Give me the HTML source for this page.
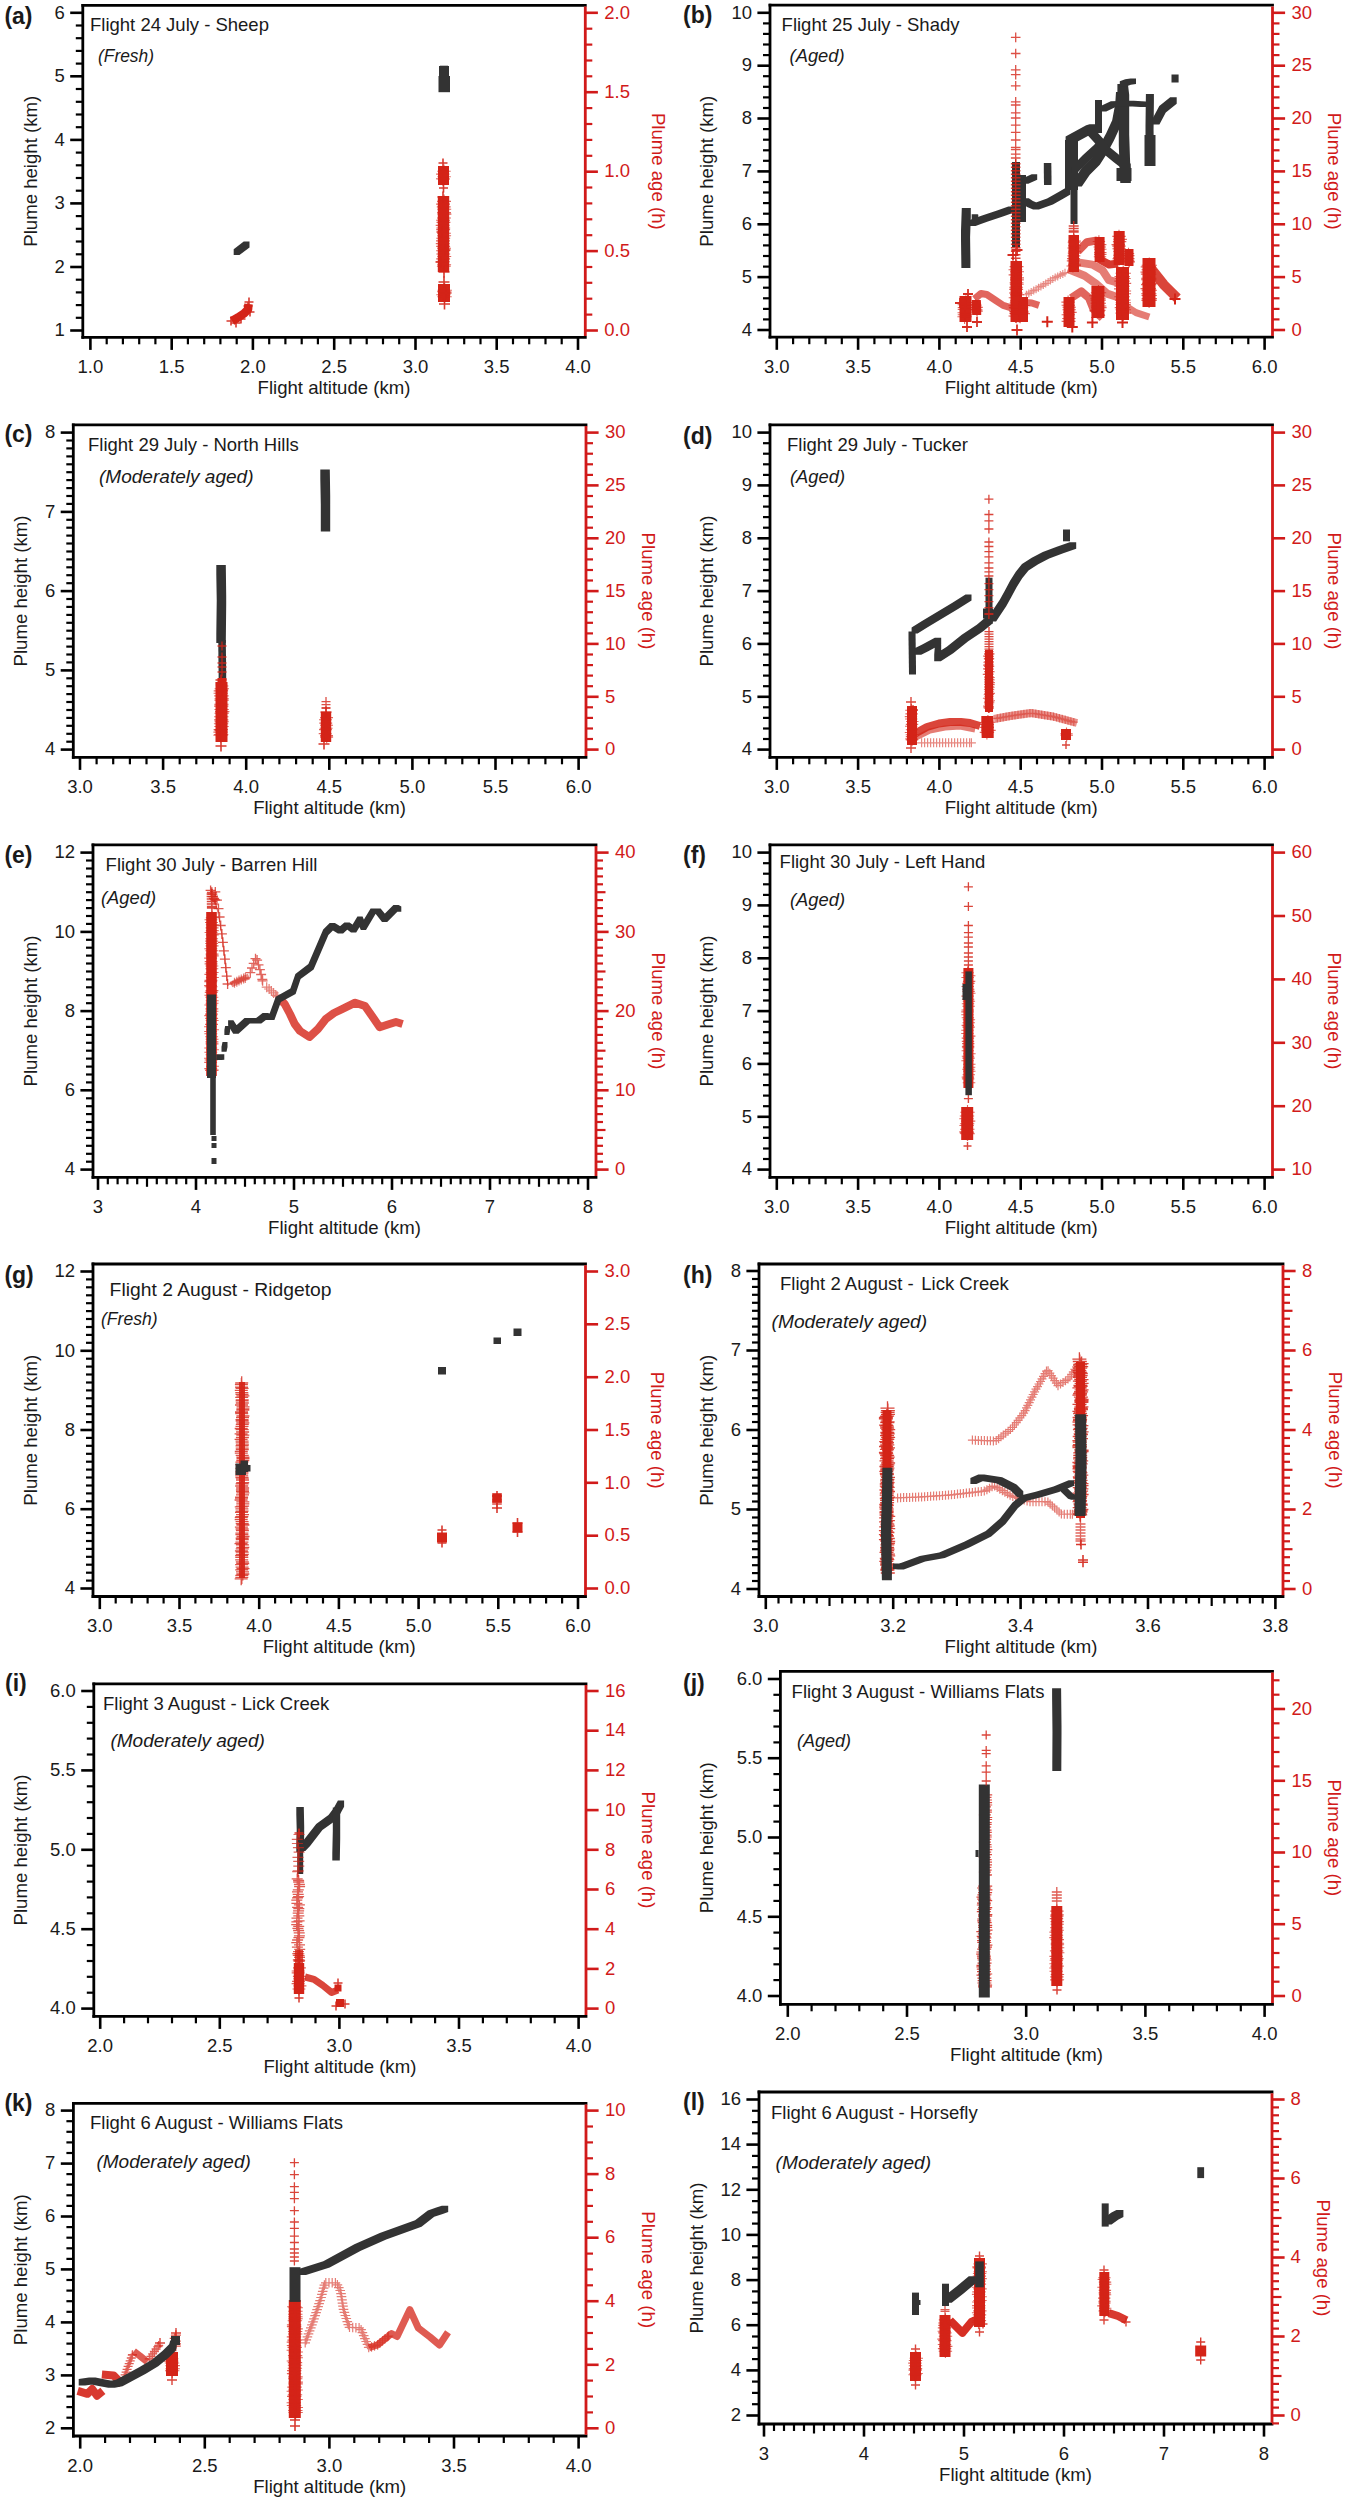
<!DOCTYPE html>
<html><head><meta charset="utf-8"><style>
html,body{margin:0;padding:0;background:#fff;}
svg{display:block;}
text{font-family:"Liberation Sans",sans-serif;fill:#1a1a1a;}
.tk{font-size:18.5px;}
.al{font-size:18.6px;}
.ti{font-size:18.5px;}
.sb{font-size:19px;font-style:italic;}
.rd{fill:#d11a1a;}
.pl{font-size:23px;font-weight:bold;}
</style></head><body>
<svg width="1345" height="2500" viewBox="0 0 1345 2500">
<rect width="1345" height="2500" fill="#fff"/>
<g id="pa"><rect x="439" y="66" width="10" height="11" fill="#333333"/>
<rect x="438.5" y="76" width="11.5" height="16.2" fill="#333333"/>
<rect x="440" y="65.7" width="8" height="1.3" fill="#333333"/>
<path d="M233.7,249.2 243.7,241.6 249.5,241.6 249.5,247.4 239.5,255 233.7,255Z" fill="#333333"/>
<path d="M232,321 238,317.5 244,313.5 248,309.5 248.5,304" fill="none" stroke="#d42418" stroke-width="8.5" stroke-linejoin="round" stroke-linecap="butt" stroke-opacity="1"/>
<path d="M226.5,321h9M231,316.5v9M231.5,323h9M236,318.5v9M244.5,302h9M249,297.5v9M243.5,306h9M248,301.5v9M245.5,312h9M250,307.5v9M236.5,319h9M241,314.5v9" fill="none" stroke="#d42418" stroke-width="1.6" stroke-opacity="0.9"/>
<path d="M438,166 449,166 449,185 438,185Z" fill="#d42418" fill-opacity="1"/>
<path d="M437.3,171.2h13.4M444,164.5v13.4M436.1,174.1h13.4M442.8,167.4v13.4M437.4,176.8h13.4M444.1,170.1v13.4M436.6,179h13.4M443.3,172.3v13.4M436,178.8h13.4M442.7,172.1v13.4" fill="none" stroke="#d42418" stroke-width="1.1" stroke-opacity="0.7"/>
<path d="M438.5,163h9M443,158.5v9M439,188h9M443.5,183.5v9" fill="none" stroke="#d42418" stroke-width="1.6" stroke-opacity="0.9"/>
<path d="M437.8,196 449.2,196 449.2,272 437.8,272Z" fill="#d42418" fill-opacity="1"/>
<path d="M437.1,201.4h13.9M444.1,194.5v13.9M436.1,204.1h13.9M443.1,197.1v13.9M436.8,206.9h13.9M443.8,200v13.9M437.3,209.3h13.9M444.3,202.4v13.9M437.1,212.6h13.9M444.1,205.7v13.9M437.5,214.1h13.9M444.5,207.1v13.9M437,218h13.9M444,211.1v13.9M436.1,220.2h13.9M443.1,213.2v13.9M436.5,222.4h13.9M443.5,215.5v13.9M435.7,225.4h13.9M442.7,218.5v13.9M436.3,228h13.9M443.3,221.1v13.9M436.2,229.6h13.9M443.1,222.7v13.9M437,233.3h13.9M443.9,226.4v13.9M437.2,235.7h13.9M444.2,228.8v13.9M436.3,238.3h13.9M443.3,231.4v13.9M436,240.9h13.9M443,234v13.9M435.8,243.6h13.9M442.7,236.6v13.9M436.2,246.4h13.9M443.2,239.5v13.9M437.1,248.3h13.9M444,241.3v13.9M436.1,250.7h13.9M443,243.7v13.9M436.3,254h13.9M443.2,247v13.9M437.3,256.5h13.9M444.2,249.5v13.9M436.2,258.9h13.9M443.2,251.9v13.9M435.9,261.7h13.9M442.9,254.7v13.9M437.2,264.8h13.9M444.2,257.9v13.9M436.9,266.3h13.9M443.9,259.4v13.9" fill="none" stroke="#d42418" stroke-width="1.1" stroke-opacity="0.7"/>
<path d="M437.5,197h11M443,191.5v11M438.5,272h11M444,266.5v11M436.5,232h11M442,226.5v11M439.5,250h11M445,244.5v11M435.5,262h11M441,256.5v11" fill="none" stroke="#d42418" stroke-width="1.6" stroke-opacity="0.9"/>
<path d="M438,284 450,284 450,302 438,302Z" fill="#d42418" fill-opacity="1"/>
<path d="M437.5,290.2h14.4M444.7,283v14.4M437,291.8h14.4M444.2,284.6v14.4M436.3,294.7h14.4M443.5,287.5v14.4M437.3,296.7h14.4M444.5,289.5v14.4" fill="none" stroke="#d42418" stroke-width="1.1" stroke-opacity="0.7"/>
<path d="M438.5,282h11M444,276.5v11M439,304h11M444.5,298.5v11M440.5,293h11M446,287.5v11" fill="none" stroke="#d42418" stroke-width="1.6" stroke-opacity="0.9"/>
<line x1="81.39999999999999" y1="5.3" x2="586.6999999999999" y2="5.3" stroke="#000" stroke-width="2.8"/>
<line x1="81.39999999999999" y1="337.3" x2="586.6999999999999" y2="337.3" stroke="#000" stroke-width="2.8"/>
<line x1="82.8" y1="3.9" x2="82.8" y2="338.7" stroke="#000" stroke-width="2.8"/>
<line x1="585.3" y1="6.5" x2="585.3" y2="336.1" stroke="#d11a1a" stroke-width="2.8"/>
<line x1="90.4" y1="337.3" x2="90.4" y2="349.9" stroke="#000" stroke-width="2.6"/>
<text x="90.4" y="373.1" text-anchor="middle" class="tk">1.0</text>
<line x1="106.7" y1="337.3" x2="106.7" y2="344.3" stroke="#000" stroke-width="2.2"/>
<line x1="122.9" y1="337.3" x2="122.9" y2="344.3" stroke="#000" stroke-width="2.2"/>
<line x1="139.2" y1="337.3" x2="139.2" y2="344.3" stroke="#000" stroke-width="2.2"/>
<line x1="155.4" y1="337.3" x2="155.4" y2="344.3" stroke="#000" stroke-width="2.2"/>
<line x1="171.7" y1="337.3" x2="171.7" y2="349.9" stroke="#000" stroke-width="2.6"/>
<text x="171.7" y="373.1" text-anchor="middle" class="tk">1.5</text>
<line x1="187.9" y1="337.3" x2="187.9" y2="344.3" stroke="#000" stroke-width="2.2"/>
<line x1="204.2" y1="337.3" x2="204.2" y2="344.3" stroke="#000" stroke-width="2.2"/>
<line x1="220.4" y1="337.3" x2="220.4" y2="344.3" stroke="#000" stroke-width="2.2"/>
<line x1="236.7" y1="337.3" x2="236.7" y2="344.3" stroke="#000" stroke-width="2.2"/>
<line x1="252.9" y1="337.3" x2="252.9" y2="349.9" stroke="#000" stroke-width="2.6"/>
<text x="252.9" y="373.1" text-anchor="middle" class="tk">2.0</text>
<line x1="269.2" y1="337.3" x2="269.2" y2="344.3" stroke="#000" stroke-width="2.2"/>
<line x1="285.4" y1="337.3" x2="285.4" y2="344.3" stroke="#000" stroke-width="2.2"/>
<line x1="301.7" y1="337.3" x2="301.7" y2="344.3" stroke="#000" stroke-width="2.2"/>
<line x1="317.9" y1="337.3" x2="317.9" y2="344.3" stroke="#000" stroke-width="2.2"/>
<line x1="334.2" y1="337.3" x2="334.2" y2="349.9" stroke="#000" stroke-width="2.6"/>
<text x="334.2" y="373.1" text-anchor="middle" class="tk">2.5</text>
<line x1="350.5" y1="337.3" x2="350.5" y2="344.3" stroke="#000" stroke-width="2.2"/>
<line x1="366.7" y1="337.3" x2="366.7" y2="344.3" stroke="#000" stroke-width="2.2"/>
<line x1="383.0" y1="337.3" x2="383.0" y2="344.3" stroke="#000" stroke-width="2.2"/>
<line x1="399.2" y1="337.3" x2="399.2" y2="344.3" stroke="#000" stroke-width="2.2"/>
<line x1="415.5" y1="337.3" x2="415.5" y2="349.9" stroke="#000" stroke-width="2.6"/>
<text x="415.5" y="373.1" text-anchor="middle" class="tk">3.0</text>
<line x1="431.7" y1="337.3" x2="431.7" y2="344.3" stroke="#000" stroke-width="2.2"/>
<line x1="448.0" y1="337.3" x2="448.0" y2="344.3" stroke="#000" stroke-width="2.2"/>
<line x1="464.2" y1="337.3" x2="464.2" y2="344.3" stroke="#000" stroke-width="2.2"/>
<line x1="480.5" y1="337.3" x2="480.5" y2="344.3" stroke="#000" stroke-width="2.2"/>
<line x1="496.7" y1="337.3" x2="496.7" y2="349.9" stroke="#000" stroke-width="2.6"/>
<text x="496.7" y="373.1" text-anchor="middle" class="tk">3.5</text>
<line x1="513.0" y1="337.3" x2="513.0" y2="344.3" stroke="#000" stroke-width="2.2"/>
<line x1="529.2" y1="337.3" x2="529.2" y2="344.3" stroke="#000" stroke-width="2.2"/>
<line x1="545.5" y1="337.3" x2="545.5" y2="344.3" stroke="#000" stroke-width="2.2"/>
<line x1="561.7" y1="337.3" x2="561.7" y2="344.3" stroke="#000" stroke-width="2.2"/>
<line x1="578.0" y1="337.3" x2="578.0" y2="349.9" stroke="#000" stroke-width="2.6"/>
<text x="578.0" y="373.1" text-anchor="middle" class="tk">4.0</text>
<line x1="70.2" y1="330.5" x2="82.8" y2="330.5" stroke="#000" stroke-width="2.6"/>
<text x="64.8" y="336.2" text-anchor="end" class="tk">1</text>
<line x1="75.8" y1="317.8" x2="82.8" y2="317.8" stroke="#000" stroke-width="2.2"/>
<line x1="75.8" y1="305.1" x2="82.8" y2="305.1" stroke="#000" stroke-width="2.2"/>
<line x1="75.8" y1="292.4" x2="82.8" y2="292.4" stroke="#000" stroke-width="2.2"/>
<line x1="75.8" y1="279.7" x2="82.8" y2="279.7" stroke="#000" stroke-width="2.2"/>
<line x1="70.2" y1="267.0" x2="82.8" y2="267.0" stroke="#000" stroke-width="2.6"/>
<text x="64.8" y="272.7" text-anchor="end" class="tk">2</text>
<line x1="75.8" y1="254.3" x2="82.8" y2="254.3" stroke="#000" stroke-width="2.2"/>
<line x1="75.8" y1="241.5" x2="82.8" y2="241.5" stroke="#000" stroke-width="2.2"/>
<line x1="75.8" y1="228.8" x2="82.8" y2="228.8" stroke="#000" stroke-width="2.2"/>
<line x1="75.8" y1="216.1" x2="82.8" y2="216.1" stroke="#000" stroke-width="2.2"/>
<line x1="70.2" y1="203.4" x2="82.8" y2="203.4" stroke="#000" stroke-width="2.6"/>
<text x="64.8" y="209.1" text-anchor="end" class="tk">3</text>
<line x1="75.8" y1="190.7" x2="82.8" y2="190.7" stroke="#000" stroke-width="2.2"/>
<line x1="75.8" y1="178.0" x2="82.8" y2="178.0" stroke="#000" stroke-width="2.2"/>
<line x1="75.8" y1="165.3" x2="82.8" y2="165.3" stroke="#000" stroke-width="2.2"/>
<line x1="75.8" y1="152.6" x2="82.8" y2="152.6" stroke="#000" stroke-width="2.2"/>
<line x1="70.2" y1="139.9" x2="82.8" y2="139.9" stroke="#000" stroke-width="2.6"/>
<text x="64.8" y="145.6" text-anchor="end" class="tk">4</text>
<line x1="75.8" y1="127.2" x2="82.8" y2="127.2" stroke="#000" stroke-width="2.2"/>
<line x1="75.8" y1="114.5" x2="82.8" y2="114.5" stroke="#000" stroke-width="2.2"/>
<line x1="75.8" y1="101.8" x2="82.8" y2="101.8" stroke="#000" stroke-width="2.2"/>
<line x1="75.8" y1="89.0" x2="82.8" y2="89.0" stroke="#000" stroke-width="2.2"/>
<line x1="70.2" y1="76.3" x2="82.8" y2="76.3" stroke="#000" stroke-width="2.6"/>
<text x="64.8" y="82.0" text-anchor="end" class="tk">5</text>
<line x1="75.8" y1="63.6" x2="82.8" y2="63.6" stroke="#000" stroke-width="2.2"/>
<line x1="75.8" y1="50.9" x2="82.8" y2="50.9" stroke="#000" stroke-width="2.2"/>
<line x1="75.8" y1="38.2" x2="82.8" y2="38.2" stroke="#000" stroke-width="2.2"/>
<line x1="75.8" y1="25.5" x2="82.8" y2="25.5" stroke="#000" stroke-width="2.2"/>
<line x1="70.2" y1="12.8" x2="82.8" y2="12.8" stroke="#000" stroke-width="2.6"/>
<text x="64.8" y="18.5" text-anchor="end" class="tk">6</text>
<line x1="585.3" y1="330.5" x2="597.9" y2="330.5" stroke="#d11a1a" stroke-width="2.6"/>
<text x="604.3" y="336.2" class="tk rd">0.0</text>
<line x1="585.3" y1="314.6" x2="592.3" y2="314.6" stroke="#d11a1a" stroke-width="2.2"/>
<line x1="585.3" y1="298.7" x2="592.3" y2="298.7" stroke="#d11a1a" stroke-width="2.2"/>
<line x1="585.3" y1="282.8" x2="592.3" y2="282.8" stroke="#d11a1a" stroke-width="2.2"/>
<line x1="585.3" y1="267.0" x2="592.3" y2="267.0" stroke="#d11a1a" stroke-width="2.2"/>
<line x1="585.3" y1="251.1" x2="597.9" y2="251.1" stroke="#d11a1a" stroke-width="2.6"/>
<text x="604.3" y="256.8" class="tk rd">0.5</text>
<line x1="585.3" y1="235.2" x2="592.3" y2="235.2" stroke="#d11a1a" stroke-width="2.2"/>
<line x1="585.3" y1="219.3" x2="592.3" y2="219.3" stroke="#d11a1a" stroke-width="2.2"/>
<line x1="585.3" y1="203.4" x2="592.3" y2="203.4" stroke="#d11a1a" stroke-width="2.2"/>
<line x1="585.3" y1="187.5" x2="592.3" y2="187.5" stroke="#d11a1a" stroke-width="2.2"/>
<line x1="585.3" y1="171.7" x2="597.9" y2="171.7" stroke="#d11a1a" stroke-width="2.6"/>
<text x="604.3" y="177.3" class="tk rd">1.0</text>
<line x1="585.3" y1="155.8" x2="592.3" y2="155.8" stroke="#d11a1a" stroke-width="2.2"/>
<line x1="585.3" y1="139.9" x2="592.3" y2="139.9" stroke="#d11a1a" stroke-width="2.2"/>
<line x1="585.3" y1="124.0" x2="592.3" y2="124.0" stroke="#d11a1a" stroke-width="2.2"/>
<line x1="585.3" y1="108.1" x2="592.3" y2="108.1" stroke="#d11a1a" stroke-width="2.2"/>
<line x1="585.3" y1="92.2" x2="597.9" y2="92.2" stroke="#d11a1a" stroke-width="2.6"/>
<text x="604.3" y="97.9" class="tk rd">1.5</text>
<line x1="585.3" y1="76.3" x2="592.3" y2="76.3" stroke="#d11a1a" stroke-width="2.2"/>
<line x1="585.3" y1="60.5" x2="592.3" y2="60.5" stroke="#d11a1a" stroke-width="2.2"/>
<line x1="585.3" y1="44.6" x2="592.3" y2="44.6" stroke="#d11a1a" stroke-width="2.2"/>
<line x1="585.3" y1="28.7" x2="592.3" y2="28.7" stroke="#d11a1a" stroke-width="2.2"/>
<line x1="585.3" y1="12.8" x2="597.9" y2="12.8" stroke="#d11a1a" stroke-width="2.6"/>
<text x="604.3" y="18.5" class="tk rd">2.0</text>
<text x="334.0" y="393.8" text-anchor="middle" class="al">Flight altitude (km)</text>
<text transform="translate(37.3,171.3) rotate(-90)" text-anchor="middle" class="al">Plume height (km)</text>
<text transform="translate(651.8,171.3) rotate(90)" text-anchor="middle" class="al rd">Plume age (h)</text>
<text x="4.4" y="23.5" class="pl">(a)</text>
<text x="90" y="30.5" class="ti" xml:space="preserve">Flight 24 July - Sheep</text>
<text x="98" y="62" class="sb" textLength="56" lengthAdjust="spacingAndGlyphs">(Fresh)</text></g>
<g id="pb"><path d="M1010.9,37.4h9.6M1015.7,32.6v9.6M1010.9,53.5h9.6M1015.7,48.7v9.6M1010.9,69.9h9.6M1015.7,65.1v9.6M1010.9,74.6h9.6M1015.7,69.8v9.6M1010.9,85.8h9.6M1015.7,81v9.6M1010.9,101.8h9.6M1015.7,97v9.6M1010.9,105h9.6M1015.7,100.2v9.6M1010.9,112.8h9.6M1015.7,108v9.6M1010.9,118h9.6M1015.7,113.2v9.6M1010.9,125.2h9.6M1015.7,120.4v9.6M1010.9,132.3h9.6M1015.7,127.5v9.6M1010.9,140h9.6M1015.7,135.2v9.6M1010.9,147.5h9.6M1015.7,142.7v9.6M1010.9,149.7h9.6M1015.7,144.9v9.6M1010.9,154.2h9.6M1015.7,149.4v9.6M1010.9,158h9.6M1015.7,153.2v9.6" fill="none" stroke="#d42418" stroke-width="1.3" stroke-opacity="0.8"/>
<path d="M961,230.5 961.8,208 970.8,208 970.8,217 970,239.5 961,239.5ZM961,230.5 970,230.5 970.4,259 970.4,268 961.4,268 961,239.5Z" fill="#333333"/>
<path d="M971.7,214.3 977.7,214.3 978.3,214.7 978.3,220.7 972.3,220.7 971.7,220.3Z" fill="#333333"/>
<path d="M969.8,220.1 975.1,218.1 980.9,218.1 980.9,223.9 975.6,225.9 969.8,225.9ZM975.1,218.1 982.1,215.6 987.9,215.6 987.9,221.4 980.9,223.9 975.1,223.9ZM982.1,215.6 997.1,210.6 1002.9,210.6 1002.9,216.4 987.9,221.4 982.1,221.4ZM997.1,210.6 1008.4,206.6 1014.2,206.6 1014.2,212.4 1002.9,216.4 997.1,216.4Z" fill="#333333"/>
<path d="M1012,162 1020,162 1020,247 1012,247Z" fill="#333333"/>
<path d="M1012,175 1026,175 1026,222 1012,222Z" fill="#333333"/>
<path d="M1022.8,178.2 1031.7,174.3 1037.2,174.3 1037.2,179.8 1028.3,183.7 1022.8,183.7Z" fill="#333333"/>
<path d="M1043.8,163 1051.3,163 1051.5,177.5 1051.5,185 1044,185 1043.8,170.5Z" fill="#333333"/>
<path d="M1023,198.3 1028.8,198.3 1032.9,201.1 1032.9,206.9 1027.1,206.9 1023,204.1ZM1027.1,201.1 1032.9,201.1 1038.9,203.6 1038.9,209.4 1033.1,209.4 1027.1,206.9ZM1033.1,203.6 1047.1,198.6 1052.9,198.6 1052.9,204.4 1038.9,209.4 1033.1,209.4ZM1047.1,198.6 1058.6,192.1 1064.4,192.1 1064.4,197.9 1052.9,204.4 1047.1,204.4ZM1058.6,192.1 1064.6,188.6 1070.4,188.6 1070.4,194.4 1064.4,197.9 1058.6,197.9Z" fill="#333333"/>
<path d="M1065,140 1078,140 1078,190 1065,190Z" fill="#333333"/>
<path d="M1070.5,186 1077.5,186 1077.5,224 1070.5,224Z" fill="#333333"/>
<path d="M1065.6,136.5 1075.2,131.2 1082.8,131.2 1082.8,138.8 1073.1,144 1065.6,144ZM1075.2,131.2 1086.2,125.2 1093.8,125.2 1093.8,132.8 1082.8,138.8 1075.2,138.8ZM1086.2,125.2 1089.6,124.3 1097.1,124.3 1097.1,131.8 1093.8,132.8 1086.2,132.8Z" fill="#333333"/>
<path d="M1074.3,179.1 1082.2,167.2 1089.8,167.2 1089.8,174.8 1081.8,186.6 1074.3,186.6ZM1082.2,167.2 1092.2,157.2 1099.8,157.2 1099.8,164.8 1089.8,174.8 1082.2,174.8ZM1092.2,157.2 1099.2,146.2 1106.8,146.2 1106.8,153.8 1099.8,164.8 1092.2,164.8ZM1099.2,146.2 1106.2,133.2 1113.8,133.2 1113.8,140.8 1106.8,153.8 1099.2,153.8ZM1106.2,133.2 1112.2,120.2 1119.8,120.2 1119.8,127.8 1113.8,140.8 1106.2,140.8ZM1112.2,120.2 1115.2,104.2 1122.8,104.2 1122.8,111.8 1119.8,127.8 1112.2,127.8ZM1115.2,104.2 1116,92 1123.5,92 1123.5,99.5 1122.8,111.8 1115.2,111.8Z" fill="#333333"/>
<path d="M1071.1,166.9 1083,155 1089,155 1089,161 1077.1,172.9 1071.1,172.9ZM1083,155 1094,145 1100,145 1100,151 1089,161 1083,161ZM1094,145 1099,139.3 1105,139.3 1105,145.3 1100,151 1094,151Z" fill="#333333"/>
<path d="M1087.9,129.1 1094.4,129.1 1103.2,138.8 1103.2,145.2 1096.8,145.2 1087.9,135.6ZM1096.8,138.8 1103.2,138.8 1109.2,146.8 1109.2,153.2 1102.8,153.2 1096.8,145.2ZM1102.8,146.8 1109.2,146.8 1120.2,155.8 1120.2,162.2 1113.8,162.2 1102.8,153.2ZM1113.8,155.8 1120.2,155.8 1130.7,163.8 1130.7,170.3 1124.2,170.3 1113.8,162.2Z" fill="#333333"/>
<path d="M1117.4,84 1127.9,84 1129.2,94.8 1129.2,105.2 1118.8,105.2 1117.4,94.5ZM1118.8,94.8 1129.2,94.8 1129.2,145.2 1118.8,145.2ZM1118.8,134.8 1129.2,134.8 1130.2,164.8 1130.2,175.2 1119.8,175.2 1118.8,145.2ZM1119.8,164.8 1130.2,164.8 1130.8,172.5 1130.8,183 1120.3,183 1119.8,175.2Z" fill="#333333"/>
<rect x="1116.5" y="168" width="15" height="13" fill="#333333"/>
<path d="M1119.8,81.3 1125.2,79.2 1130.8,79.2 1130.8,84.8 1125.3,86.8 1119.8,86.8ZM1125.2,79.2 1130.5,78.6 1136,78.6 1136,84.1 1130.8,84.8 1125.2,84.8Z" fill="#333333"/>
<path d="M1095,100 1102,100 1102,133 1095,133Z" fill="#333333"/>
<path d="M1100.7,106.1 1110.8,101.2 1116.2,101.2 1116.2,106.8 1106.2,111.6 1100.7,111.6ZM1110.8,101.2 1128.2,100.8 1133.8,100.8 1133.8,106.2 1116.2,106.8 1110.8,106.8ZM1128.2,100.8 1133.8,100.8 1146,101.6 1146,107.1 1140.5,107.1 1128.2,106.2Z" fill="#333333"/>
<path d="M1145.5,126 1145.9,94 1153.9,94 1153.9,102 1153.5,134 1145.5,134ZM1145.5,126 1153.5,126 1153.9,152 1153.9,160 1145.9,160 1145.5,134Z" fill="#333333"/>
<path d="M1144.5,135 1155.5,135 1155.5,166 1144.5,166Z" fill="#333333"/>
<path d="M1152.9,117.9 1159.3,106 1165.8,106 1165.8,112.5 1159.4,124.4 1152.9,124.4ZM1159.3,106 1170.2,97.3 1176.7,97.3 1176.7,103.8 1165.8,112.5 1159.3,112.5Z" fill="#333333"/>
<rect x="1171.5" y="74.5" width="7.1" height="8" fill="#333333"/>
<path d="M1010.9,163.8h9.6M1015.7,159v9.6M1010.9,167.3h9.6M1015.7,162.5v9.6M1010.9,170.8h9.6M1015.7,166v9.6M1010.9,174.3h9.6M1015.7,169.5v9.6M1010.9,177.8h9.6M1015.7,173v9.6M1010.9,181.3h9.6M1015.7,176.5v9.6M1010.9,184.8h9.6M1015.7,180v9.6M1010.9,188.3h9.6M1015.7,183.5v9.6M1010.9,191.8h9.6M1015.7,187v9.6M1010.9,195.3h9.6M1015.7,190.5v9.6M1010.9,198.8h9.6M1015.7,194v9.6M1010.9,202.3h9.6M1015.7,197.5v9.6M1010.9,205.8h9.6M1015.7,201v9.6M1010.9,209.3h9.6M1015.7,204.5v9.6M1010.9,212.8h9.6M1015.7,208v9.6M1010.9,216.3h9.6M1015.7,211.5v9.6M1010.9,219.8h9.6M1015.7,215v9.6M1010.9,223.3h9.6M1015.7,218.5v9.6M1010.9,226.8h9.6M1015.7,222v9.6M1010.9,230.3h9.6M1015.7,225.5v9.6M1010.9,233.8h9.6M1015.7,229v9.6M1010.9,237.3h9.6M1015.7,232.5v9.6M1010.9,240.8h9.6M1015.7,236v9.6M1010.9,244.3h9.6M1015.7,239.5v9.6M1010.9,247.8h9.6M1015.7,243v9.6M1010.9,251.3h9.6M1015.7,246.5v9.6M1010.9,254.8h9.6M1015.7,250v9.6M1010.9,258.2h9.6M1015.7,253.4v9.6" fill="none" stroke="#d42418" stroke-width="1.4" stroke-opacity="0.85"/>
<path d="M1010.5,261 1022,261 1022,322 1010.5,322Z" fill="#d42418" fill-opacity="1"/>
<path d="M1009.6,266.6h13.9M1016.6,259.6v13.9M1008.5,269.7h13.9M1015.5,262.7v13.9M1010.1,271.7h13.9M1017,264.7v13.9M1008.6,274.9h13.9M1015.5,268v13.9M1010.1,277.9h13.9M1017,270.9v13.9M1010,279.9h13.9M1017,272.9v13.9M1009.6,282.7h13.9M1016.6,275.7v13.9M1009.8,284.2h13.9M1016.7,277.3v13.9M1009.2,287.2h13.9M1016.1,280.3v13.9M1009.2,289.4h13.9M1016.1,282.4v13.9M1009,293h13.9M1016,286.1v13.9M1010,294.8h13.9M1017,287.8v13.9M1008.7,297.7h13.9M1015.6,290.8v13.9M1010.1,300.9h13.9M1017,293.9v13.9M1009.7,302.9h13.9M1016.7,296v13.9M1008.4,305.8h13.9M1015.4,298.9v13.9M1008.9,307.7h13.9M1015.9,300.8v13.9M1009.7,311.5h13.9M1016.6,304.5v13.9M1009.7,313.6h13.9M1016.6,306.6v13.9M1008.5,316h13.9M1015.5,309v13.9M1009.6,316.3h13.9M1016.6,309.4v13.9" fill="none" stroke="#d42418" stroke-width="1.1" stroke-opacity="0.7"/>
<path d="M1011,297 1028,297 1028,322 1011,322Z" fill="#d42418" fill-opacity="1"/>
<path d="M1010.4,305.5h19.4M1020.1,295.8v19.4M1008.9,307.8h19.4M1018.6,298.1v19.4M1009.3,311.2h19.4M1019,301.5v19.4M1009.5,313.1h19.4M1019.2,303.4v19.4M1010.5,313.6h19.4M1020.2,303.9v19.4" fill="none" stroke="#d42418" stroke-width="1.1" stroke-opacity="0.7"/>
<path d="M1011.5,330h11M1017,324.5v11M1007.5,255h11M1013,249.5v11M1011.5,250h11M1017,244.5v11" fill="none" stroke="#d42418" stroke-width="1.8" stroke-opacity="0.95"/>
<path d="M959.5,296 971.5,296 971.5,322 959.5,322Z" fill="#d42418" fill-opacity="1"/>
<path d="M958.7,302.5h14.4M965.9,295.3v14.4M957.6,304.7h14.4M964.8,297.5v14.4M957.7,307.6h14.4M964.9,300.4v14.4M957.7,309.5h14.4M964.9,302.3v14.4M957.5,312.7h14.4M964.7,305.5v14.4M957.7,314.8h14.4M964.9,307.6v14.4M957.4,316.8h14.4M964.6,309.6v14.4" fill="none" stroke="#d42418" stroke-width="1.1" stroke-opacity="0.7"/>
<path d="M971.8,300 980.8,300 981.2,306 981.2,315 972.2,315 971.8,309Z" fill="#d42418" fill-opacity="1"/>
<path d="M970,305.1h11.4M975.7,299.4v11.4M971.4,307.4h11.4M977.1,301.7v11.4M971.1,309.9h11.4M976.8,304.2v11.4M971.4,311.3h11.4M977.1,305.6v11.4" fill="none" stroke="#d42418" stroke-width="1.1" stroke-opacity="0.7"/>
<path d="M962,327h10M967,322v10M972,322h10M977,317v10M955,303h10M960,298v10M963,294h10M968,289v10" fill="none" stroke="#d42418" stroke-width="1.8" stroke-opacity="0.95"/>
<path d="M974.5,299 981,293.5 986.8,294.5 995.8,300.5 1003.2,305.4 1011.3,307.9" fill="none" stroke="#d42418" stroke-width="7" stroke-linejoin="round" stroke-linecap="butt" stroke-opacity="0.7"/>
<path d="M1022,302.2 1031.8,303 1039,305.4" fill="none" stroke="#d42418" stroke-width="7" stroke-linejoin="round" stroke-linecap="butt" stroke-opacity="0.7"/>
<path d="M1022.4,294.8h8M1026.4,290.8v8M1024.8,293.4h8M1028.8,289.4v8M1027.2,292h8M1031.2,288v8M1029.7,290.6h8M1033.7,286.6v8M1032.1,289.2h8M1036.1,285.2v8M1034.5,287.8h8M1038.5,283.8v8M1036.9,286.4h8M1040.9,282.4v8M1039.3,284.9h8M1043.3,280.9v8M1041.7,283.5h8M1045.7,279.5v8M1044.1,282h8M1048.1,278v8M1046.4,280.5h8M1050.4,276.5v8M1048.8,279h8M1052.8,275v8M1051.2,277.6h8M1055.2,273.6v8M1053.7,276.4h8M1057.7,272.4v8M1056.3,275.1h8M1060.3,271.1v8M1058.8,273.9h8M1062.8,269.9v8M1061,272.7h8M1065,268.7v8" fill="none" stroke="#d42418" stroke-width="1.1" stroke-opacity="0.55"/>
<path d="M1041.8,321.8h11M1047.3,316.3v11M1086.9,322.6h11M1092.4,317.1v11M1117,322.6h11M1122.5,317.1v11M1066.8,327h11M1072.3,321.5v11M1169.5,299h11M1175,293.5v11" fill="none" stroke="#d42418" stroke-width="2" stroke-opacity="1"/>
<path d="M1068.5,235 1079,235 1079,272 1068.5,272Z" fill="#d42418" fill-opacity="1"/>
<path d="M1068,241h12.9M1074.5,234.6v12.9M1067.7,242.3h12.9M1074.2,235.9v12.9M1068.1,245.8h12.9M1074.6,239.4v12.9M1067.4,248h12.9M1073.9,241.6v12.9M1068.2,251.3h12.9M1074.6,244.9v12.9M1067.8,253.1h12.9M1074.3,246.6v12.9M1067.4,255.9h12.9M1073.8,249.4v12.9M1067,258.6h12.9M1073.5,252.1v12.9M1066.8,260.9h12.9M1073.3,254.4v12.9M1068,264.3h12.9M1074.5,257.8v12.9M1068,265.6h12.9M1074.4,259.2v12.9M1066.5,266h12.9M1072.9,259.6v12.9" fill="none" stroke="#d42418" stroke-width="1.1" stroke-opacity="0.7"/>
<path d="M1068.7,226h10M1073.7,221v10M1068.7,228.5h10M1073.7,223.5v10M1068.7,231h10M1073.7,226v10M1068.7,232h10M1073.7,227v10" fill="none" stroke="#d42418" stroke-width="1.4" stroke-opacity="0.85"/>
<path d="M1078,251.2 1086.8,242.3 1095.8,240.6 1102.5,242.3" fill="none" stroke="#d42418" stroke-width="8" stroke-linejoin="round" stroke-linecap="butt" stroke-opacity="0.75"/>
<path d="M1094.6,237 1104.6,237 1104.6,262 1094.6,262Z" fill="#d42418" fill-opacity="1"/>
<path d="M1092.7,241.5h12.4M1098.9,235.3v12.4M1094,244.6h12.4M1100.2,238.4v12.4M1093.6,247h12.4M1099.8,240.8v12.4M1094.1,249.3h12.4M1100.3,243.1v12.4M1094.1,252.6h12.4M1100.3,246.4v12.4M1094.1,254.5h12.4M1100.3,248.3v12.4M1093.8,256.7h12.4M1100,250.5v12.4" fill="none" stroke="#d42418" stroke-width="1.1" stroke-opacity="0.7"/>
<path d="M1099,259 1109,264.6 1118,263.5" fill="none" stroke="#d42418" stroke-width="8" stroke-linejoin="round" stroke-linecap="butt" stroke-opacity="0.9"/>
<path d="M1113.7,231 1124.7,231 1124.7,265 1113.7,265Z" fill="#d42418" fill-opacity="1"/>
<path d="M1112.3,236.4h13.4M1119,229.7v13.4M1113.5,239.4h13.4M1120.2,232.7v13.4M1112.9,241.6h13.4M1119.6,234.9v13.4M1111.5,244.6h13.4M1118.2,237.9v13.4M1112.3,246.1h13.4M1119,239.4v13.4M1112.4,248.8h13.4M1119.1,242.1v13.4M1113.3,251.5h13.4M1120,244.8v13.4M1113.2,255.2h13.4M1119.9,248.5v13.4M1113.1,257.8h13.4M1119.8,251.1v13.4M1112.4,258.8h13.4M1119.1,252.1v13.4" fill="none" stroke="#d42418" stroke-width="1.1" stroke-opacity="0.7"/>
<path d="M1124.5,249 1133.5,249 1133.5,266 1124.5,266Z" fill="#d42418" fill-opacity="1"/>
<path d="M1122.8,253.5h11.4M1128.5,247.8v11.4M1123.1,255.6h11.4M1128.8,249.9v11.4M1123.1,258.6h11.4M1128.8,252.9v11.4M1122.9,260.7h11.4M1128.6,255v11.4M1123.6,261.9h11.4M1129.3,256.2v11.4" fill="none" stroke="#d42418" stroke-width="1.1" stroke-opacity="0.7"/>
<path d="M1078,262.4 1092.4,264.6 1102.5,270.2 1109,280.2 1118,282.5 1127,282.5" fill="none" stroke="#d42418" stroke-width="8" stroke-linejoin="round" stroke-linecap="butt" stroke-opacity="0.6"/>
<path d="M1067.9,269 1084.6,275.8 1095.8,283.6 1107,293.6 1120.3,298" fill="none" stroke="#d42418" stroke-width="8" stroke-linejoin="round" stroke-linecap="butt" stroke-opacity="0.6"/>
<path d="M1116,267 1129,267 1129,320 1116,320Z" fill="#d42418" fill-opacity="1"/>
<path d="M1115.5,273.2h15.4M1123.2,265.5v15.4M1114.5,276.6h15.4M1122.2,268.9v15.4M1115.3,278.5h15.4M1123,270.8v15.4M1114.4,281.1h15.4M1122.1,273.4v15.4M1115.8,283.4h15.4M1123.5,275.7v15.4M1114.4,286.3h15.4M1122.1,278.6v15.4M1114,288.9h15.4M1121.7,281.2v15.4M1115.7,291h15.4M1123.4,283.3v15.4M1115.7,293.8h15.4M1123.4,286.1v15.4M1114.4,296.8h15.4M1122.1,289.1v15.4M1115.1,300.1h15.4M1122.8,292.4v15.4M1115.6,302.7h15.4M1123.3,295v15.4M1115.4,304.5h15.4M1123.1,296.8v15.4M1114.7,307.6h15.4M1122.4,299.9v15.4M1115.5,309.7h15.4M1123.2,302v15.4M1115.7,313.1h15.4M1123.4,305.4v15.4M1115.5,313.1h15.4M1123.2,305.4v15.4" fill="none" stroke="#d42418" stroke-width="1.1" stroke-opacity="0.7"/>
<path d="M1063.5,297 1074.5,297 1074.5,327 1063.5,327Z" fill="#d42418" fill-opacity="1"/>
<path d="M1061.4,302.1h13.4M1068.1,295.4v13.4M1061.6,305.2h13.4M1068.3,298.5v13.4M1062.5,307.2h13.4M1069.2,300.5v13.4M1062.5,309.8h13.4M1069.2,303.1v13.4M1063.3,312.4h13.4M1070,305.7v13.4M1061.6,314.8h13.4M1068.3,308.1v13.4M1062.2,318.5h13.4M1068.9,311.8v13.4M1061.5,321.3h13.4M1068.2,314.6v13.4M1062.1,321.4h13.4M1068.8,314.7v13.4" fill="none" stroke="#d42418" stroke-width="1.1" stroke-opacity="0.7"/>
<path d="M1071.2,298 1081.3,291.4 1089,298 1093.5,309.2 1102.5,318.1" fill="none" stroke="#d42418" stroke-width="8" stroke-linejoin="round" stroke-linecap="butt" stroke-opacity="0.7"/>
<path d="M1091.4,286 1104.4,286 1104.4,318 1091.4,318Z" fill="#d42418" fill-opacity="1"/>
<path d="M1090.8,292.8h15.4M1098.5,285.1v15.4M1089.3,295.8h15.4M1097,288.1v15.4M1090.3,298.2h15.4M1098,290.5v15.4M1090.5,300.1h15.4M1098.2,292.4v15.4M1090.6,303.2h15.4M1098.3,295.5v15.4M1090.9,306h15.4M1098.6,298.3v15.4M1091.2,307.6h15.4M1098.9,299.9v15.4M1090.1,310.4h15.4M1097.8,302.7v15.4M1089.5,310.9h15.4M1097.2,303.2v15.4" fill="none" stroke="#d42418" stroke-width="1.1" stroke-opacity="0.7"/>
<path d="M1142.5,258 1155.5,258 1155.5,307 1142.5,307Z" fill="#d42418" fill-opacity="1"/>
<path d="M1141.6,265.3h15.4M1149.3,257.6v15.4M1140.7,266.9h15.4M1148.4,259.2v15.4M1141.5,269.8h15.4M1149.2,262.1v15.4M1140.5,272.1h15.4M1148.2,264.4v15.4M1140.9,274.1h15.4M1148.6,266.4v15.4M1141.1,278.3h15.4M1148.8,270.6v15.4M1141.1,279.7h15.4M1148.8,272v15.4M1141.9,283.4h15.4M1149.6,275.7v15.4M1141,284.6h15.4M1148.7,276.9v15.4M1140.5,288.6h15.4M1148.2,280.9v15.4M1141.6,290.3h15.4M1149.3,282.6v15.4M1141.1,293.7h15.4M1148.8,286v15.4M1141.5,295.5h15.4M1149.2,287.8v15.4M1141.6,298.6h15.4M1149.3,290.9v15.4M1141.4,300.4h15.4M1149.1,292.7v15.4" fill="none" stroke="#d42418" stroke-width="1.1" stroke-opacity="0.7"/>
<path d="M1151.5,269 1163.8,284.7 1177.2,298" fill="none" stroke="#d42418" stroke-width="10" stroke-linejoin="round" stroke-linecap="butt" stroke-opacity="0.85"/>
<path d="M1127,307 1136,312.6 1149.3,317" fill="none" stroke="#d42418" stroke-width="7" stroke-linejoin="round" stroke-linecap="butt" stroke-opacity="0.6"/>
<line x1="768.6" y1="5.2" x2="1273.9" y2="5.2" stroke="#000" stroke-width="2.8"/>
<line x1="768.6" y1="337.2" x2="1273.9" y2="337.2" stroke="#000" stroke-width="2.8"/>
<line x1="770" y1="3.8000000000000003" x2="770" y2="338.59999999999997" stroke="#000" stroke-width="2.8"/>
<line x1="1272.5" y1="6.4" x2="1272.5" y2="336.0" stroke="#d11a1a" stroke-width="2.8"/>
<line x1="776.8" y1="337.2" x2="776.8" y2="349.8" stroke="#000" stroke-width="2.6"/>
<text x="776.8" y="373.0" text-anchor="middle" class="tk">3.0</text>
<line x1="793.1" y1="337.2" x2="793.1" y2="344.2" stroke="#000" stroke-width="2.2"/>
<line x1="809.3" y1="337.2" x2="809.3" y2="344.2" stroke="#000" stroke-width="2.2"/>
<line x1="825.6" y1="337.2" x2="825.6" y2="344.2" stroke="#000" stroke-width="2.2"/>
<line x1="841.8" y1="337.2" x2="841.8" y2="344.2" stroke="#000" stroke-width="2.2"/>
<line x1="858.1" y1="337.2" x2="858.1" y2="349.8" stroke="#000" stroke-width="2.6"/>
<text x="858.1" y="373.0" text-anchor="middle" class="tk">3.5</text>
<line x1="874.4" y1="337.2" x2="874.4" y2="344.2" stroke="#000" stroke-width="2.2"/>
<line x1="890.6" y1="337.2" x2="890.6" y2="344.2" stroke="#000" stroke-width="2.2"/>
<line x1="906.9" y1="337.2" x2="906.9" y2="344.2" stroke="#000" stroke-width="2.2"/>
<line x1="923.1" y1="337.2" x2="923.1" y2="344.2" stroke="#000" stroke-width="2.2"/>
<line x1="939.4" y1="337.2" x2="939.4" y2="349.8" stroke="#000" stroke-width="2.6"/>
<text x="939.4" y="373.0" text-anchor="middle" class="tk">4.0</text>
<line x1="955.7" y1="337.2" x2="955.7" y2="344.2" stroke="#000" stroke-width="2.2"/>
<line x1="971.9" y1="337.2" x2="971.9" y2="344.2" stroke="#000" stroke-width="2.2"/>
<line x1="988.2" y1="337.2" x2="988.2" y2="344.2" stroke="#000" stroke-width="2.2"/>
<line x1="1004.4" y1="337.2" x2="1004.4" y2="344.2" stroke="#000" stroke-width="2.2"/>
<line x1="1020.7" y1="337.2" x2="1020.7" y2="349.8" stroke="#000" stroke-width="2.6"/>
<text x="1020.7" y="373.0" text-anchor="middle" class="tk">4.5</text>
<line x1="1037.0" y1="337.2" x2="1037.0" y2="344.2" stroke="#000" stroke-width="2.2"/>
<line x1="1053.2" y1="337.2" x2="1053.2" y2="344.2" stroke="#000" stroke-width="2.2"/>
<line x1="1069.5" y1="337.2" x2="1069.5" y2="344.2" stroke="#000" stroke-width="2.2"/>
<line x1="1085.7" y1="337.2" x2="1085.7" y2="344.2" stroke="#000" stroke-width="2.2"/>
<line x1="1102.0" y1="337.2" x2="1102.0" y2="349.8" stroke="#000" stroke-width="2.6"/>
<text x="1102.0" y="373.0" text-anchor="middle" class="tk">5.0</text>
<line x1="1118.3" y1="337.2" x2="1118.3" y2="344.2" stroke="#000" stroke-width="2.2"/>
<line x1="1134.5" y1="337.2" x2="1134.5" y2="344.2" stroke="#000" stroke-width="2.2"/>
<line x1="1150.8" y1="337.2" x2="1150.8" y2="344.2" stroke="#000" stroke-width="2.2"/>
<line x1="1167.0" y1="337.2" x2="1167.0" y2="344.2" stroke="#000" stroke-width="2.2"/>
<line x1="1183.3" y1="337.2" x2="1183.3" y2="349.8" stroke="#000" stroke-width="2.6"/>
<text x="1183.3" y="373.0" text-anchor="middle" class="tk">5.5</text>
<line x1="1199.6" y1="337.2" x2="1199.6" y2="344.2" stroke="#000" stroke-width="2.2"/>
<line x1="1215.8" y1="337.2" x2="1215.8" y2="344.2" stroke="#000" stroke-width="2.2"/>
<line x1="1232.1" y1="337.2" x2="1232.1" y2="344.2" stroke="#000" stroke-width="2.2"/>
<line x1="1248.3" y1="337.2" x2="1248.3" y2="344.2" stroke="#000" stroke-width="2.2"/>
<line x1="1264.6" y1="337.2" x2="1264.6" y2="349.8" stroke="#000" stroke-width="2.6"/>
<text x="1264.6" y="373.0" text-anchor="middle" class="tk">6.0</text>
<line x1="757.4" y1="330.0" x2="770" y2="330.0" stroke="#000" stroke-width="2.6"/>
<text x="752.0" y="335.7" text-anchor="end" class="tk">4</text>
<line x1="763.0" y1="319.4" x2="770" y2="319.4" stroke="#000" stroke-width="2.2"/>
<line x1="763.0" y1="308.9" x2="770" y2="308.9" stroke="#000" stroke-width="2.2"/>
<line x1="763.0" y1="298.3" x2="770" y2="298.3" stroke="#000" stroke-width="2.2"/>
<line x1="763.0" y1="287.7" x2="770" y2="287.7" stroke="#000" stroke-width="2.2"/>
<line x1="757.4" y1="277.1" x2="770" y2="277.1" stroke="#000" stroke-width="2.6"/>
<text x="752.0" y="282.8" text-anchor="end" class="tk">5</text>
<line x1="763.0" y1="266.6" x2="770" y2="266.6" stroke="#000" stroke-width="2.2"/>
<line x1="763.0" y1="256.0" x2="770" y2="256.0" stroke="#000" stroke-width="2.2"/>
<line x1="763.0" y1="245.4" x2="770" y2="245.4" stroke="#000" stroke-width="2.2"/>
<line x1="763.0" y1="234.8" x2="770" y2="234.8" stroke="#000" stroke-width="2.2"/>
<line x1="757.4" y1="224.3" x2="770" y2="224.3" stroke="#000" stroke-width="2.6"/>
<text x="752.0" y="230.0" text-anchor="end" class="tk">6</text>
<line x1="763.0" y1="213.7" x2="770" y2="213.7" stroke="#000" stroke-width="2.2"/>
<line x1="763.0" y1="203.1" x2="770" y2="203.1" stroke="#000" stroke-width="2.2"/>
<line x1="763.0" y1="192.5" x2="770" y2="192.5" stroke="#000" stroke-width="2.2"/>
<line x1="763.0" y1="182.0" x2="770" y2="182.0" stroke="#000" stroke-width="2.2"/>
<line x1="757.4" y1="171.4" x2="770" y2="171.4" stroke="#000" stroke-width="2.6"/>
<text x="752.0" y="177.1" text-anchor="end" class="tk">7</text>
<line x1="763.0" y1="160.8" x2="770" y2="160.8" stroke="#000" stroke-width="2.2"/>
<line x1="763.0" y1="150.3" x2="770" y2="150.3" stroke="#000" stroke-width="2.2"/>
<line x1="763.0" y1="139.7" x2="770" y2="139.7" stroke="#000" stroke-width="2.2"/>
<line x1="763.0" y1="129.1" x2="770" y2="129.1" stroke="#000" stroke-width="2.2"/>
<line x1="757.4" y1="118.5" x2="770" y2="118.5" stroke="#000" stroke-width="2.6"/>
<text x="752.0" y="124.2" text-anchor="end" class="tk">8</text>
<line x1="763.0" y1="108.0" x2="770" y2="108.0" stroke="#000" stroke-width="2.2"/>
<line x1="763.0" y1="97.4" x2="770" y2="97.4" stroke="#000" stroke-width="2.2"/>
<line x1="763.0" y1="86.8" x2="770" y2="86.8" stroke="#000" stroke-width="2.2"/>
<line x1="763.0" y1="76.2" x2="770" y2="76.2" stroke="#000" stroke-width="2.2"/>
<line x1="757.4" y1="65.7" x2="770" y2="65.7" stroke="#000" stroke-width="2.6"/>
<text x="752.0" y="71.4" text-anchor="end" class="tk">9</text>
<line x1="763.0" y1="55.1" x2="770" y2="55.1" stroke="#000" stroke-width="2.2"/>
<line x1="763.0" y1="44.5" x2="770" y2="44.5" stroke="#000" stroke-width="2.2"/>
<line x1="763.0" y1="33.9" x2="770" y2="33.9" stroke="#000" stroke-width="2.2"/>
<line x1="763.0" y1="23.4" x2="770" y2="23.4" stroke="#000" stroke-width="2.2"/>
<line x1="757.4" y1="12.8" x2="770" y2="12.8" stroke="#000" stroke-width="2.6"/>
<text x="752.0" y="18.5" text-anchor="end" class="tk">10</text>
<line x1="1272.5" y1="330.0" x2="1285.1" y2="330.0" stroke="#d11a1a" stroke-width="2.6"/>
<text x="1291.5" y="335.7" class="tk rd">0</text>
<line x1="1272.5" y1="319.4" x2="1279.5" y2="319.4" stroke="#d11a1a" stroke-width="2.2"/>
<line x1="1272.5" y1="308.9" x2="1279.5" y2="308.9" stroke="#d11a1a" stroke-width="2.2"/>
<line x1="1272.5" y1="298.3" x2="1279.5" y2="298.3" stroke="#d11a1a" stroke-width="2.2"/>
<line x1="1272.5" y1="287.7" x2="1279.5" y2="287.7" stroke="#d11a1a" stroke-width="2.2"/>
<line x1="1272.5" y1="277.1" x2="1285.1" y2="277.1" stroke="#d11a1a" stroke-width="2.6"/>
<text x="1291.5" y="282.8" class="tk rd">5</text>
<line x1="1272.5" y1="266.6" x2="1279.5" y2="266.6" stroke="#d11a1a" stroke-width="2.2"/>
<line x1="1272.5" y1="256.0" x2="1279.5" y2="256.0" stroke="#d11a1a" stroke-width="2.2"/>
<line x1="1272.5" y1="245.4" x2="1279.5" y2="245.4" stroke="#d11a1a" stroke-width="2.2"/>
<line x1="1272.5" y1="234.8" x2="1279.5" y2="234.8" stroke="#d11a1a" stroke-width="2.2"/>
<line x1="1272.5" y1="224.3" x2="1285.1" y2="224.3" stroke="#d11a1a" stroke-width="2.6"/>
<text x="1291.5" y="230.0" class="tk rd">10</text>
<line x1="1272.5" y1="213.7" x2="1279.5" y2="213.7" stroke="#d11a1a" stroke-width="2.2"/>
<line x1="1272.5" y1="203.1" x2="1279.5" y2="203.1" stroke="#d11a1a" stroke-width="2.2"/>
<line x1="1272.5" y1="192.5" x2="1279.5" y2="192.5" stroke="#d11a1a" stroke-width="2.2"/>
<line x1="1272.5" y1="182.0" x2="1279.5" y2="182.0" stroke="#d11a1a" stroke-width="2.2"/>
<line x1="1272.5" y1="171.4" x2="1285.1" y2="171.4" stroke="#d11a1a" stroke-width="2.6"/>
<text x="1291.5" y="177.1" class="tk rd">15</text>
<line x1="1272.5" y1="160.8" x2="1279.5" y2="160.8" stroke="#d11a1a" stroke-width="2.2"/>
<line x1="1272.5" y1="150.3" x2="1279.5" y2="150.3" stroke="#d11a1a" stroke-width="2.2"/>
<line x1="1272.5" y1="139.7" x2="1279.5" y2="139.7" stroke="#d11a1a" stroke-width="2.2"/>
<line x1="1272.5" y1="129.1" x2="1279.5" y2="129.1" stroke="#d11a1a" stroke-width="2.2"/>
<line x1="1272.5" y1="118.5" x2="1285.1" y2="118.5" stroke="#d11a1a" stroke-width="2.6"/>
<text x="1291.5" y="124.2" class="tk rd">20</text>
<line x1="1272.5" y1="108.0" x2="1279.5" y2="108.0" stroke="#d11a1a" stroke-width="2.2"/>
<line x1="1272.5" y1="97.4" x2="1279.5" y2="97.4" stroke="#d11a1a" stroke-width="2.2"/>
<line x1="1272.5" y1="86.8" x2="1279.5" y2="86.8" stroke="#d11a1a" stroke-width="2.2"/>
<line x1="1272.5" y1="76.2" x2="1279.5" y2="76.2" stroke="#d11a1a" stroke-width="2.2"/>
<line x1="1272.5" y1="65.7" x2="1285.1" y2="65.7" stroke="#d11a1a" stroke-width="2.6"/>
<text x="1291.5" y="71.4" class="tk rd">25</text>
<line x1="1272.5" y1="55.1" x2="1279.5" y2="55.1" stroke="#d11a1a" stroke-width="2.2"/>
<line x1="1272.5" y1="44.5" x2="1279.5" y2="44.5" stroke="#d11a1a" stroke-width="2.2"/>
<line x1="1272.5" y1="33.9" x2="1279.5" y2="33.9" stroke="#d11a1a" stroke-width="2.2"/>
<line x1="1272.5" y1="23.4" x2="1279.5" y2="23.4" stroke="#d11a1a" stroke-width="2.2"/>
<line x1="1272.5" y1="12.8" x2="1285.1" y2="12.8" stroke="#d11a1a" stroke-width="2.6"/>
<text x="1291.5" y="18.5" class="tk rd">30</text>
<text x="1021.2" y="393.7" text-anchor="middle" class="al">Flight altitude (km)</text>
<text transform="translate(713.1,171.2) rotate(-90)" text-anchor="middle" class="al">Plume height (km)</text>
<text transform="translate(1328.2,171.2) rotate(90)" text-anchor="middle" class="al rd">Plume age (h)</text>
<text x="683" y="23.3" class="pl">(b)</text>
<text x="781.6" y="31" class="ti" xml:space="preserve">Flight 25 July - Shady</text>
<text x="789.6" y="62" class="sb" textLength="55" lengthAdjust="spacingAndGlyphs">(Aged)</text></g>
<g id="pc"><path d="M216.3,565 225.8,565 226.2,595.2 226.2,604.8 216.8,604.8 216.3,574.5ZM216.3,633.5 216.8,595.2 226.2,595.2 226.2,604.8 225.8,643 216.3,643Z" fill="#333333"/>
<path d="M218.3,640 225.8,640 226.2,672.5 226.2,680 218.7,680 218.3,647.5Z" fill="#333333"/>
<path d="M320.3,469.5 329.8,469.5 330.2,495.2 330.2,504.8 320.8,504.8 320.3,479ZM320.8,495.2 330.2,495.2 330.2,531.5 320.8,531.5Z" fill="#333333"/>
<path d="M217.5,646h9M222,641.5v9M217.5,657h9M222,652.5v9M217.5,667h9M222,662.5v9M217.5,672h9M222,667.5v9M217.5,663h9M222,658.5v9" fill="none" stroke="#d42418" stroke-width="1.3" stroke-opacity="0.85"/>
<path d="M215.5,682 227.5,682 227.5,742 215.5,742Z" fill="#d42418" fill-opacity="1"/>
<path d="M214.6,688.7h14.4M221.8,681.5v14.4M213.7,690.9h14.4M220.9,683.7v14.4M213.6,693.2h14.4M220.8,686v14.4M214.2,695.9h14.4M221.4,688.7v14.4M214.5,698.8h14.4M221.7,691.6v14.4M214.4,700.3h14.4M221.6,693.1v14.4M214.2,704.2h14.4M221.4,697v14.4M214,706.1h14.4M221.2,698.9v14.4M214.4,709.5h14.4M221.6,702.3v14.4M215,711.6h14.4M222.2,704.4v14.4M214.5,713.3h14.4M221.7,706.1v14.4M214.1,716.8h14.4M221.3,709.6v14.4M214,719.9h14.4M221.2,712.7v14.4M214.5,721.7h14.4M221.7,714.5v14.4M213.9,723.7h14.4M221.1,716.5v14.4M214.3,726.5h14.4M221.5,719.3v14.4M213.6,729.6h14.4M220.8,722.4v14.4M213.4,732.1h14.4M220.6,724.9v14.4M213.9,734.6h14.4M221.1,727.4v14.4M213.4,735.2h14.4M220.6,728v14.4" fill="none" stroke="#d42418" stroke-width="1.1" stroke-opacity="0.7"/>
<path d="M217.5,678 226.5,678 226.5,690 217.5,690Z" fill="#d42418" fill-opacity="1"/>
<path d="M215.5,683h11.4M221.2,677.3v11.4M215.7,685h11.4M221.4,679.3v11.4M217,686h11.4M222.7,680.3v11.4" fill="none" stroke="#d42418" stroke-width="1.1" stroke-opacity="0.7"/>
<path d="M215.5,680h11M221,674.5v11M215.5,746h11M221,740.5v11M216.5,690h11M222,684.5v11M214.5,730h11M220,724.5v11" fill="none" stroke="#d42418" stroke-width="1.6" stroke-opacity="0.9"/>
<path d="M321.5,701.6h9M326,697.1v9M321.5,704.6h9M326,700.1v9M321.5,707.6h9M326,703.1v9M321.5,708.4h9M326,703.9v9" fill="none" stroke="#d42418" stroke-width="1.3" stroke-opacity="0.8"/>
<path d="M320.8,712 331.2,712 331.2,742 320.8,742Z" fill="#d42418" fill-opacity="1"/>
<path d="M320.1,717.6h12.9M326.5,711.2v12.9M319,719.7h12.9M325.5,713.3v12.9M319.3,723.1h12.9M325.8,716.7v12.9M320.1,725.3h12.9M326.6,718.9v12.9M319.7,728.2h12.9M326.1,721.7v12.9M319,729.6h12.9M325.5,723.2v12.9M318.7,733.6h12.9M325.2,727.1v12.9M320.1,735.6h12.9M326.5,729.2v12.9M320.2,737.1h12.9M326.7,730.6v12.9" fill="none" stroke="#d42418" stroke-width="1.1" stroke-opacity="0.7"/>
<path d="M318.5,744h11M324,738.5v11M320.5,712h11M326,706.5v11" fill="none" stroke="#d42418" stroke-width="1.6" stroke-opacity="0.9"/>
<line x1="71.89999999999999" y1="424.8" x2="587.4" y2="424.8" stroke="#000" stroke-width="2.8"/>
<line x1="71.89999999999999" y1="757.3" x2="587.4" y2="757.3" stroke="#000" stroke-width="2.8"/>
<line x1="73.3" y1="423.40000000000003" x2="73.3" y2="758.6999999999999" stroke="#000" stroke-width="2.8"/>
<line x1="586" y1="426.0" x2="586" y2="756.0999999999999" stroke="#d11a1a" stroke-width="2.8"/>
<line x1="80.0" y1="757.3" x2="80.0" y2="769.9" stroke="#000" stroke-width="2.6"/>
<text x="80.0" y="793.1" text-anchor="middle" class="tk">3.0</text>
<line x1="96.6" y1="757.3" x2="96.6" y2="764.3" stroke="#000" stroke-width="2.2"/>
<line x1="113.2" y1="757.3" x2="113.2" y2="764.3" stroke="#000" stroke-width="2.2"/>
<line x1="129.9" y1="757.3" x2="129.9" y2="764.3" stroke="#000" stroke-width="2.2"/>
<line x1="146.5" y1="757.3" x2="146.5" y2="764.3" stroke="#000" stroke-width="2.2"/>
<line x1="163.1" y1="757.3" x2="163.1" y2="769.9" stroke="#000" stroke-width="2.6"/>
<text x="163.1" y="793.1" text-anchor="middle" class="tk">3.5</text>
<line x1="179.7" y1="757.3" x2="179.7" y2="764.3" stroke="#000" stroke-width="2.2"/>
<line x1="196.3" y1="757.3" x2="196.3" y2="764.3" stroke="#000" stroke-width="2.2"/>
<line x1="213.0" y1="757.3" x2="213.0" y2="764.3" stroke="#000" stroke-width="2.2"/>
<line x1="229.6" y1="757.3" x2="229.6" y2="764.3" stroke="#000" stroke-width="2.2"/>
<line x1="246.2" y1="757.3" x2="246.2" y2="769.9" stroke="#000" stroke-width="2.6"/>
<text x="246.2" y="793.1" text-anchor="middle" class="tk">4.0</text>
<line x1="262.8" y1="757.3" x2="262.8" y2="764.3" stroke="#000" stroke-width="2.2"/>
<line x1="279.4" y1="757.3" x2="279.4" y2="764.3" stroke="#000" stroke-width="2.2"/>
<line x1="296.1" y1="757.3" x2="296.1" y2="764.3" stroke="#000" stroke-width="2.2"/>
<line x1="312.7" y1="757.3" x2="312.7" y2="764.3" stroke="#000" stroke-width="2.2"/>
<line x1="329.3" y1="757.3" x2="329.3" y2="769.9" stroke="#000" stroke-width="2.6"/>
<text x="329.3" y="793.1" text-anchor="middle" class="tk">4.5</text>
<line x1="345.9" y1="757.3" x2="345.9" y2="764.3" stroke="#000" stroke-width="2.2"/>
<line x1="362.5" y1="757.3" x2="362.5" y2="764.3" stroke="#000" stroke-width="2.2"/>
<line x1="379.2" y1="757.3" x2="379.2" y2="764.3" stroke="#000" stroke-width="2.2"/>
<line x1="395.8" y1="757.3" x2="395.8" y2="764.3" stroke="#000" stroke-width="2.2"/>
<line x1="412.4" y1="757.3" x2="412.4" y2="769.9" stroke="#000" stroke-width="2.6"/>
<text x="412.4" y="793.1" text-anchor="middle" class="tk">5.0</text>
<line x1="429.0" y1="757.3" x2="429.0" y2="764.3" stroke="#000" stroke-width="2.2"/>
<line x1="445.6" y1="757.3" x2="445.6" y2="764.3" stroke="#000" stroke-width="2.2"/>
<line x1="462.3" y1="757.3" x2="462.3" y2="764.3" stroke="#000" stroke-width="2.2"/>
<line x1="478.9" y1="757.3" x2="478.9" y2="764.3" stroke="#000" stroke-width="2.2"/>
<line x1="495.5" y1="757.3" x2="495.5" y2="769.9" stroke="#000" stroke-width="2.6"/>
<text x="495.5" y="793.1" text-anchor="middle" class="tk">5.5</text>
<line x1="512.1" y1="757.3" x2="512.1" y2="764.3" stroke="#000" stroke-width="2.2"/>
<line x1="528.7" y1="757.3" x2="528.7" y2="764.3" stroke="#000" stroke-width="2.2"/>
<line x1="545.4" y1="757.3" x2="545.4" y2="764.3" stroke="#000" stroke-width="2.2"/>
<line x1="562.0" y1="757.3" x2="562.0" y2="764.3" stroke="#000" stroke-width="2.2"/>
<line x1="578.6" y1="757.3" x2="578.6" y2="769.9" stroke="#000" stroke-width="2.6"/>
<text x="578.6" y="793.1" text-anchor="middle" class="tk">6.0</text>
<line x1="60.7" y1="749.6" x2="73.3" y2="749.6" stroke="#000" stroke-width="2.6"/>
<text x="55.3" y="755.3" text-anchor="end" class="tk">4</text>
<line x1="66.3" y1="741.7" x2="73.3" y2="741.7" stroke="#000" stroke-width="2.2"/>
<line x1="66.3" y1="733.8" x2="73.3" y2="733.8" stroke="#000" stroke-width="2.2"/>
<line x1="66.3" y1="725.8" x2="73.3" y2="725.8" stroke="#000" stroke-width="2.2"/>
<line x1="66.3" y1="717.9" x2="73.3" y2="717.9" stroke="#000" stroke-width="2.2"/>
<line x1="66.3" y1="710.0" x2="73.3" y2="710.0" stroke="#000" stroke-width="2.2"/>
<line x1="66.3" y1="702.0" x2="73.3" y2="702.0" stroke="#000" stroke-width="2.2"/>
<line x1="66.3" y1="694.1" x2="73.3" y2="694.1" stroke="#000" stroke-width="2.2"/>
<line x1="66.3" y1="686.2" x2="73.3" y2="686.2" stroke="#000" stroke-width="2.2"/>
<line x1="66.3" y1="678.3" x2="73.3" y2="678.3" stroke="#000" stroke-width="2.2"/>
<line x1="60.7" y1="670.4" x2="73.3" y2="670.4" stroke="#000" stroke-width="2.6"/>
<text x="55.3" y="676.1" text-anchor="end" class="tk">5</text>
<line x1="66.3" y1="662.4" x2="73.3" y2="662.4" stroke="#000" stroke-width="2.2"/>
<line x1="66.3" y1="654.5" x2="73.3" y2="654.5" stroke="#000" stroke-width="2.2"/>
<line x1="66.3" y1="646.6" x2="73.3" y2="646.6" stroke="#000" stroke-width="2.2"/>
<line x1="66.3" y1="638.6" x2="73.3" y2="638.6" stroke="#000" stroke-width="2.2"/>
<line x1="66.3" y1="630.7" x2="73.3" y2="630.7" stroke="#000" stroke-width="2.2"/>
<line x1="66.3" y1="622.8" x2="73.3" y2="622.8" stroke="#000" stroke-width="2.2"/>
<line x1="66.3" y1="614.9" x2="73.3" y2="614.9" stroke="#000" stroke-width="2.2"/>
<line x1="66.3" y1="606.9" x2="73.3" y2="606.9" stroke="#000" stroke-width="2.2"/>
<line x1="66.3" y1="599.0" x2="73.3" y2="599.0" stroke="#000" stroke-width="2.2"/>
<line x1="60.7" y1="591.1" x2="73.3" y2="591.1" stroke="#000" stroke-width="2.6"/>
<text x="55.3" y="596.8" text-anchor="end" class="tk">6</text>
<line x1="66.3" y1="583.2" x2="73.3" y2="583.2" stroke="#000" stroke-width="2.2"/>
<line x1="66.3" y1="575.2" x2="73.3" y2="575.2" stroke="#000" stroke-width="2.2"/>
<line x1="66.3" y1="567.3" x2="73.3" y2="567.3" stroke="#000" stroke-width="2.2"/>
<line x1="66.3" y1="559.4" x2="73.3" y2="559.4" stroke="#000" stroke-width="2.2"/>
<line x1="66.3" y1="551.5" x2="73.3" y2="551.5" stroke="#000" stroke-width="2.2"/>
<line x1="66.3" y1="543.5" x2="73.3" y2="543.5" stroke="#000" stroke-width="2.2"/>
<line x1="66.3" y1="535.6" x2="73.3" y2="535.6" stroke="#000" stroke-width="2.2"/>
<line x1="66.3" y1="527.7" x2="73.3" y2="527.7" stroke="#000" stroke-width="2.2"/>
<line x1="66.3" y1="519.8" x2="73.3" y2="519.8" stroke="#000" stroke-width="2.2"/>
<line x1="60.7" y1="511.9" x2="73.3" y2="511.9" stroke="#000" stroke-width="2.6"/>
<text x="55.3" y="517.6" text-anchor="end" class="tk">7</text>
<line x1="66.3" y1="503.9" x2="73.3" y2="503.9" stroke="#000" stroke-width="2.2"/>
<line x1="66.3" y1="496.0" x2="73.3" y2="496.0" stroke="#000" stroke-width="2.2"/>
<line x1="66.3" y1="488.1" x2="73.3" y2="488.1" stroke="#000" stroke-width="2.2"/>
<line x1="66.3" y1="480.1" x2="73.3" y2="480.1" stroke="#000" stroke-width="2.2"/>
<line x1="66.3" y1="472.2" x2="73.3" y2="472.2" stroke="#000" stroke-width="2.2"/>
<line x1="66.3" y1="464.3" x2="73.3" y2="464.3" stroke="#000" stroke-width="2.2"/>
<line x1="66.3" y1="456.4" x2="73.3" y2="456.4" stroke="#000" stroke-width="2.2"/>
<line x1="66.3" y1="448.4" x2="73.3" y2="448.4" stroke="#000" stroke-width="2.2"/>
<line x1="66.3" y1="440.5" x2="73.3" y2="440.5" stroke="#000" stroke-width="2.2"/>
<line x1="60.7" y1="432.6" x2="73.3" y2="432.6" stroke="#000" stroke-width="2.6"/>
<text x="55.3" y="438.3" text-anchor="end" class="tk">8</text>
<line x1="586" y1="749.6" x2="598.6" y2="749.6" stroke="#d11a1a" stroke-width="2.6"/>
<text x="605.0" y="755.3" class="tk rd">0</text>
<line x1="586" y1="739.0" x2="593.0" y2="739.0" stroke="#d11a1a" stroke-width="2.2"/>
<line x1="586" y1="728.5" x2="593.0" y2="728.5" stroke="#d11a1a" stroke-width="2.2"/>
<line x1="586" y1="717.9" x2="593.0" y2="717.9" stroke="#d11a1a" stroke-width="2.2"/>
<line x1="586" y1="707.3" x2="593.0" y2="707.3" stroke="#d11a1a" stroke-width="2.2"/>
<line x1="586" y1="696.8" x2="598.6" y2="696.8" stroke="#d11a1a" stroke-width="2.6"/>
<text x="605.0" y="702.5" class="tk rd">5</text>
<line x1="586" y1="686.2" x2="593.0" y2="686.2" stroke="#d11a1a" stroke-width="2.2"/>
<line x1="586" y1="675.6" x2="593.0" y2="675.6" stroke="#d11a1a" stroke-width="2.2"/>
<line x1="586" y1="665.1" x2="593.0" y2="665.1" stroke="#d11a1a" stroke-width="2.2"/>
<line x1="586" y1="654.5" x2="593.0" y2="654.5" stroke="#d11a1a" stroke-width="2.2"/>
<line x1="586" y1="643.9" x2="598.6" y2="643.9" stroke="#d11a1a" stroke-width="2.6"/>
<text x="605.0" y="649.6" class="tk rd">10</text>
<line x1="586" y1="633.4" x2="593.0" y2="633.4" stroke="#d11a1a" stroke-width="2.2"/>
<line x1="586" y1="622.8" x2="593.0" y2="622.8" stroke="#d11a1a" stroke-width="2.2"/>
<line x1="586" y1="612.2" x2="593.0" y2="612.2" stroke="#d11a1a" stroke-width="2.2"/>
<line x1="586" y1="601.7" x2="593.0" y2="601.7" stroke="#d11a1a" stroke-width="2.2"/>
<line x1="586" y1="591.1" x2="598.6" y2="591.1" stroke="#d11a1a" stroke-width="2.6"/>
<text x="605.0" y="596.8" class="tk rd">15</text>
<line x1="586" y1="580.5" x2="593.0" y2="580.5" stroke="#d11a1a" stroke-width="2.2"/>
<line x1="586" y1="570.0" x2="593.0" y2="570.0" stroke="#d11a1a" stroke-width="2.2"/>
<line x1="586" y1="559.4" x2="593.0" y2="559.4" stroke="#d11a1a" stroke-width="2.2"/>
<line x1="586" y1="548.8" x2="593.0" y2="548.8" stroke="#d11a1a" stroke-width="2.2"/>
<line x1="586" y1="538.3" x2="598.6" y2="538.3" stroke="#d11a1a" stroke-width="2.6"/>
<text x="605.0" y="544.0" class="tk rd">20</text>
<line x1="586" y1="527.7" x2="593.0" y2="527.7" stroke="#d11a1a" stroke-width="2.2"/>
<line x1="586" y1="517.1" x2="593.0" y2="517.1" stroke="#d11a1a" stroke-width="2.2"/>
<line x1="586" y1="506.6" x2="593.0" y2="506.6" stroke="#d11a1a" stroke-width="2.2"/>
<line x1="586" y1="496.0" x2="593.0" y2="496.0" stroke="#d11a1a" stroke-width="2.2"/>
<line x1="586" y1="485.4" x2="598.6" y2="485.4" stroke="#d11a1a" stroke-width="2.6"/>
<text x="605.0" y="491.1" class="tk rd">25</text>
<line x1="586" y1="474.9" x2="593.0" y2="474.9" stroke="#d11a1a" stroke-width="2.2"/>
<line x1="586" y1="464.3" x2="593.0" y2="464.3" stroke="#d11a1a" stroke-width="2.2"/>
<line x1="586" y1="453.7" x2="593.0" y2="453.7" stroke="#d11a1a" stroke-width="2.2"/>
<line x1="586" y1="443.2" x2="593.0" y2="443.2" stroke="#d11a1a" stroke-width="2.2"/>
<line x1="586" y1="432.6" x2="598.6" y2="432.6" stroke="#d11a1a" stroke-width="2.6"/>
<text x="605.0" y="438.3" class="tk rd">30</text>
<text x="329.6" y="813.8" text-anchor="middle" class="al">Flight altitude (km)</text>
<text transform="translate(27,591.0) rotate(-90)" text-anchor="middle" class="al">Plume height (km)</text>
<text transform="translate(641.8,591.0) rotate(90)" text-anchor="middle" class="al rd">Plume age (h)</text>
<text x="4.4" y="442" class="pl">(c)</text>
<text x="88" y="451" class="ti" xml:space="preserve">Flight 29 July - North Hills</text>
<text x="99" y="483" class="sb" textLength="154.5" lengthAdjust="spacingAndGlyphs">(Moderately aged)</text></g>
<g id="pd"><path d="M908.5,631.5 915.5,631.5 916,667.5 916,674.5 909,674.5 908.5,638.5Z" fill="#333333"/>
<path d="M911.6,627.4 922,621 928,621 928,627 917.6,633.4 911.6,633.4ZM922,621 937,612 943,612 943,618 928,627 922,627ZM937,612 952,603 958,603 958,609 943,618 937,618ZM952,603 965.5,594.6 971.5,594.6 971.5,600.6 958,609 952,609Z" fill="#333333"/>
<path d="M914.7,648.3 921.8,644.8 928.2,644.8 928.2,651.2 921.2,654.8 914.7,654.8ZM921.8,644.8 934.8,637.8 941.2,637.8 941.2,644.2 928.2,651.2 921.8,651.2ZM934.8,637.8 941.2,637.8 941.2,653.2 934.8,653.2ZM934.2,654.8 934.8,646.8 941.2,646.8 941.2,653.2 940.8,661.2 934.2,661.2ZM934.2,654.8 946.8,646.8 953.2,646.8 953.2,653.2 940.8,661.2 934.2,661.2ZM946.8,646.8 961.8,634.8 968.2,634.8 968.2,641.2 953.2,653.2 946.8,653.2ZM961.8,634.8 976.8,624.8 983.2,624.8 983.2,631.2 968.2,641.2 961.8,641.2ZM976.8,624.8 986.3,616.8 992.8,616.8 992.8,623.3 983.2,631.2 976.8,631.2Z" fill="#333333"/>
<path d="M983,608.5 993,608.5 993,618.5 983,618.5Z" fill="#333333"/>
<path d="M989.6,615 993.8,608.8 1000.2,608.8 1000.2,615.2 996.1,621.5 989.6,621.5ZM993.8,608.8 999.8,599.8 1006.2,599.8 1006.2,606.2 1000.2,615.2 993.8,615.2ZM999.8,599.8 1004.8,590.8 1011.2,590.8 1011.2,597.2 1006.2,606.2 999.8,606.2ZM1004.8,590.8 1010.1,580.8 1016.6,580.8 1016.6,587.2 1011.2,597.2 1004.8,597.2ZM1010.1,580.8 1015.8,571.8 1022.2,571.8 1022.2,578.2 1016.6,587.2 1010.1,587.2ZM1015.8,571.8 1022,564 1028.5,564 1028.5,570.5 1022.2,578.2 1015.8,578.2ZM1022,564 1031.8,557.8 1038.2,557.8 1038.2,564.2 1028.5,570.5 1022,570.5ZM1031.8,557.8 1042.8,552.1 1049.2,552.1 1049.2,558.6 1038.2,564.2 1031.8,564.2ZM1042.8,552.1 1056.8,546.8 1063.2,546.8 1063.2,553.2 1049.2,558.6 1042.8,558.6ZM1056.8,546.8 1069.7,542.3 1076.2,542.3 1076.2,548.8 1063.2,553.2 1056.8,553.2Z" fill="#333333"/>
<path d="M985.5,577.7 992.5,577.7 992.5,623.8 985.5,623.8Z" fill="#333333"/>
<rect x="1063" y="529.5" width="7" height="11.8" fill="#333333"/>
<path d="M984.4,499.2h9M988.9,494.7v9M984.4,514.5h9M988.9,510v9M984.4,520.9h9M988.9,516.4v9M984.4,529h9M988.9,524.5v9M984.4,542h9M988.9,537.5v9M984.4,546.5h9M988.9,542v9M984.4,551.7h9M988.9,547.2v9M984.4,556.9h9M988.9,552.4v9M984.4,562.9h9M988.9,558.4v9M984.4,568h9M988.9,563.5v9M984.4,571.8h9M988.9,567.3v9M984.4,576h9M988.9,571.5v9" fill="none" stroke="#d42418" stroke-width="1.3" stroke-opacity="0.85"/>
<path d="M984.4,583.6h9M988.9,579.1v9M984.4,589.6h9M988.9,585.1v9M984.4,595.6h9M988.9,591.1v9M984.4,601.6h9M988.9,597.1v9M984.4,607.6h9M988.9,603.1v9M984.4,613.6h9M988.9,609.1v9M984.4,614.4h9M988.9,609.9v9" fill="none" stroke="#d42418" stroke-width="1.4" stroke-opacity="0.8"/>
<path d="M984.5,631.6h9M989,627.1v9M984.5,634.1h9M989,629.6v9M984.5,636.6h9M989,632.1v9M984.5,639.1h9M989,634.6v9M984.5,641.6h9M989,637.1v9M984.5,644.1h9M989,639.6v9M984.5,646.6h9M989,642.1v9M984.5,649.1h9M989,644.6v9M984.5,651.6h9M989,647.1v9M984.5,654.1h9M989,649.6v9M984.5,656.6h9M989,652.1v9M984.5,659.1h9M989,654.6v9M984.5,661.6h9M989,657.1v9M984.5,664.1h9M989,659.6v9M984.5,666.6h9M989,662.1v9M984.5,669.1h9M989,664.6v9M984.5,671.6h9M989,667.1v9M984.5,674.1h9M989,669.6v9M984.5,676.6h9M989,672.1v9M984.5,679.1h9M989,674.6v9M984.5,681.6h9M989,677.1v9M984.5,684.1h9M989,679.6v9M984.5,686.6h9M989,682.1v9M984.5,689.1h9M989,684.6v9M984.5,691.6h9M989,687.1v9M984.5,694.1h9M989,689.6v9M984.5,696.6h9M989,692.1v9M984.5,699.1h9M989,694.6v9M984.5,701.6h9M989,697.1v9M984.5,704.1h9M989,699.6v9M984.5,706.6h9M989,702.1v9M984.5,708.4h9M989,703.9v9" fill="none" stroke="#d42418" stroke-width="1.4" stroke-opacity="0.85"/>
<path d="M985,650 993,650 993,712 985,712Z" fill="#d42418" fill-opacity="1"/>
<path d="M984.1,653.9h10.4M989.3,648.7v10.4M983.1,656.1h10.4M988.3,650.9v10.4M983.8,658.6h10.4M989,653.4v10.4M983.4,662.2h10.4M988.6,657v10.4M983.1,665.1h10.4M988.3,659.9v10.4M983.9,666.3h10.4M989.1,661.1v10.4M983,668.9h10.4M988.2,663.7v10.4M984.3,671.8h10.4M989.5,666.6v10.4M982.8,674.4h10.4M988,669.2v10.4M984.3,677.5h10.4M989.5,672.3v10.4M984.2,679.9h10.4M989.4,674.7v10.4M984.5,682.6h10.4M989.7,677.4v10.4M984.3,684.6h10.4M989.5,679.4v10.4M984.2,687.2h10.4M989.4,682v10.4M983.9,689.7h10.4M989.1,684.5v10.4M984.5,693.4h10.4M989.7,688.2v10.4M983.7,694.8h10.4M988.9,689.6v10.4M982.9,698.3h10.4M988.1,693.1v10.4M984.6,700.7h10.4M989.8,695.5v10.4M983.9,702.7h10.4M989.1,697.5v10.4M983.1,706.1h10.4M988.3,700.9v10.4M983.3,707.7h10.4M988.5,702.5v10.4" fill="none" stroke="#d42418" stroke-width="1.1" stroke-opacity="0.7"/>
<path d="M981.3,716 993.3,716 993.7,726 993.7,738 981.7,738 981.3,728Z" fill="#d42418" fill-opacity="1"/>
<path d="M980.7,722.2h14.4M987.9,715v14.4M979.6,724.5h14.4M986.8,717.3v14.4M979.6,727.4h14.4M986.8,720.2v14.4M981.3,730.4h14.4M988.5,723.2v14.4M979.7,732.4h14.4M986.9,725.2v14.4" fill="none" stroke="#d42418" stroke-width="1.1" stroke-opacity="0.7"/>
<path d="M907,706 917,706 917,745 907,745Z" fill="#d42418" fill-opacity="1"/>
<path d="M905.2,710.3h12.4M911.4,704.1v12.4M905.4,713.9h12.4M911.6,707.7v12.4M904.8,716.6h12.4M911,710.4v12.4M905.1,719h12.4M911.3,712.8v12.4M906.1,721.5h12.4M912.3,715.3v12.4M905.8,724.4h12.4M912,718.2v12.4M905,726.2h12.4M911.2,720v12.4M905.8,729.8h12.4M912,723.6v12.4M904.8,732.5h12.4M911,726.3v12.4M905.7,734.7h12.4M911.9,728.5v12.4M905.8,736.6h12.4M912,730.4v12.4M905.3,738.9h12.4M911.5,732.7v12.4M905.8,740h12.4M912,733.8v12.4" fill="none" stroke="#d42418" stroke-width="1.1" stroke-opacity="0.7"/>
<path d="M906,702h10M911,697v10M906,748h10M911,743v10M908,710h10M913,705v10" fill="none" stroke="#d42418" stroke-width="1.4" stroke-opacity="0.85"/>
<path d="M916,733 927,727 939,723.5 950,722 961,722 970,723 980,726" fill="none" stroke="#d42418" stroke-width="8" stroke-linejoin="round" stroke-linecap="butt" stroke-opacity="0.85"/>
<path d="M916,738 930,731 945,728 960,727 975,730" fill="none" stroke="#d42418" stroke-width="5" stroke-linejoin="round" stroke-linecap="butt" stroke-opacity="0.6"/>
<path d="M917.1,742.8h9M921.6,738.3v9M920.1,742.8h9M924.6,738.3v9M923.1,742.8h9M927.6,738.3v9M926.1,742.8h9M930.6,738.3v9M929.1,742.8h9M933.6,738.3v9M932.1,742.8h9M936.6,738.3v9M935.1,742.8h9M939.6,738.3v9M938.1,742.8h9M942.6,738.3v9M941.1,742.8h9M945.6,738.3v9M944.1,742.8h9M948.6,738.3v9M947.1,742.8h9M951.6,738.3v9M950.1,742.8h9M954.6,738.3v9M953.1,742.8h9M957.6,738.3v9M956.1,742.8h9M960.6,738.3v9M959.1,742.8h9M963.6,738.3v9M962.1,742.8h9M966.6,738.3v9M965.1,742.8h9M969.6,738.3v9M966.9,742.8h9M971.4,738.3v9" fill="none" stroke="#d42418" stroke-width="1.2" stroke-opacity="0.55"/>
<path d="M994,719 1010,716 1031,713 1053,716.5 1077,723" fill="none" stroke="#d42418" stroke-width="8" stroke-linejoin="round" stroke-linecap="butt" stroke-opacity="0.5"/>
<path d="M993.1,718.4h8.4M997.3,714.2v8.4M996.1,717.8h8.4M1000.3,713.6v8.4M999,717.3h8.4M1003.2,713.1v8.4M1001.9,716.7h8.4M1006.1,712.5v8.4M1004.9,716.2h8.4M1009.1,712v8.4M1007.9,715.7h8.4M1012.1,711.5v8.4M1010.8,715.3h8.4M1015,711.1v8.4M1013.8,714.9h8.4M1018,710.7v8.4M1016.8,714.4h8.4M1021,710.2v8.4M1019.7,714h8.4M1023.9,709.8v8.4M1022.7,713.6h8.4M1026.9,709.4v8.4M1025.7,713.2h8.4M1029.9,709v8.4M1028.6,713.3h8.4M1032.8,709.1v8.4M1031.6,713.8h8.4M1035.8,709.6v8.4M1034.6,714.2h8.4M1038.8,710v8.4M1037.5,714.7h8.4M1041.7,710.5v8.4M1040.5,715.2h8.4M1044.7,711v8.4M1043.5,715.7h8.4M1047.7,711.5v8.4M1046.4,716.1h8.4M1050.6,711.9v8.4M1049.4,716.7h8.4M1053.6,712.5v8.4M1052.3,717.4h8.4M1056.5,713.2v8.4M1055.2,718.2h8.4M1059.4,714v8.4M1058.1,719h8.4M1062.3,714.8v8.4M1061,719.8h8.4M1065.2,715.6v8.4M1063.8,720.6h8.4M1068,716.4v8.4M1066.7,721.4h8.4M1070.9,717.2v8.4M1069.6,722.1h8.4M1073.8,717.9v8.4" fill="none" stroke="#d42418" stroke-width="1.1" stroke-opacity="0.5"/>
<path d="M1061,729 1071,729 1071,740 1061,740Z" fill="#d42418" fill-opacity="1"/>
<path d="M1060.3,733.7h12.4M1066.5,727.5v12.4M1060.5,735.2h12.4M1066.7,729v12.4" fill="none" stroke="#d42418" stroke-width="1.1" stroke-opacity="0.7"/>
<path d="M1062,745h8M1066,741v8" fill="none" stroke="#d42418" stroke-width="1.4" stroke-opacity="0.85"/>
<line x1="768.6" y1="424.8" x2="1273.9" y2="424.8" stroke="#000" stroke-width="2.8"/>
<line x1="768.6" y1="757.3" x2="1273.9" y2="757.3" stroke="#000" stroke-width="2.8"/>
<line x1="770" y1="423.40000000000003" x2="770" y2="758.6999999999999" stroke="#000" stroke-width="2.8"/>
<line x1="1272.5" y1="426.0" x2="1272.5" y2="756.0999999999999" stroke="#d11a1a" stroke-width="2.8"/>
<line x1="776.8" y1="757.3" x2="776.8" y2="769.9" stroke="#000" stroke-width="2.6"/>
<text x="776.8" y="793.1" text-anchor="middle" class="tk">3.0</text>
<line x1="793.1" y1="757.3" x2="793.1" y2="764.3" stroke="#000" stroke-width="2.2"/>
<line x1="809.3" y1="757.3" x2="809.3" y2="764.3" stroke="#000" stroke-width="2.2"/>
<line x1="825.6" y1="757.3" x2="825.6" y2="764.3" stroke="#000" stroke-width="2.2"/>
<line x1="841.8" y1="757.3" x2="841.8" y2="764.3" stroke="#000" stroke-width="2.2"/>
<line x1="858.1" y1="757.3" x2="858.1" y2="769.9" stroke="#000" stroke-width="2.6"/>
<text x="858.1" y="793.1" text-anchor="middle" class="tk">3.5</text>
<line x1="874.4" y1="757.3" x2="874.4" y2="764.3" stroke="#000" stroke-width="2.2"/>
<line x1="890.6" y1="757.3" x2="890.6" y2="764.3" stroke="#000" stroke-width="2.2"/>
<line x1="906.9" y1="757.3" x2="906.9" y2="764.3" stroke="#000" stroke-width="2.2"/>
<line x1="923.1" y1="757.3" x2="923.1" y2="764.3" stroke="#000" stroke-width="2.2"/>
<line x1="939.4" y1="757.3" x2="939.4" y2="769.9" stroke="#000" stroke-width="2.6"/>
<text x="939.4" y="793.1" text-anchor="middle" class="tk">4.0</text>
<line x1="955.7" y1="757.3" x2="955.7" y2="764.3" stroke="#000" stroke-width="2.2"/>
<line x1="971.9" y1="757.3" x2="971.9" y2="764.3" stroke="#000" stroke-width="2.2"/>
<line x1="988.2" y1="757.3" x2="988.2" y2="764.3" stroke="#000" stroke-width="2.2"/>
<line x1="1004.4" y1="757.3" x2="1004.4" y2="764.3" stroke="#000" stroke-width="2.2"/>
<line x1="1020.7" y1="757.3" x2="1020.7" y2="769.9" stroke="#000" stroke-width="2.6"/>
<text x="1020.7" y="793.1" text-anchor="middle" class="tk">4.5</text>
<line x1="1037.0" y1="757.3" x2="1037.0" y2="764.3" stroke="#000" stroke-width="2.2"/>
<line x1="1053.2" y1="757.3" x2="1053.2" y2="764.3" stroke="#000" stroke-width="2.2"/>
<line x1="1069.5" y1="757.3" x2="1069.5" y2="764.3" stroke="#000" stroke-width="2.2"/>
<line x1="1085.7" y1="757.3" x2="1085.7" y2="764.3" stroke="#000" stroke-width="2.2"/>
<line x1="1102.0" y1="757.3" x2="1102.0" y2="769.9" stroke="#000" stroke-width="2.6"/>
<text x="1102.0" y="793.1" text-anchor="middle" class="tk">5.0</text>
<line x1="1118.3" y1="757.3" x2="1118.3" y2="764.3" stroke="#000" stroke-width="2.2"/>
<line x1="1134.5" y1="757.3" x2="1134.5" y2="764.3" stroke="#000" stroke-width="2.2"/>
<line x1="1150.8" y1="757.3" x2="1150.8" y2="764.3" stroke="#000" stroke-width="2.2"/>
<line x1="1167.0" y1="757.3" x2="1167.0" y2="764.3" stroke="#000" stroke-width="2.2"/>
<line x1="1183.3" y1="757.3" x2="1183.3" y2="769.9" stroke="#000" stroke-width="2.6"/>
<text x="1183.3" y="793.1" text-anchor="middle" class="tk">5.5</text>
<line x1="1199.6" y1="757.3" x2="1199.6" y2="764.3" stroke="#000" stroke-width="2.2"/>
<line x1="1215.8" y1="757.3" x2="1215.8" y2="764.3" stroke="#000" stroke-width="2.2"/>
<line x1="1232.1" y1="757.3" x2="1232.1" y2="764.3" stroke="#000" stroke-width="2.2"/>
<line x1="1248.3" y1="757.3" x2="1248.3" y2="764.3" stroke="#000" stroke-width="2.2"/>
<line x1="1264.6" y1="757.3" x2="1264.6" y2="769.9" stroke="#000" stroke-width="2.6"/>
<text x="1264.6" y="793.1" text-anchor="middle" class="tk">6.0</text>
<line x1="757.4" y1="749.6" x2="770" y2="749.6" stroke="#000" stroke-width="2.6"/>
<text x="752.0" y="755.3" text-anchor="end" class="tk">4</text>
<line x1="763.0" y1="739.0" x2="770" y2="739.0" stroke="#000" stroke-width="2.2"/>
<line x1="763.0" y1="728.5" x2="770" y2="728.5" stroke="#000" stroke-width="2.2"/>
<line x1="763.0" y1="717.9" x2="770" y2="717.9" stroke="#000" stroke-width="2.2"/>
<line x1="763.0" y1="707.3" x2="770" y2="707.3" stroke="#000" stroke-width="2.2"/>
<line x1="757.4" y1="696.8" x2="770" y2="696.8" stroke="#000" stroke-width="2.6"/>
<text x="752.0" y="702.5" text-anchor="end" class="tk">5</text>
<line x1="763.0" y1="686.2" x2="770" y2="686.2" stroke="#000" stroke-width="2.2"/>
<line x1="763.0" y1="675.6" x2="770" y2="675.6" stroke="#000" stroke-width="2.2"/>
<line x1="763.0" y1="665.1" x2="770" y2="665.1" stroke="#000" stroke-width="2.2"/>
<line x1="763.0" y1="654.5" x2="770" y2="654.5" stroke="#000" stroke-width="2.2"/>
<line x1="757.4" y1="643.9" x2="770" y2="643.9" stroke="#000" stroke-width="2.6"/>
<text x="752.0" y="649.6" text-anchor="end" class="tk">6</text>
<line x1="763.0" y1="633.4" x2="770" y2="633.4" stroke="#000" stroke-width="2.2"/>
<line x1="763.0" y1="622.8" x2="770" y2="622.8" stroke="#000" stroke-width="2.2"/>
<line x1="763.0" y1="612.2" x2="770" y2="612.2" stroke="#000" stroke-width="2.2"/>
<line x1="763.0" y1="601.7" x2="770" y2="601.7" stroke="#000" stroke-width="2.2"/>
<line x1="757.4" y1="591.1" x2="770" y2="591.1" stroke="#000" stroke-width="2.6"/>
<text x="752.0" y="596.8" text-anchor="end" class="tk">7</text>
<line x1="763.0" y1="580.5" x2="770" y2="580.5" stroke="#000" stroke-width="2.2"/>
<line x1="763.0" y1="570.0" x2="770" y2="570.0" stroke="#000" stroke-width="2.2"/>
<line x1="763.0" y1="559.4" x2="770" y2="559.4" stroke="#000" stroke-width="2.2"/>
<line x1="763.0" y1="548.8" x2="770" y2="548.8" stroke="#000" stroke-width="2.2"/>
<line x1="757.4" y1="538.3" x2="770" y2="538.3" stroke="#000" stroke-width="2.6"/>
<text x="752.0" y="544.0" text-anchor="end" class="tk">8</text>
<line x1="763.0" y1="527.7" x2="770" y2="527.7" stroke="#000" stroke-width="2.2"/>
<line x1="763.0" y1="517.1" x2="770" y2="517.1" stroke="#000" stroke-width="2.2"/>
<line x1="763.0" y1="506.6" x2="770" y2="506.6" stroke="#000" stroke-width="2.2"/>
<line x1="763.0" y1="496.0" x2="770" y2="496.0" stroke="#000" stroke-width="2.2"/>
<line x1="757.4" y1="485.4" x2="770" y2="485.4" stroke="#000" stroke-width="2.6"/>
<text x="752.0" y="491.1" text-anchor="end" class="tk">9</text>
<line x1="763.0" y1="474.9" x2="770" y2="474.9" stroke="#000" stroke-width="2.2"/>
<line x1="763.0" y1="464.3" x2="770" y2="464.3" stroke="#000" stroke-width="2.2"/>
<line x1="763.0" y1="453.7" x2="770" y2="453.7" stroke="#000" stroke-width="2.2"/>
<line x1="763.0" y1="443.2" x2="770" y2="443.2" stroke="#000" stroke-width="2.2"/>
<line x1="757.4" y1="432.6" x2="770" y2="432.6" stroke="#000" stroke-width="2.6"/>
<text x="752.0" y="438.3" text-anchor="end" class="tk">10</text>
<line x1="1272.5" y1="749.6" x2="1285.1" y2="749.6" stroke="#d11a1a" stroke-width="2.6"/>
<text x="1291.5" y="755.3" class="tk rd">0</text>
<line x1="1272.5" y1="696.8" x2="1285.1" y2="696.8" stroke="#d11a1a" stroke-width="2.6"/>
<text x="1291.5" y="702.5" class="tk rd">5</text>
<line x1="1272.5" y1="643.9" x2="1285.1" y2="643.9" stroke="#d11a1a" stroke-width="2.6"/>
<text x="1291.5" y="649.6" class="tk rd">10</text>
<line x1="1272.5" y1="591.1" x2="1285.1" y2="591.1" stroke="#d11a1a" stroke-width="2.6"/>
<text x="1291.5" y="596.8" class="tk rd">15</text>
<line x1="1272.5" y1="538.3" x2="1285.1" y2="538.3" stroke="#d11a1a" stroke-width="2.6"/>
<text x="1291.5" y="544.0" class="tk rd">20</text>
<line x1="1272.5" y1="485.4" x2="1285.1" y2="485.4" stroke="#d11a1a" stroke-width="2.6"/>
<text x="1291.5" y="491.1" class="tk rd">25</text>
<line x1="1272.5" y1="432.6" x2="1285.1" y2="432.6" stroke="#d11a1a" stroke-width="2.6"/>
<text x="1291.5" y="438.3" class="tk rd">30</text>
<text x="1021.2" y="813.8" text-anchor="middle" class="al">Flight altitude (km)</text>
<text transform="translate(713.1,591.0) rotate(-90)" text-anchor="middle" class="al">Plume height (km)</text>
<text transform="translate(1328.2,591.0) rotate(90)" text-anchor="middle" class="al rd">Plume age (h)</text>
<text x="683" y="443.5" class="pl">(d)</text>
<text x="787" y="451.4" class="ti" xml:space="preserve">Flight 29 July - Tucker</text>
<text x="790" y="483" class="sb" textLength="55" lengthAdjust="spacingAndGlyphs">(Aged)</text></g>
<g id="pe"><path d="M210.3,891.9h10M215.3,886.9v10M212,900.2h10M217,895.2v10M213.5,908.6h10M218.5,903.6v10M214.6,917h10M219.6,912v10M215.7,925.5h10M220.7,920.5v10M216.9,933.9h10M221.9,928.9v10M217.9,942.3h10M222.9,937.3v10M218.9,950.8h10M223.9,945.8v10M219.9,959.2h10M224.9,954.2v10M220.8,967.7h10M225.8,962.7v10M221.7,976.1h10M226.7,971.1v10M222.6,984h10M227.6,979v10" fill="none" stroke="#d42418" stroke-width="1.3" stroke-opacity="0.75"/>
<path d="M214.5,900 218,912 222,935 225,960 228,986" fill="none" stroke="#d42418" stroke-width="1.2" stroke-linejoin="round" stroke-linecap="butt" stroke-opacity="0.6"/>
<path d="M205.6,890.4h10M210.6,885.4v10M206.9,892.3h10M211.9,887.3v10M207.3,894.1h10M212.3,889.1v10M207.8,896.6h10M212.8,891.6v10M209.1,898.5h10M214.1,893.5v10M210.2,899.8h10M215.2,894.8v10" fill="none" stroke="#d42418" stroke-width="1.3" stroke-opacity="0.8"/>
<path d="M229.5,982.8h10M234.5,977.8v10M231.8,981.7h10M236.8,976.7v10M234,980.5h10M239,975.5v10M236.3,979.5h10M241.3,974.5v10M238.6,978.6h10M243.6,973.6v10M240.3,977.9h10M245.3,972.9v10" fill="none" stroke="#d42418" stroke-width="1.2" stroke-opacity="0.6"/>
<path d="M245.3,972.7h10M250.3,967.7v10M247,968h10M252,963v10M248.7,963.3h10M253.7,958.3v10M250.5,958.7h10M255.5,953.7v10M252.1,960.1h10M257.1,955.1v10M253.5,964.9h10M258.5,959.9v10M254.9,969.7h10M259.9,964.7v10M256.1,974.5h10M261.1,969.5v10M257.3,979.4h10M262.3,974.4v10M257.6,980.8h10M262.6,975.8v10" fill="none" stroke="#d42418" stroke-width="1.3" stroke-opacity="0.7"/>
<path d="M261.7,987.2h10M266.7,982.2v10M264.1,989h10M269.1,984v10M266.4,990.9h10M271.4,985.9v10M268.6,992.9h10M273.6,987.9v10M270.8,995h10M275.8,990v10M272.1,996.2h10M277.1,991.2v10" fill="none" stroke="#d42418" stroke-width="1.2" stroke-opacity="0.6"/>
<path d="M231,984.7 240,980 249,976.5" fill="none" stroke="#d42418" stroke-width="6" stroke-linejoin="round" stroke-linecap="butt" stroke-opacity="0.55"/>
<path d="M280,999 284.9,1004.3 290,1014 294.7,1024 300,1031 309.4,1037 318,1029 325.8,1019 334,1013 342.1,1009.2 355.2,1002.7 365,1006 372,1016 379.7,1027.2 389.5,1024 396,1022 402.6,1024" fill="none" stroke="#d42418" stroke-width="8" stroke-linejoin="round" stroke-linecap="butt" stroke-opacity="0.8"/>
<path d="M206.2,912 216.8,912 216.8,1076 206.2,1076Z" fill="#d42418" fill-opacity="1"/>
<path d="M205.8,917.8h12.9M212.2,911.4v12.9M204.5,919.8h12.9M210.9,913.3v12.9M205,922.5h12.9M211.5,916v12.9M205.8,924.8h12.9M212.2,918.3v12.9M205.6,927.9h12.9M212.1,921.5v12.9M205.8,930.6h12.9M212.2,924.1v12.9M204.6,932.5h12.9M211,926v12.9M205.8,934.9h12.9M212.2,928.4v12.9M205.2,938.8h12.9M211.6,932.3v12.9M205.2,941.1h12.9M211.6,934.6v12.9M205.2,943.5h12.9M211.6,937.1v12.9M205.6,945.9h12.9M212.1,939.4v12.9M204.4,948.7h12.9M210.8,942.2v12.9M205.4,950.8h12.9M211.8,944.4v12.9M205.6,954.1h12.9M212,947.7v12.9M205.8,955.9h12.9M212.2,949.4v12.9M204.2,958.1h12.9M210.7,951.6v12.9M204.7,961.6h12.9M211.2,955.2v12.9M204.6,963.9h12.9M211.1,957.5v12.9M205.4,966h12.9M211.9,959.5v12.9M205.4,968.8h12.9M211.8,962.4v12.9M205.7,972.5h12.9M212.1,966.1v12.9M204.4,974.4h12.9M210.8,967.9v12.9M205.9,977.5h12.9M212.3,971v12.9M204.5,980.4h12.9M210.9,974v12.9M204.3,981.6h12.9M210.7,975.2v12.9M204.1,985.5h12.9M210.6,979.1v12.9M204.6,986.7h12.9M211.1,980.2v12.9M205.5,990.6h12.9M212,984.1v12.9M204.8,992.4h12.9M211.3,986v12.9M204.4,995.2h12.9M210.8,988.8v12.9M205.4,997.2h12.9M211.9,990.8v12.9M205.7,1000.7h12.9M212.1,994.3v12.9M205.6,1003.2h12.9M212.1,996.7v12.9M204.4,1005h12.9M210.9,998.5v12.9M205.4,1008.9h12.9M211.8,1002.4v12.9M205.5,1011.2h12.9M212,1004.7v12.9M205,1014.1h12.9M211.4,1007.6v12.9M204.3,1015.6h12.9M210.7,1009.1v12.9M205.2,1018.4h12.9M211.7,1012v12.9M205.7,1020.5h12.9M212.2,1014v12.9M205.1,1024.4h12.9M211.6,1018v12.9M204.1,1026.8h12.9M210.5,1020.3v12.9M206,1029.8h12.9M212.4,1023.3v12.9M204.2,1031.5h12.9M210.7,1025.1v12.9M204.4,1033.7h12.9M210.8,1027.2v12.9M205.2,1036.7h12.9M211.6,1030.2v12.9M205.6,1039.2h12.9M212.1,1032.7v12.9M205.5,1041.9h12.9M211.9,1035.5v12.9M205.6,1043.9h12.9M212,1037.4v12.9M204.3,1048h12.9M210.8,1041.5v12.9M206,1049.7h12.9M212.5,1043.2v12.9M204.4,1052.3h12.9M210.9,1045.8v12.9M205.6,1054.7h12.9M212,1048.2v12.9M204.1,1058.3h12.9M210.6,1051.8v12.9M204.7,1060h12.9M211.1,1053.6v12.9M204.2,1062.4h12.9M210.7,1055.9v12.9M206,1066.2h12.9M212.5,1059.8v12.9M204.3,1068.6h12.9M210.8,1062.2v12.9M205.1,1070.4h12.9M211.6,1064v12.9M205.8,1070.1h12.9M212.2,1063.7v12.9" fill="none" stroke="#d42418" stroke-width="1.1" stroke-opacity="0.7"/>
<path d="M206.6,894h10M211.6,889v10M206.6,896.5h10M211.6,891.5v10M206.7,899h10M211.7,894v10M206.8,901.5h10M211.8,896.5v10M206.8,904h10M211.8,899v10M206.9,906.5h10M211.9,901.5v10M206.9,908h10M211.9,903v10" fill="none" stroke="#d42418" stroke-width="1.5" stroke-opacity="0.85"/>
<path d="M207,994.5 216,994.5 216,1078 207,1078Z" fill="#333333"/>
<path d="M210.2,1076 215.8,1076 215.8,1135 210.2,1135Z" fill="#333333"/>
<rect x="211.5" y="1136" width="5" height="5" fill="#333333"/>
<rect x="211.5" y="1143" width="5" height="5" fill="#333333"/>
<rect x="211.5" y="1158" width="5" height="6" fill="#333333"/>
<path d="M216.2,1054.4 218.8,1054.2 224.3,1054.2 224.3,1059.7 221.7,1059.9 216.2,1059.9Z" fill="#333333"/>
<path d="M221.5,1046.8 222.5,1041.9 227.5,1041.9 227.5,1046.9 226.5,1051.8 221.5,1051.8Z" fill="#333333"/>
<path d="M224.4,1030 225.1,1026 230.1,1026 230.1,1031 229.4,1035 224.4,1035Z" fill="#333333"/>
<path d="M228.1,1020.3 233.4,1020.3 238.5,1028.3 238.5,1033.7 233.2,1033.7 228.1,1025.6ZM233.2,1028.3 244.5,1018.1 249.8,1018.1 249.8,1023.4 238.5,1033.7 233.2,1033.7ZM244.5,1018.1 261.3,1018.1 261.3,1023.4 244.5,1023.4ZM256.1,1018.1 262.6,1013.1 267.8,1013.1 267.8,1018.4 261.3,1023.4 256.1,1023.4ZM262.6,1013.1 267.8,1013.1 274.4,1014.8 274.4,1020 269.2,1020 262.6,1018.4ZM269.2,1014.8 275.7,996.8 280.9,996.8 280.9,1002 274.4,1020 269.2,1020ZM275.7,996.8 290.4,988.6 295.6,988.6 295.6,993.9 280.9,1002 275.7,1002ZM290.4,988.6 295.4,973.9 300.6,973.9 300.6,979.1 295.6,993.9 290.4,993.9ZM295.4,973.9 308.4,964.1 313.6,964.1 313.6,969.4 300.6,979.1 295.4,979.1ZM308.4,964.1 323.2,929.6 328.4,929.6 328.4,934.9 313.6,969.4 308.4,969.4ZM323.2,929.6 329.7,923.1 334.9,923.1 334.9,928.4 328.4,934.9 323.2,934.9ZM329.7,923.1 334.9,923.1 343.1,928.1 343.1,933.4 337.9,933.4 329.7,928.4ZM337.9,928.1 344.4,922.4 349.6,922.4 349.6,927.6 343.1,933.4 337.9,933.4ZM344.4,922.4 349.6,922.4 356.2,927.2 356.2,932.5 351,932.5 344.4,927.6ZM351,927.2 357.4,916.6 362.6,916.6 362.6,921.9 356.2,932.5 351,932.5ZM357.4,916.6 362.6,916.6 366,924.8 366,930 360.8,930 357.4,921.9ZM360.8,924.8 370.6,908.4 375.8,908.4 375.8,913.6 366,930 360.8,930ZM370.6,908.4 380.6,908.4 380.6,913.6 370.6,913.6ZM375.4,908.4 380.6,908.4 387.2,916.6 387.2,921.9 382,921.9 375.4,913.6ZM382,916.6 393.4,905.1 398.6,905.1 398.6,910.4 387.2,921.9 382,921.9ZM393.4,905.1 398.6,905.1 401.3,906.5 401.3,911.8 396,911.8 393.4,910.4Z" fill="#333333"/>
<line x1="91.6" y1="844.8" x2="597.4" y2="844.8" stroke="#000" stroke-width="2.8"/>
<line x1="91.6" y1="1177.3" x2="597.4" y2="1177.3" stroke="#000" stroke-width="2.8"/>
<line x1="93" y1="843.4" x2="93" y2="1178.7" stroke="#000" stroke-width="2.8"/>
<line x1="596" y1="846.0" x2="596" y2="1176.1" stroke="#d11a1a" stroke-width="2.8"/>
<line x1="98.0" y1="1177.3" x2="98.0" y2="1189.9" stroke="#000" stroke-width="2.6"/>
<text x="98.0" y="1213.1" text-anchor="middle" class="tk">3</text>
<line x1="107.8" y1="1177.3" x2="107.8" y2="1184.3" stroke="#000" stroke-width="2.2"/>
<line x1="117.6" y1="1177.3" x2="117.6" y2="1184.3" stroke="#000" stroke-width="2.2"/>
<line x1="127.4" y1="1177.3" x2="127.4" y2="1184.3" stroke="#000" stroke-width="2.2"/>
<line x1="137.2" y1="1177.3" x2="137.2" y2="1184.3" stroke="#000" stroke-width="2.2"/>
<line x1="147.0" y1="1177.3" x2="147.0" y2="1186.8" stroke="#000" stroke-width="2.2"/>
<line x1="156.8" y1="1177.3" x2="156.8" y2="1184.3" stroke="#000" stroke-width="2.2"/>
<line x1="166.6" y1="1177.3" x2="166.6" y2="1184.3" stroke="#000" stroke-width="2.2"/>
<line x1="176.4" y1="1177.3" x2="176.4" y2="1184.3" stroke="#000" stroke-width="2.2"/>
<line x1="186.2" y1="1177.3" x2="186.2" y2="1184.3" stroke="#000" stroke-width="2.2"/>
<line x1="196.0" y1="1177.3" x2="196.0" y2="1189.9" stroke="#000" stroke-width="2.6"/>
<text x="196.0" y="1213.1" text-anchor="middle" class="tk">4</text>
<line x1="205.8" y1="1177.3" x2="205.8" y2="1184.3" stroke="#000" stroke-width="2.2"/>
<line x1="215.6" y1="1177.3" x2="215.6" y2="1184.3" stroke="#000" stroke-width="2.2"/>
<line x1="225.4" y1="1177.3" x2="225.4" y2="1184.3" stroke="#000" stroke-width="2.2"/>
<line x1="235.2" y1="1177.3" x2="235.2" y2="1184.3" stroke="#000" stroke-width="2.2"/>
<line x1="245.0" y1="1177.3" x2="245.0" y2="1186.8" stroke="#000" stroke-width="2.2"/>
<line x1="254.8" y1="1177.3" x2="254.8" y2="1184.3" stroke="#000" stroke-width="2.2"/>
<line x1="264.6" y1="1177.3" x2="264.6" y2="1184.3" stroke="#000" stroke-width="2.2"/>
<line x1="274.4" y1="1177.3" x2="274.4" y2="1184.3" stroke="#000" stroke-width="2.2"/>
<line x1="284.2" y1="1177.3" x2="284.2" y2="1184.3" stroke="#000" stroke-width="2.2"/>
<line x1="294.0" y1="1177.3" x2="294.0" y2="1189.9" stroke="#000" stroke-width="2.6"/>
<text x="294.0" y="1213.1" text-anchor="middle" class="tk">5</text>
<line x1="303.8" y1="1177.3" x2="303.8" y2="1184.3" stroke="#000" stroke-width="2.2"/>
<line x1="313.6" y1="1177.3" x2="313.6" y2="1184.3" stroke="#000" stroke-width="2.2"/>
<line x1="323.4" y1="1177.3" x2="323.4" y2="1184.3" stroke="#000" stroke-width="2.2"/>
<line x1="333.2" y1="1177.3" x2="333.2" y2="1184.3" stroke="#000" stroke-width="2.2"/>
<line x1="343.0" y1="1177.3" x2="343.0" y2="1186.8" stroke="#000" stroke-width="2.2"/>
<line x1="352.8" y1="1177.3" x2="352.8" y2="1184.3" stroke="#000" stroke-width="2.2"/>
<line x1="362.6" y1="1177.3" x2="362.6" y2="1184.3" stroke="#000" stroke-width="2.2"/>
<line x1="372.4" y1="1177.3" x2="372.4" y2="1184.3" stroke="#000" stroke-width="2.2"/>
<line x1="382.2" y1="1177.3" x2="382.2" y2="1184.3" stroke="#000" stroke-width="2.2"/>
<line x1="392.0" y1="1177.3" x2="392.0" y2="1189.9" stroke="#000" stroke-width="2.6"/>
<text x="392.0" y="1213.1" text-anchor="middle" class="tk">6</text>
<line x1="401.8" y1="1177.3" x2="401.8" y2="1184.3" stroke="#000" stroke-width="2.2"/>
<line x1="411.6" y1="1177.3" x2="411.6" y2="1184.3" stroke="#000" stroke-width="2.2"/>
<line x1="421.4" y1="1177.3" x2="421.4" y2="1184.3" stroke="#000" stroke-width="2.2"/>
<line x1="431.2" y1="1177.3" x2="431.2" y2="1184.3" stroke="#000" stroke-width="2.2"/>
<line x1="441.0" y1="1177.3" x2="441.0" y2="1186.8" stroke="#000" stroke-width="2.2"/>
<line x1="450.8" y1="1177.3" x2="450.8" y2="1184.3" stroke="#000" stroke-width="2.2"/>
<line x1="460.6" y1="1177.3" x2="460.6" y2="1184.3" stroke="#000" stroke-width="2.2"/>
<line x1="470.4" y1="1177.3" x2="470.4" y2="1184.3" stroke="#000" stroke-width="2.2"/>
<line x1="480.2" y1="1177.3" x2="480.2" y2="1184.3" stroke="#000" stroke-width="2.2"/>
<line x1="490.0" y1="1177.3" x2="490.0" y2="1189.9" stroke="#000" stroke-width="2.6"/>
<text x="490.0" y="1213.1" text-anchor="middle" class="tk">7</text>
<line x1="499.8" y1="1177.3" x2="499.8" y2="1184.3" stroke="#000" stroke-width="2.2"/>
<line x1="509.6" y1="1177.3" x2="509.6" y2="1184.3" stroke="#000" stroke-width="2.2"/>
<line x1="519.4" y1="1177.3" x2="519.4" y2="1184.3" stroke="#000" stroke-width="2.2"/>
<line x1="529.2" y1="1177.3" x2="529.2" y2="1184.3" stroke="#000" stroke-width="2.2"/>
<line x1="539.0" y1="1177.3" x2="539.0" y2="1186.8" stroke="#000" stroke-width="2.2"/>
<line x1="548.8" y1="1177.3" x2="548.8" y2="1184.3" stroke="#000" stroke-width="2.2"/>
<line x1="558.6" y1="1177.3" x2="558.6" y2="1184.3" stroke="#000" stroke-width="2.2"/>
<line x1="568.4" y1="1177.3" x2="568.4" y2="1184.3" stroke="#000" stroke-width="2.2"/>
<line x1="578.2" y1="1177.3" x2="578.2" y2="1184.3" stroke="#000" stroke-width="2.2"/>
<line x1="588.0" y1="1177.3" x2="588.0" y2="1189.9" stroke="#000" stroke-width="2.6"/>
<text x="588.0" y="1213.1" text-anchor="middle" class="tk">8</text>
<line x1="80.4" y1="1169.6" x2="93" y2="1169.6" stroke="#000" stroke-width="2.6"/>
<text x="75.0" y="1175.3" text-anchor="end" class="tk">4</text>
<line x1="86.0" y1="1161.7" x2="93" y2="1161.7" stroke="#000" stroke-width="2.2"/>
<line x1="86.0" y1="1153.8" x2="93" y2="1153.8" stroke="#000" stroke-width="2.2"/>
<line x1="86.0" y1="1145.8" x2="93" y2="1145.8" stroke="#000" stroke-width="2.2"/>
<line x1="86.0" y1="1137.9" x2="93" y2="1137.9" stroke="#000" stroke-width="2.2"/>
<line x1="86.0" y1="1130.0" x2="93" y2="1130.0" stroke="#000" stroke-width="2.2"/>
<line x1="86.0" y1="1122.0" x2="93" y2="1122.0" stroke="#000" stroke-width="2.2"/>
<line x1="86.0" y1="1114.1" x2="93" y2="1114.1" stroke="#000" stroke-width="2.2"/>
<line x1="86.0" y1="1106.2" x2="93" y2="1106.2" stroke="#000" stroke-width="2.2"/>
<line x1="86.0" y1="1098.3" x2="93" y2="1098.3" stroke="#000" stroke-width="2.2"/>
<line x1="80.4" y1="1090.3" x2="93" y2="1090.3" stroke="#000" stroke-width="2.6"/>
<text x="75.0" y="1096.0" text-anchor="end" class="tk">6</text>
<line x1="86.0" y1="1082.4" x2="93" y2="1082.4" stroke="#000" stroke-width="2.2"/>
<line x1="86.0" y1="1074.5" x2="93" y2="1074.5" stroke="#000" stroke-width="2.2"/>
<line x1="86.0" y1="1066.6" x2="93" y2="1066.6" stroke="#000" stroke-width="2.2"/>
<line x1="86.0" y1="1058.6" x2="93" y2="1058.6" stroke="#000" stroke-width="2.2"/>
<line x1="86.0" y1="1050.7" x2="93" y2="1050.7" stroke="#000" stroke-width="2.2"/>
<line x1="86.0" y1="1042.8" x2="93" y2="1042.8" stroke="#000" stroke-width="2.2"/>
<line x1="86.0" y1="1034.9" x2="93" y2="1034.9" stroke="#000" stroke-width="2.2"/>
<line x1="86.0" y1="1026.9" x2="93" y2="1026.9" stroke="#000" stroke-width="2.2"/>
<line x1="86.0" y1="1019.0" x2="93" y2="1019.0" stroke="#000" stroke-width="2.2"/>
<line x1="80.4" y1="1011.1" x2="93" y2="1011.1" stroke="#000" stroke-width="2.6"/>
<text x="75.0" y="1016.8" text-anchor="end" class="tk">8</text>
<line x1="86.0" y1="1003.2" x2="93" y2="1003.2" stroke="#000" stroke-width="2.2"/>
<line x1="86.0" y1="995.2" x2="93" y2="995.2" stroke="#000" stroke-width="2.2"/>
<line x1="86.0" y1="987.3" x2="93" y2="987.3" stroke="#000" stroke-width="2.2"/>
<line x1="86.0" y1="979.4" x2="93" y2="979.4" stroke="#000" stroke-width="2.2"/>
<line x1="86.0" y1="971.5" x2="93" y2="971.5" stroke="#000" stroke-width="2.2"/>
<line x1="86.0" y1="963.5" x2="93" y2="963.5" stroke="#000" stroke-width="2.2"/>
<line x1="86.0" y1="955.6" x2="93" y2="955.6" stroke="#000" stroke-width="2.2"/>
<line x1="86.0" y1="947.7" x2="93" y2="947.7" stroke="#000" stroke-width="2.2"/>
<line x1="86.0" y1="939.8" x2="93" y2="939.8" stroke="#000" stroke-width="2.2"/>
<line x1="80.4" y1="931.9" x2="93" y2="931.9" stroke="#000" stroke-width="2.6"/>
<text x="75.0" y="937.6" text-anchor="end" class="tk">10</text>
<line x1="86.0" y1="923.9" x2="93" y2="923.9" stroke="#000" stroke-width="2.2"/>
<line x1="86.0" y1="916.0" x2="93" y2="916.0" stroke="#000" stroke-width="2.2"/>
<line x1="86.0" y1="908.1" x2="93" y2="908.1" stroke="#000" stroke-width="2.2"/>
<line x1="86.0" y1="900.1" x2="93" y2="900.1" stroke="#000" stroke-width="2.2"/>
<line x1="86.0" y1="892.2" x2="93" y2="892.2" stroke="#000" stroke-width="2.2"/>
<line x1="86.0" y1="884.3" x2="93" y2="884.3" stroke="#000" stroke-width="2.2"/>
<line x1="86.0" y1="876.4" x2="93" y2="876.4" stroke="#000" stroke-width="2.2"/>
<line x1="86.0" y1="868.5" x2="93" y2="868.5" stroke="#000" stroke-width="2.2"/>
<line x1="86.0" y1="860.5" x2="93" y2="860.5" stroke="#000" stroke-width="2.2"/>
<line x1="80.4" y1="852.6" x2="93" y2="852.6" stroke="#000" stroke-width="2.6"/>
<text x="75.0" y="858.3" text-anchor="end" class="tk">12</text>
<line x1="596" y1="1169.6" x2="608.6" y2="1169.6" stroke="#d11a1a" stroke-width="2.6"/>
<text x="615.0" y="1175.3" class="tk rd">0</text>
<line x1="596" y1="1161.7" x2="603.0" y2="1161.7" stroke="#d11a1a" stroke-width="2.2"/>
<line x1="596" y1="1153.8" x2="603.0" y2="1153.8" stroke="#d11a1a" stroke-width="2.2"/>
<line x1="596" y1="1145.8" x2="603.0" y2="1145.8" stroke="#d11a1a" stroke-width="2.2"/>
<line x1="596" y1="1137.9" x2="603.0" y2="1137.9" stroke="#d11a1a" stroke-width="2.2"/>
<line x1="596" y1="1130.0" x2="605.5" y2="1130.0" stroke="#d11a1a" stroke-width="2.2"/>
<line x1="596" y1="1122.0" x2="603.0" y2="1122.0" stroke="#d11a1a" stroke-width="2.2"/>
<line x1="596" y1="1114.1" x2="603.0" y2="1114.1" stroke="#d11a1a" stroke-width="2.2"/>
<line x1="596" y1="1106.2" x2="603.0" y2="1106.2" stroke="#d11a1a" stroke-width="2.2"/>
<line x1="596" y1="1098.3" x2="603.0" y2="1098.3" stroke="#d11a1a" stroke-width="2.2"/>
<line x1="596" y1="1090.3" x2="608.6" y2="1090.3" stroke="#d11a1a" stroke-width="2.6"/>
<text x="615.0" y="1096.0" class="tk rd">10</text>
<line x1="596" y1="1082.4" x2="603.0" y2="1082.4" stroke="#d11a1a" stroke-width="2.2"/>
<line x1="596" y1="1074.5" x2="603.0" y2="1074.5" stroke="#d11a1a" stroke-width="2.2"/>
<line x1="596" y1="1066.6" x2="603.0" y2="1066.6" stroke="#d11a1a" stroke-width="2.2"/>
<line x1="596" y1="1058.6" x2="603.0" y2="1058.6" stroke="#d11a1a" stroke-width="2.2"/>
<line x1="596" y1="1050.7" x2="605.5" y2="1050.7" stroke="#d11a1a" stroke-width="2.2"/>
<line x1="596" y1="1042.8" x2="603.0" y2="1042.8" stroke="#d11a1a" stroke-width="2.2"/>
<line x1="596" y1="1034.9" x2="603.0" y2="1034.9" stroke="#d11a1a" stroke-width="2.2"/>
<line x1="596" y1="1027.0" x2="603.0" y2="1027.0" stroke="#d11a1a" stroke-width="2.2"/>
<line x1="596" y1="1019.0" x2="603.0" y2="1019.0" stroke="#d11a1a" stroke-width="2.2"/>
<line x1="596" y1="1011.1" x2="608.6" y2="1011.1" stroke="#d11a1a" stroke-width="2.6"/>
<text x="615.0" y="1016.8" class="tk rd">20</text>
<line x1="596" y1="1003.2" x2="603.0" y2="1003.2" stroke="#d11a1a" stroke-width="2.2"/>
<line x1="596" y1="995.2" x2="603.0" y2="995.2" stroke="#d11a1a" stroke-width="2.2"/>
<line x1="596" y1="987.3" x2="603.0" y2="987.3" stroke="#d11a1a" stroke-width="2.2"/>
<line x1="596" y1="979.4" x2="603.0" y2="979.4" stroke="#d11a1a" stroke-width="2.2"/>
<line x1="596" y1="971.5" x2="605.5" y2="971.5" stroke="#d11a1a" stroke-width="2.2"/>
<line x1="596" y1="963.5" x2="603.0" y2="963.5" stroke="#d11a1a" stroke-width="2.2"/>
<line x1="596" y1="955.6" x2="603.0" y2="955.6" stroke="#d11a1a" stroke-width="2.2"/>
<line x1="596" y1="947.7" x2="603.0" y2="947.7" stroke="#d11a1a" stroke-width="2.2"/>
<line x1="596" y1="939.8" x2="603.0" y2="939.8" stroke="#d11a1a" stroke-width="2.2"/>
<line x1="596" y1="931.9" x2="608.6" y2="931.9" stroke="#d11a1a" stroke-width="2.6"/>
<text x="615.0" y="937.6" class="tk rd">30</text>
<line x1="596" y1="923.9" x2="603.0" y2="923.9" stroke="#d11a1a" stroke-width="2.2"/>
<line x1="596" y1="916.0" x2="603.0" y2="916.0" stroke="#d11a1a" stroke-width="2.2"/>
<line x1="596" y1="908.1" x2="603.0" y2="908.1" stroke="#d11a1a" stroke-width="2.2"/>
<line x1="596" y1="900.1" x2="603.0" y2="900.1" stroke="#d11a1a" stroke-width="2.2"/>
<line x1="596" y1="892.2" x2="605.5" y2="892.2" stroke="#d11a1a" stroke-width="2.2"/>
<line x1="596" y1="884.3" x2="603.0" y2="884.3" stroke="#d11a1a" stroke-width="2.2"/>
<line x1="596" y1="876.4" x2="603.0" y2="876.4" stroke="#d11a1a" stroke-width="2.2"/>
<line x1="596" y1="868.5" x2="603.0" y2="868.5" stroke="#d11a1a" stroke-width="2.2"/>
<line x1="596" y1="860.5" x2="603.0" y2="860.5" stroke="#d11a1a" stroke-width="2.2"/>
<line x1="596" y1="852.6" x2="608.6" y2="852.6" stroke="#d11a1a" stroke-width="2.6"/>
<text x="615.0" y="858.3" class="tk rd">40</text>
<text x="344.5" y="1233.8" text-anchor="middle" class="al">Flight altitude (km)</text>
<text transform="translate(37,1011.0) rotate(-90)" text-anchor="middle" class="al">Plume height (km)</text>
<text transform="translate(651.5,1011.0) rotate(90)" text-anchor="middle" class="al rd">Plume age (h)</text>
<text x="4.4" y="862.5" class="pl">(e)</text>
<text x="105.6" y="871" class="ti" xml:space="preserve">Flight 30 July - Barren Hill</text>
<text x="101" y="904" class="sb" textLength="55" lengthAdjust="spacingAndGlyphs">(Aged)</text></g>
<g id="pf"><path d="M963.9,886.8h9M968.4,882.3v9M963.9,906.4h9M968.4,901.9v9M963.9,925.5h9M968.4,921v9M963.9,932.7h9M968.4,928.2v9M963.9,937.2h9M968.4,932.7v9M963.9,943h9M968.4,938.5v9M963.9,947h9M968.4,942.5v9M963.9,953h9M968.4,948.5v9M963.9,957h9M968.4,952.5v9M963.9,961h9M968.4,956.5v9M963.9,965h9M968.4,960.5v9" fill="none" stroke="#d42418" stroke-width="1.3" stroke-opacity="0.85"/>
<path d="M963.4,968 973.4,968 973.4,1088 963.4,1088Z" fill="#d42418" fill-opacity="1"/>
<path d="M961.4,972.8h12.4M967.6,966.6v12.4M963,975.8h12.4M969.2,969.6v12.4M961.4,977.5h12.4M967.6,971.3v12.4M962.9,981.4h12.4M969.1,975.2v12.4M962.2,983.4h12.4M968.4,977.2v12.4M961.5,986.5h12.4M967.7,980.3v12.4M962,989.3h12.4M968.2,983.1v12.4M962.4,991.4h12.4M968.6,985.2v12.4M963.1,993.3h12.4M969.3,987.1v12.4M961.4,996.1h12.4M967.6,989.9v12.4M961.9,999.2h12.4M968.1,993v12.4M962.7,1001.3h12.4M968.9,995.1v12.4M961.8,1003.8h12.4M968,997.6v12.4M962.4,1006.2h12.4M968.6,1000v12.4M961.5,1010h12.4M967.7,1003.8v12.4M961.3,1011.9h12.4M967.5,1005.7v12.4M961.3,1014.7h12.4M967.5,1008.5v12.4M961.7,1017.7h12.4M967.9,1011.5v12.4M962.7,1019.8h12.4M968.9,1013.6v12.4M962.5,1022.7h12.4M968.7,1016.5v12.4M961.6,1025.4h12.4M967.8,1019.2v12.4M962.4,1027.1h12.4M968.6,1020.9v12.4M961.3,1030.3h12.4M967.5,1024.1v12.4M961.2,1033.5h12.4M967.4,1027.3v12.4M963,1036.1h12.4M969.2,1029.9v12.4M961.7,1038.1h12.4M967.9,1031.9v12.4M961.8,1041.4h12.4M968,1035.2v12.4M962,1043.6h12.4M968.2,1037.4v12.4M961.9,1046.4h12.4M968.1,1040.2v12.4M961.9,1047.7h12.4M968.1,1041.5v12.4M961.6,1050.7h12.4M967.8,1044.5v12.4M963.2,1053.8h12.4M969.4,1047.6v12.4M961.8,1056.2h12.4M968,1050v12.4M962.3,1058.1h12.4M968.5,1051.9v12.4M961.4,1060.7h12.4M967.6,1054.5v12.4M963.1,1064.3h12.4M969.3,1058.1v12.4M962.9,1067.3h12.4M969.1,1061.1v12.4M962.2,1069.3h12.4M968.4,1063.1v12.4M963.1,1071.3h12.4M969.3,1065.1v12.4M962.6,1074.8h12.4M968.8,1068.6v12.4M961.7,1077.1h12.4M967.9,1070.9v12.4M961.9,1078.9h12.4M968.1,1072.7v12.4M962.7,1082.7h12.4M968.9,1076.5v12.4M962.9,1082.8h12.4M969.1,1076.6v12.4" fill="none" stroke="#d42418" stroke-width="1.1" stroke-opacity="0.7"/>
<path d="M963.9,1098.6h9M968.4,1094.1v9" fill="none" stroke="#d42418" stroke-width="1.4" stroke-opacity="0.85"/>
<path d="M961.2,1107 973.2,1107 973.2,1140 961.2,1140Z" fill="#d42418" fill-opacity="1"/>
<path d="M960.3,1112.2h14.4M967.5,1105v14.4M959.8,1116h14.4M967,1108.8v14.4M959.3,1118.7h14.4M966.5,1111.5v14.4M960.9,1121.1h14.4M968.1,1113.9v14.4M959.9,1123.7h14.4M967.1,1116.5v14.4M959.4,1125.5h14.4M966.6,1118.3v14.4M960.1,1129.3h14.4M967.3,1122.1v14.4M959.3,1131.9h14.4M966.5,1124.7v14.4M959.8,1133.1h14.4M967,1125.9v14.4M960.4,1133.8h14.4M967.6,1126.6v14.4" fill="none" stroke="#d42418" stroke-width="1.1" stroke-opacity="0.7"/>
<path d="M963.5,1146h8M967.5,1142v8" fill="none" stroke="#d42418" stroke-width="1.4" stroke-opacity="0.85"/>
<path d="M965.4,971.4 971.9,971.4 971.9,1095.2 965.4,1095.2Z" fill="#333333"/>
<path d="M962.5,984 966,984 966,1000 962.5,1000Z" fill="#333333"/>
<line x1="768.6" y1="844.8" x2="1273.9" y2="844.8" stroke="#000" stroke-width="2.8"/>
<line x1="768.6" y1="1177.3" x2="1273.9" y2="1177.3" stroke="#000" stroke-width="2.8"/>
<line x1="770" y1="843.4" x2="770" y2="1178.7" stroke="#000" stroke-width="2.8"/>
<line x1="1272.5" y1="846.0" x2="1272.5" y2="1176.1" stroke="#d11a1a" stroke-width="2.8"/>
<line x1="776.8" y1="1177.3" x2="776.8" y2="1189.9" stroke="#000" stroke-width="2.6"/>
<text x="776.8" y="1213.1" text-anchor="middle" class="tk">3.0</text>
<line x1="793.1" y1="1177.3" x2="793.1" y2="1184.3" stroke="#000" stroke-width="2.2"/>
<line x1="809.3" y1="1177.3" x2="809.3" y2="1184.3" stroke="#000" stroke-width="2.2"/>
<line x1="825.6" y1="1177.3" x2="825.6" y2="1184.3" stroke="#000" stroke-width="2.2"/>
<line x1="841.8" y1="1177.3" x2="841.8" y2="1184.3" stroke="#000" stroke-width="2.2"/>
<line x1="858.1" y1="1177.3" x2="858.1" y2="1189.9" stroke="#000" stroke-width="2.6"/>
<text x="858.1" y="1213.1" text-anchor="middle" class="tk">3.5</text>
<line x1="874.4" y1="1177.3" x2="874.4" y2="1184.3" stroke="#000" stroke-width="2.2"/>
<line x1="890.6" y1="1177.3" x2="890.6" y2="1184.3" stroke="#000" stroke-width="2.2"/>
<line x1="906.9" y1="1177.3" x2="906.9" y2="1184.3" stroke="#000" stroke-width="2.2"/>
<line x1="923.1" y1="1177.3" x2="923.1" y2="1184.3" stroke="#000" stroke-width="2.2"/>
<line x1="939.4" y1="1177.3" x2="939.4" y2="1189.9" stroke="#000" stroke-width="2.6"/>
<text x="939.4" y="1213.1" text-anchor="middle" class="tk">4.0</text>
<line x1="955.7" y1="1177.3" x2="955.7" y2="1184.3" stroke="#000" stroke-width="2.2"/>
<line x1="971.9" y1="1177.3" x2="971.9" y2="1184.3" stroke="#000" stroke-width="2.2"/>
<line x1="988.2" y1="1177.3" x2="988.2" y2="1184.3" stroke="#000" stroke-width="2.2"/>
<line x1="1004.4" y1="1177.3" x2="1004.4" y2="1184.3" stroke="#000" stroke-width="2.2"/>
<line x1="1020.7" y1="1177.3" x2="1020.7" y2="1189.9" stroke="#000" stroke-width="2.6"/>
<text x="1020.7" y="1213.1" text-anchor="middle" class="tk">4.5</text>
<line x1="1037.0" y1="1177.3" x2="1037.0" y2="1184.3" stroke="#000" stroke-width="2.2"/>
<line x1="1053.2" y1="1177.3" x2="1053.2" y2="1184.3" stroke="#000" stroke-width="2.2"/>
<line x1="1069.5" y1="1177.3" x2="1069.5" y2="1184.3" stroke="#000" stroke-width="2.2"/>
<line x1="1085.7" y1="1177.3" x2="1085.7" y2="1184.3" stroke="#000" stroke-width="2.2"/>
<line x1="1102.0" y1="1177.3" x2="1102.0" y2="1189.9" stroke="#000" stroke-width="2.6"/>
<text x="1102.0" y="1213.1" text-anchor="middle" class="tk">5.0</text>
<line x1="1118.3" y1="1177.3" x2="1118.3" y2="1184.3" stroke="#000" stroke-width="2.2"/>
<line x1="1134.5" y1="1177.3" x2="1134.5" y2="1184.3" stroke="#000" stroke-width="2.2"/>
<line x1="1150.8" y1="1177.3" x2="1150.8" y2="1184.3" stroke="#000" stroke-width="2.2"/>
<line x1="1167.0" y1="1177.3" x2="1167.0" y2="1184.3" stroke="#000" stroke-width="2.2"/>
<line x1="1183.3" y1="1177.3" x2="1183.3" y2="1189.9" stroke="#000" stroke-width="2.6"/>
<text x="1183.3" y="1213.1" text-anchor="middle" class="tk">5.5</text>
<line x1="1199.6" y1="1177.3" x2="1199.6" y2="1184.3" stroke="#000" stroke-width="2.2"/>
<line x1="1215.8" y1="1177.3" x2="1215.8" y2="1184.3" stroke="#000" stroke-width="2.2"/>
<line x1="1232.1" y1="1177.3" x2="1232.1" y2="1184.3" stroke="#000" stroke-width="2.2"/>
<line x1="1248.3" y1="1177.3" x2="1248.3" y2="1184.3" stroke="#000" stroke-width="2.2"/>
<line x1="1264.6" y1="1177.3" x2="1264.6" y2="1189.9" stroke="#000" stroke-width="2.6"/>
<text x="1264.6" y="1213.1" text-anchor="middle" class="tk">6.0</text>
<line x1="757.4" y1="1169.6" x2="770" y2="1169.6" stroke="#000" stroke-width="2.6"/>
<text x="752.0" y="1175.3" text-anchor="end" class="tk">4</text>
<line x1="763.0" y1="1159.0" x2="770" y2="1159.0" stroke="#000" stroke-width="2.2"/>
<line x1="763.0" y1="1148.5" x2="770" y2="1148.5" stroke="#000" stroke-width="2.2"/>
<line x1="763.0" y1="1137.9" x2="770" y2="1137.9" stroke="#000" stroke-width="2.2"/>
<line x1="763.0" y1="1127.3" x2="770" y2="1127.3" stroke="#000" stroke-width="2.2"/>
<line x1="757.4" y1="1116.8" x2="770" y2="1116.8" stroke="#000" stroke-width="2.6"/>
<text x="752.0" y="1122.5" text-anchor="end" class="tk">5</text>
<line x1="763.0" y1="1106.2" x2="770" y2="1106.2" stroke="#000" stroke-width="2.2"/>
<line x1="763.0" y1="1095.6" x2="770" y2="1095.6" stroke="#000" stroke-width="2.2"/>
<line x1="763.0" y1="1085.1" x2="770" y2="1085.1" stroke="#000" stroke-width="2.2"/>
<line x1="763.0" y1="1074.5" x2="770" y2="1074.5" stroke="#000" stroke-width="2.2"/>
<line x1="757.4" y1="1063.9" x2="770" y2="1063.9" stroke="#000" stroke-width="2.6"/>
<text x="752.0" y="1069.6" text-anchor="end" class="tk">6</text>
<line x1="763.0" y1="1053.4" x2="770" y2="1053.4" stroke="#000" stroke-width="2.2"/>
<line x1="763.0" y1="1042.8" x2="770" y2="1042.8" stroke="#000" stroke-width="2.2"/>
<line x1="763.0" y1="1032.2" x2="770" y2="1032.2" stroke="#000" stroke-width="2.2"/>
<line x1="763.0" y1="1021.7" x2="770" y2="1021.7" stroke="#000" stroke-width="2.2"/>
<line x1="757.4" y1="1011.1" x2="770" y2="1011.1" stroke="#000" stroke-width="2.6"/>
<text x="752.0" y="1016.8" text-anchor="end" class="tk">7</text>
<line x1="763.0" y1="1000.5" x2="770" y2="1000.5" stroke="#000" stroke-width="2.2"/>
<line x1="763.0" y1="990.0" x2="770" y2="990.0" stroke="#000" stroke-width="2.2"/>
<line x1="763.0" y1="979.4" x2="770" y2="979.4" stroke="#000" stroke-width="2.2"/>
<line x1="763.0" y1="968.8" x2="770" y2="968.8" stroke="#000" stroke-width="2.2"/>
<line x1="757.4" y1="958.3" x2="770" y2="958.3" stroke="#000" stroke-width="2.6"/>
<text x="752.0" y="964.0" text-anchor="end" class="tk">8</text>
<line x1="763.0" y1="947.7" x2="770" y2="947.7" stroke="#000" stroke-width="2.2"/>
<line x1="763.0" y1="937.1" x2="770" y2="937.1" stroke="#000" stroke-width="2.2"/>
<line x1="763.0" y1="926.6" x2="770" y2="926.6" stroke="#000" stroke-width="2.2"/>
<line x1="763.0" y1="916.0" x2="770" y2="916.0" stroke="#000" stroke-width="2.2"/>
<line x1="757.4" y1="905.4" x2="770" y2="905.4" stroke="#000" stroke-width="2.6"/>
<text x="752.0" y="911.1" text-anchor="end" class="tk">9</text>
<line x1="763.0" y1="894.9" x2="770" y2="894.9" stroke="#000" stroke-width="2.2"/>
<line x1="763.0" y1="884.3" x2="770" y2="884.3" stroke="#000" stroke-width="2.2"/>
<line x1="763.0" y1="873.7" x2="770" y2="873.7" stroke="#000" stroke-width="2.2"/>
<line x1="763.0" y1="863.2" x2="770" y2="863.2" stroke="#000" stroke-width="2.2"/>
<line x1="757.4" y1="852.6" x2="770" y2="852.6" stroke="#000" stroke-width="2.6"/>
<text x="752.0" y="858.3" text-anchor="end" class="tk">10</text>
<line x1="1272.5" y1="1169.6" x2="1285.1" y2="1169.6" stroke="#d11a1a" stroke-width="2.6"/>
<text x="1291.5" y="1175.3" class="tk rd">10</text>
<line x1="1272.5" y1="1106.2" x2="1285.1" y2="1106.2" stroke="#d11a1a" stroke-width="2.6"/>
<text x="1291.5" y="1111.9" class="tk rd">20</text>
<line x1="1272.5" y1="1042.8" x2="1285.1" y2="1042.8" stroke="#d11a1a" stroke-width="2.6"/>
<text x="1291.5" y="1048.5" class="tk rd">30</text>
<line x1="1272.5" y1="979.4" x2="1285.1" y2="979.4" stroke="#d11a1a" stroke-width="2.6"/>
<text x="1291.5" y="985.1" class="tk rd">40</text>
<line x1="1272.5" y1="916.0" x2="1285.1" y2="916.0" stroke="#d11a1a" stroke-width="2.6"/>
<text x="1291.5" y="921.7" class="tk rd">50</text>
<line x1="1272.5" y1="852.6" x2="1285.1" y2="852.6" stroke="#d11a1a" stroke-width="2.6"/>
<text x="1291.5" y="858.3" class="tk rd">60</text>
<text x="1021.2" y="1233.8" text-anchor="middle" class="al">Flight altitude (km)</text>
<text transform="translate(713.1,1011.0) rotate(-90)" text-anchor="middle" class="al">Plume height (km)</text>
<text transform="translate(1328.2,1011.0) rotate(90)" text-anchor="middle" class="al rd">Plume age (h)</text>
<text x="683" y="862.5" class="pl">(f)</text>
<text x="779.6" y="868" class="ti" xml:space="preserve">Flight 30 July - Left Hand</text>
<text x="790" y="906" class="sb" textLength="55" lengthAdjust="spacingAndGlyphs">(Aged)</text></g>
<g id="pg"><path d="M239,1382 245,1382 245,1578 239,1578Z" fill="#d42418" fill-opacity="0.9"/>
<path d="M235.2,1382.8h13M241.7,1376.3v13M234.9,1384.5h13M241.4,1378v13M235,1387.2h13M241.5,1380.7v13M235.6,1388.3h13M242.1,1381.8v13M234.8,1390.3h13M241.3,1383.8v13M235.3,1392.6h13M241.8,1386.1v13M235.5,1394.4h13M242,1387.9v13M236.4,1395.8h13M242.9,1389.3v13M235.2,1397.3h13M241.7,1390.8v13M235.7,1399.8h13M242.2,1393.3v13M235.6,1400.8h13M242.1,1394.3v13M235.8,1403h13M242.3,1396.5v13M235,1405h13M241.5,1398.5v13M236.5,1406.9h13M243,1400.4v13M236.4,1408.8h13M242.9,1402.3v13M236.3,1410.2h13M242.8,1403.7v13M235,1412h13M241.5,1405.5v13M235.2,1413.5h13M241.7,1407v13M236.4,1416h13M242.9,1409.5v13M236,1417.7h13M242.5,1411.2v13M235.5,1419.6h13M242,1413.1v13M235.7,1421h13M242.2,1414.5v13M236.3,1422.8h13M242.8,1416.3v13M235.8,1424.4h13M242.3,1417.9v13M235.5,1426.3h13M242,1419.8v13M234.7,1428.5h13M241.2,1422v13M235.7,1429.7h13M242.2,1423.2v13M236.1,1432h13M242.6,1425.5v13M234.6,1433.8h13M241.1,1427.3v13M236.3,1435.1h13M242.8,1428.6v13M235.9,1437.5h13M242.4,1431v13M234.6,1439.4h13M241.1,1432.9v13M235.6,1441.1h13M242.1,1434.6v13M235.7,1442.8h13M242.2,1436.3v13M235.9,1444.9h13M242.4,1438.4v13M235.5,1445.8h13M242,1439.3v13M235.7,1448.1h13M242.2,1441.6v13M235.8,1449.7h13M242.3,1443.2v13M234.8,1451.4h13M241.3,1444.9v13M234.8,1453.2h13M241.3,1446.7v13M235.7,1455.4h13M242.2,1448.9v13M236.4,1457.2h13M242.9,1450.7v13M236.5,1458.5h13M243,1452v13M236.3,1460.5h13M242.8,1454v13M235.4,1462.1h13M241.9,1455.6v13M235.2,1464.7h13M241.7,1458.2v13M236.3,1465.7h13M242.8,1459.2v13M235.4,1468.3h13M241.9,1461.8v13M235.9,1469.7h13M242.4,1463.2v13M235.4,1471.4h13M241.9,1464.9v13M235.4,1473h13M241.9,1466.5v13M235.2,1475.2h13M241.7,1468.7v13M235.3,1477.1h13M241.8,1470.6v13M235.8,1478.1h13M242.3,1471.6v13M236,1480h13M242.5,1473.5v13M236.2,1482.6h13M242.7,1476.1v13M235.6,1483.8h13M242.1,1477.3v13M235.2,1486h13M241.7,1479.5v13M236.1,1488h13M242.6,1481.5v13M235.9,1489.8h13M242.4,1483.3v13M236,1491.3h13M242.5,1484.8v13M236.4,1492.9h13M242.9,1486.4v13M236,1494.8h13M242.5,1488.3v13M235.1,1497.1h13M241.6,1490.6v13M235,1498.1h13M241.5,1491.6v13M234.6,1500h13M241.1,1493.5v13M236.3,1501.8h13M242.8,1495.3v13M236.3,1503.8h13M242.8,1497.3v13M236.1,1506.1h13M242.6,1499.6v13M234.8,1506.9h13M241.3,1500.4v13M235.4,1508.8h13M241.9,1502.3v13M235.6,1511.1h13M242.1,1504.6v13M235,1512.3h13M241.5,1505.8v13M236,1514.6h13M242.5,1508.1v13M235.3,1516.6h13M241.8,1510.1v13M234.8,1517.7h13M241.3,1511.2v13M234.7,1519.7h13M241.2,1513.2v13M235.6,1521.7h13M242.1,1515.2v13M235.7,1523.6h13M242.2,1517.1v13M236.4,1525h13M242.9,1518.5v13M234.9,1527.2h13M241.4,1520.7v13M235.6,1529h13M242.1,1522.5v13M235.9,1530.6h13M242.4,1524.1v13M235.4,1533.1h13M241.9,1526.6v13M235.4,1534.7h13M241.9,1528.2v13M236.5,1536.5h13M243,1530v13M235.6,1538.1h13M242.1,1531.6v13M235.8,1539.5h13M242.3,1533v13M235.4,1542.1h13M241.9,1535.6v13M234.5,1543.6h13M241,1537.1v13M235.9,1544.8h13M242.4,1538.3v13M236.3,1547.4h13M242.8,1540.9v13M235.7,1548.8h13M242.2,1542.3v13M234.9,1550.9h13M241.4,1544.4v13M235.7,1552.2h13M242.2,1545.7v13M235.8,1554.4h13M242.3,1547.9v13M235.1,1555.7h13M241.6,1549.2v13M235.3,1557.4h13M241.8,1550.9v13M235.2,1559.8h13M241.7,1553.3v13M235.8,1561.8h13M242.3,1555.3v13M236.2,1563.5h13M242.7,1557v13M235.1,1564.7h13M241.6,1558.2v13M235.6,1567.2h13M242.1,1560.7v13M236.5,1568.7h13M243,1562.2v13M235.2,1569.9h13M241.7,1563.4v13M236,1571.9h13M242.5,1565.4v13M236.3,1574h13M242.8,1567.5v13M235.3,1575.3h13M241.8,1568.8v13M235.3,1577.4h13M241.8,1570.9v13M234.7,1578.8h13M241.2,1572.3v13" fill="none" stroke="#d42418" stroke-width="1.3" stroke-opacity="0.8"/>
<rect x="235.5" y="1463.5" width="10.5" height="11.5" fill="#333333"/>
<rect x="240.5" y="1460.5" width="7.5" height="11.5" fill="#333333"/>
<rect x="244" y="1465" width="6.5" height="6.5" fill="#333333"/>
<rect x="438" y="1367" width="8" height="7.5" fill="#333333"/>
<rect x="493.5" y="1337.5" width="7.5" height="6.5" fill="#333333"/>
<rect x="513.5" y="1328.5" width="8" height="7.5" fill="#333333"/>
<path d="M437,1532.5 447,1532.5 447,1542.5 437,1542.5Z" fill="#d42418" fill-opacity="1"/>
<path d="M437.5,1530h9M442,1525.5v9M437.5,1543h9M442,1538.5v9" fill="none" stroke="#d42418" stroke-width="1.6" stroke-opacity="0.9"/>
<path d="M492.2,1493.2 501.8,1493.2 501.8,1502.8 492.2,1502.8Z" fill="#d42418" fill-opacity="1"/>
<path d="M492.2,1499.8h9.6M497,1495v9.6M492.2,1501.8h9.6M497,1497v9.6M492.2,1503.8h9.6M497,1499v9.6M492.2,1504.2h9.6M497,1499.4v9.6" fill="none" stroke="#d42418" stroke-width="1.2" stroke-opacity="0.8"/>
<path d="M492,1496h10M497,1491v10M492,1508h10M497,1503v10" fill="none" stroke="#d42418" stroke-width="1.6" stroke-opacity="0.9"/>
<path d="M512.5,1522.5 522.5,1522.5 522.5,1532.5 512.5,1532.5Z" fill="#d42418" fill-opacity="1"/>
<path d="M512.5,1523h10M517.5,1518v10M512.5,1532h10M517.5,1527v10" fill="none" stroke="#d42418" stroke-width="1.6" stroke-opacity="0.9"/>
<line x1="91.6" y1="1264" x2="586.9" y2="1264" stroke="#000" stroke-width="2.8"/>
<line x1="91.6" y1="1596.5" x2="586.9" y2="1596.5" stroke="#000" stroke-width="2.8"/>
<line x1="93" y1="1262.6" x2="93" y2="1597.9" stroke="#000" stroke-width="2.8"/>
<line x1="585.5" y1="1265.2" x2="585.5" y2="1595.3" stroke="#d11a1a" stroke-width="2.8"/>
<line x1="99.8" y1="1596.5" x2="99.8" y2="1609.1" stroke="#000" stroke-width="2.6"/>
<text x="99.8" y="1632.3" text-anchor="middle" class="tk">3.0</text>
<line x1="115.7" y1="1596.5" x2="115.7" y2="1603.5" stroke="#000" stroke-width="2.2"/>
<line x1="131.7" y1="1596.5" x2="131.7" y2="1603.5" stroke="#000" stroke-width="2.2"/>
<line x1="147.6" y1="1596.5" x2="147.6" y2="1603.5" stroke="#000" stroke-width="2.2"/>
<line x1="163.6" y1="1596.5" x2="163.6" y2="1603.5" stroke="#000" stroke-width="2.2"/>
<line x1="179.5" y1="1596.5" x2="179.5" y2="1609.1" stroke="#000" stroke-width="2.6"/>
<text x="179.5" y="1632.3" text-anchor="middle" class="tk">3.5</text>
<line x1="195.4" y1="1596.5" x2="195.4" y2="1603.5" stroke="#000" stroke-width="2.2"/>
<line x1="211.4" y1="1596.5" x2="211.4" y2="1603.5" stroke="#000" stroke-width="2.2"/>
<line x1="227.3" y1="1596.5" x2="227.3" y2="1603.5" stroke="#000" stroke-width="2.2"/>
<line x1="243.3" y1="1596.5" x2="243.3" y2="1603.5" stroke="#000" stroke-width="2.2"/>
<line x1="259.2" y1="1596.5" x2="259.2" y2="1609.1" stroke="#000" stroke-width="2.6"/>
<text x="259.2" y="1632.3" text-anchor="middle" class="tk">4.0</text>
<line x1="275.1" y1="1596.5" x2="275.1" y2="1603.5" stroke="#000" stroke-width="2.2"/>
<line x1="291.1" y1="1596.5" x2="291.1" y2="1603.5" stroke="#000" stroke-width="2.2"/>
<line x1="307.0" y1="1596.5" x2="307.0" y2="1603.5" stroke="#000" stroke-width="2.2"/>
<line x1="323.0" y1="1596.5" x2="323.0" y2="1603.5" stroke="#000" stroke-width="2.2"/>
<line x1="338.9" y1="1596.5" x2="338.9" y2="1609.1" stroke="#000" stroke-width="2.6"/>
<text x="338.9" y="1632.3" text-anchor="middle" class="tk">4.5</text>
<line x1="354.8" y1="1596.5" x2="354.8" y2="1603.5" stroke="#000" stroke-width="2.2"/>
<line x1="370.8" y1="1596.5" x2="370.8" y2="1603.5" stroke="#000" stroke-width="2.2"/>
<line x1="386.7" y1="1596.5" x2="386.7" y2="1603.5" stroke="#000" stroke-width="2.2"/>
<line x1="402.7" y1="1596.5" x2="402.7" y2="1603.5" stroke="#000" stroke-width="2.2"/>
<line x1="418.6" y1="1596.5" x2="418.6" y2="1609.1" stroke="#000" stroke-width="2.6"/>
<text x="418.6" y="1632.3" text-anchor="middle" class="tk">5.0</text>
<line x1="434.5" y1="1596.5" x2="434.5" y2="1603.5" stroke="#000" stroke-width="2.2"/>
<line x1="450.5" y1="1596.5" x2="450.5" y2="1603.5" stroke="#000" stroke-width="2.2"/>
<line x1="466.4" y1="1596.5" x2="466.4" y2="1603.5" stroke="#000" stroke-width="2.2"/>
<line x1="482.4" y1="1596.5" x2="482.4" y2="1603.5" stroke="#000" stroke-width="2.2"/>
<line x1="498.3" y1="1596.5" x2="498.3" y2="1609.1" stroke="#000" stroke-width="2.6"/>
<text x="498.3" y="1632.3" text-anchor="middle" class="tk">5.5</text>
<line x1="514.2" y1="1596.5" x2="514.2" y2="1603.5" stroke="#000" stroke-width="2.2"/>
<line x1="530.2" y1="1596.5" x2="530.2" y2="1603.5" stroke="#000" stroke-width="2.2"/>
<line x1="546.1" y1="1596.5" x2="546.1" y2="1603.5" stroke="#000" stroke-width="2.2"/>
<line x1="562.1" y1="1596.5" x2="562.1" y2="1603.5" stroke="#000" stroke-width="2.2"/>
<line x1="578.0" y1="1596.5" x2="578.0" y2="1609.1" stroke="#000" stroke-width="2.6"/>
<text x="578.0" y="1632.3" text-anchor="middle" class="tk">6.0</text>
<line x1="80.4" y1="1588.5" x2="93" y2="1588.5" stroke="#000" stroke-width="2.6"/>
<text x="75.0" y="1594.2" text-anchor="end" class="tk">4</text>
<line x1="86.0" y1="1580.6" x2="93" y2="1580.6" stroke="#000" stroke-width="2.2"/>
<line x1="86.0" y1="1572.7" x2="93" y2="1572.7" stroke="#000" stroke-width="2.2"/>
<line x1="86.0" y1="1564.7" x2="93" y2="1564.7" stroke="#000" stroke-width="2.2"/>
<line x1="86.0" y1="1556.8" x2="93" y2="1556.8" stroke="#000" stroke-width="2.2"/>
<line x1="86.0" y1="1548.9" x2="93" y2="1548.9" stroke="#000" stroke-width="2.2"/>
<line x1="86.0" y1="1541.0" x2="93" y2="1541.0" stroke="#000" stroke-width="2.2"/>
<line x1="86.0" y1="1533.0" x2="93" y2="1533.0" stroke="#000" stroke-width="2.2"/>
<line x1="86.0" y1="1525.1" x2="93" y2="1525.1" stroke="#000" stroke-width="2.2"/>
<line x1="86.0" y1="1517.2" x2="93" y2="1517.2" stroke="#000" stroke-width="2.2"/>
<line x1="80.4" y1="1509.2" x2="93" y2="1509.2" stroke="#000" stroke-width="2.6"/>
<text x="75.0" y="1515.0" text-anchor="end" class="tk">6</text>
<line x1="86.0" y1="1501.3" x2="93" y2="1501.3" stroke="#000" stroke-width="2.2"/>
<line x1="86.0" y1="1493.4" x2="93" y2="1493.4" stroke="#000" stroke-width="2.2"/>
<line x1="86.0" y1="1485.5" x2="93" y2="1485.5" stroke="#000" stroke-width="2.2"/>
<line x1="86.0" y1="1477.5" x2="93" y2="1477.5" stroke="#000" stroke-width="2.2"/>
<line x1="86.0" y1="1469.6" x2="93" y2="1469.6" stroke="#000" stroke-width="2.2"/>
<line x1="86.0" y1="1461.7" x2="93" y2="1461.7" stroke="#000" stroke-width="2.2"/>
<line x1="86.0" y1="1453.8" x2="93" y2="1453.8" stroke="#000" stroke-width="2.2"/>
<line x1="86.0" y1="1445.8" x2="93" y2="1445.8" stroke="#000" stroke-width="2.2"/>
<line x1="86.0" y1="1437.9" x2="93" y2="1437.9" stroke="#000" stroke-width="2.2"/>
<line x1="80.4" y1="1430.0" x2="93" y2="1430.0" stroke="#000" stroke-width="2.6"/>
<text x="75.0" y="1435.7" text-anchor="end" class="tk">8</text>
<line x1="86.0" y1="1422.1" x2="93" y2="1422.1" stroke="#000" stroke-width="2.2"/>
<line x1="86.0" y1="1414.2" x2="93" y2="1414.2" stroke="#000" stroke-width="2.2"/>
<line x1="86.0" y1="1406.2" x2="93" y2="1406.2" stroke="#000" stroke-width="2.2"/>
<line x1="86.0" y1="1398.3" x2="93" y2="1398.3" stroke="#000" stroke-width="2.2"/>
<line x1="86.0" y1="1390.4" x2="93" y2="1390.4" stroke="#000" stroke-width="2.2"/>
<line x1="86.0" y1="1382.5" x2="93" y2="1382.5" stroke="#000" stroke-width="2.2"/>
<line x1="86.0" y1="1374.5" x2="93" y2="1374.5" stroke="#000" stroke-width="2.2"/>
<line x1="86.0" y1="1366.6" x2="93" y2="1366.6" stroke="#000" stroke-width="2.2"/>
<line x1="86.0" y1="1358.7" x2="93" y2="1358.7" stroke="#000" stroke-width="2.2"/>
<line x1="80.4" y1="1350.8" x2="93" y2="1350.8" stroke="#000" stroke-width="2.6"/>
<text x="75.0" y="1356.5" text-anchor="end" class="tk">10</text>
<line x1="86.0" y1="1342.8" x2="93" y2="1342.8" stroke="#000" stroke-width="2.2"/>
<line x1="86.0" y1="1334.9" x2="93" y2="1334.9" stroke="#000" stroke-width="2.2"/>
<line x1="86.0" y1="1327.0" x2="93" y2="1327.0" stroke="#000" stroke-width="2.2"/>
<line x1="86.0" y1="1319.0" x2="93" y2="1319.0" stroke="#000" stroke-width="2.2"/>
<line x1="86.0" y1="1311.1" x2="93" y2="1311.1" stroke="#000" stroke-width="2.2"/>
<line x1="86.0" y1="1303.2" x2="93" y2="1303.2" stroke="#000" stroke-width="2.2"/>
<line x1="86.0" y1="1295.3" x2="93" y2="1295.3" stroke="#000" stroke-width="2.2"/>
<line x1="86.0" y1="1287.3" x2="93" y2="1287.3" stroke="#000" stroke-width="2.2"/>
<line x1="86.0" y1="1279.4" x2="93" y2="1279.4" stroke="#000" stroke-width="2.2"/>
<line x1="80.4" y1="1271.5" x2="93" y2="1271.5" stroke="#000" stroke-width="2.6"/>
<text x="75.0" y="1277.2" text-anchor="end" class="tk">12</text>
<line x1="585.5" y1="1588.5" x2="598.1" y2="1588.5" stroke="#d11a1a" stroke-width="2.6"/>
<text x="604.5" y="1594.2" class="tk rd">0.0</text>
<line x1="585.5" y1="1535.7" x2="598.1" y2="1535.7" stroke="#d11a1a" stroke-width="2.6"/>
<text x="604.5" y="1541.4" class="tk rd">0.5</text>
<line x1="585.5" y1="1482.8" x2="598.1" y2="1482.8" stroke="#d11a1a" stroke-width="2.6"/>
<text x="604.5" y="1488.5" class="tk rd">1.0</text>
<line x1="585.5" y1="1430.0" x2="598.1" y2="1430.0" stroke="#d11a1a" stroke-width="2.6"/>
<text x="604.5" y="1435.7" class="tk rd">1.5</text>
<line x1="585.5" y1="1377.2" x2="598.1" y2="1377.2" stroke="#d11a1a" stroke-width="2.6"/>
<text x="604.5" y="1382.9" class="tk rd">2.0</text>
<line x1="585.5" y1="1324.3" x2="598.1" y2="1324.3" stroke="#d11a1a" stroke-width="2.6"/>
<text x="604.5" y="1330.0" class="tk rd">2.5</text>
<line x1="585.5" y1="1271.5" x2="598.1" y2="1271.5" stroke="#d11a1a" stroke-width="2.6"/>
<text x="604.5" y="1277.2" class="tk rd">3.0</text>
<text x="339.2" y="1653.0" text-anchor="middle" class="al">Flight altitude (km)</text>
<text transform="translate(37,1430.2) rotate(-90)" text-anchor="middle" class="al">Plume height (km)</text>
<text transform="translate(650.5,1430.2) rotate(90)" text-anchor="middle" class="al rd">Plume age (h)</text>
<text x="4.4" y="1282.5" class="pl">(g)</text>
<text x="109.6" y="1295.6" class="ti" textLength="222" lengthAdjust="spacingAndGlyphs" xml:space="preserve">Flight 2 August - Ridgetop</text>
<text x="101" y="1325" class="sb" textLength="56.5" lengthAdjust="spacingAndGlyphs">(Fresh)</text></g>
<g id="ph"><path d="M882.5,1410 891.5,1410 891.5,1575 882.5,1575Z" fill="#d42418" fill-opacity="1"/>
<path d="M881.1,1414.7h11.4M886.8,1409v11.4M880.6,1416.8h11.4M886.3,1411.1v11.4M880.8,1420.1h11.4M886.5,1414.4v11.4M880.7,1422.4h11.4M886.4,1416.7v11.4M881,1425.4h11.4M886.7,1419.7v11.4M881.3,1427.7h11.4M887,1422v11.4M881.9,1430.3h11.4M887.6,1424.6v11.4M881.8,1432h11.4M887.5,1426.3v11.4M880.9,1435.2h11.4M886.6,1429.5v11.4M882.1,1438.1h11.4M887.8,1432.4v11.4M881.8,1440.3h11.4M887.5,1434.6v11.4M881.9,1443.5h11.4M887.6,1437.8v11.4M880.4,1445.9h11.4M886.1,1440.2v11.4M881.4,1448.5h11.4M887.1,1442.8v11.4M882,1450.6h11.4M887.7,1444.9v11.4M880.5,1454.2h11.4M886.2,1448.5v11.4M881.9,1455.7h11.4M887.6,1450v11.4M882,1458.6h11.4M887.7,1452.9v11.4M882.2,1462h11.4M887.9,1456.3v11.4M881.9,1464.5h11.4M887.6,1458.8v11.4M882.3,1466.4h11.4M888,1460.7v11.4M880.9,1469.2h11.4M886.6,1463.5v11.4M880.7,1471.1h11.4M886.4,1465.4v11.4M880.6,1473.9h11.4M886.3,1468.2v11.4M880.4,1476.1h11.4M886.1,1470.4v11.4M882,1479.5h11.4M887.7,1473.8v11.4M881.6,1482.6h11.4M887.3,1476.9v11.4M881.8,1485.4h11.4M887.5,1479.7v11.4M881.2,1488h11.4M886.9,1482.3v11.4M882,1489.1h11.4M887.7,1483.4v11.4M880.4,1492.8h11.4M886.1,1487.1v11.4M882,1495.4h11.4M887.7,1489.7v11.4M880.8,1498h11.4M886.5,1492.3v11.4M882.1,1500h11.4M887.8,1494.3v11.4M880.4,1503.2h11.4M886.1,1497.5v11.4M881,1505.7h11.4M886.7,1500v11.4M881.4,1507.8h11.4M887.1,1502.1v11.4M882.1,1510.6h11.4M887.8,1504.9v11.4M881.9,1512.5h11.4M887.6,1506.8v11.4M881.4,1515.1h11.4M887.1,1509.4v11.4M881.6,1518.9h11.4M887.3,1513.2v11.4M880.9,1521.7h11.4M886.6,1516v11.4M882,1523.2h11.4M887.7,1517.5v11.4M881.4,1526.3h11.4M887.1,1520.6v11.4M881.1,1528.1h11.4M886.8,1522.4v11.4M882.1,1531.7h11.4M887.8,1526v11.4M881.6,1534.6h11.4M887.3,1528.9v11.4M881.9,1536.1h11.4M887.6,1530.4v11.4M880.4,1540.1h11.4M886.1,1534.4v11.4M880.3,1541.4h11.4M886,1535.7v11.4M881.3,1543.8h11.4M887,1538.1v11.4M881.5,1547.5h11.4M887.2,1541.8v11.4M880.7,1549h11.4M886.4,1543.3v11.4M880.5,1552.1h11.4M886.2,1546.4v11.4M881.1,1554.4h11.4M886.8,1548.7v11.4M881.3,1557.4h11.4M887,1551.7v11.4M881.7,1559.7h11.4M887.4,1554v11.4M880.3,1562.6h11.4M886,1556.9v11.4M881.8,1566.1h11.4M887.5,1560.4v11.4M882.1,1568.1h11.4M887.8,1562.4v11.4M881.8,1570.2h11.4M887.5,1564.5v11.4M880.5,1569.9h11.4M886.2,1564.2v11.4" fill="none" stroke="#d42418" stroke-width="1.1" stroke-opacity="0.7"/>
<path d="M880.5,1408.2h14M887.5,1401.2v14M880.9,1410.6h14M887.9,1403.6v14M880.6,1412.3h14M887.6,1405.3v14M881,1414.3h14M888,1407.3v14M880.1,1416.1h14M887.1,1409.1v14M878.9,1417.5h14M885.9,1410.5v14M878.9,1418.8h14M885.9,1411.8v14M880.6,1421.8h14M887.6,1414.8v14M880.3,1422.7h14M887.3,1415.7v14M879.1,1425.2h14M886.1,1418.2v14M879.9,1426.1h14M886.9,1419.1v14M880.1,1428h14M887.1,1421v14M881.2,1429.6h14M888.2,1422.6v14M880.3,1432.5h14M887.3,1425.5v14M880.7,1433.9h14M887.7,1426.9v14M880,1435.7h14M887,1428.7v14M881.1,1437.3h14M888.1,1430.3v14M880.3,1439.3h14M887.3,1432.3v14M879.2,1441.6h14M886.2,1434.6v14M880,1442.7h14M887,1435.7v14M880.3,1444.9h14M887.3,1437.9v14M879,1446.5h14M886,1439.5v14M881,1447.8h14M888,1440.8v14M879.9,1449.4h14M886.9,1442.4v14M878.9,1452.4h14M885.9,1445.4v14M879.2,1453.5h14M886.2,1446.5v14M880.1,1455.4h14M887.1,1448.4v14M880.7,1457.1h14M887.7,1450.1v14M880.1,1458.6h14M887.1,1451.6v14M879.5,1460.8h14M886.5,1453.8v14M881.1,1463h14M888.1,1456v14M880.4,1464.8h14M887.4,1457.8v14M879.4,1466.5h14M886.4,1459.5v14M880.4,1468.2h14M887.4,1461.2v14M880.1,1469.9h14M887.1,1462.9v14M879.3,1471.3h14M886.3,1464.3v14M879.8,1473.3h14M886.8,1466.3v14M879.9,1474.6h14M886.9,1467.6v14M881,1477.4h14M888,1470.4v14M880.4,1479.3h14M887.4,1472.3v14M880.1,1480.8h14M887.1,1473.8v14M880.6,1482.6h14M887.6,1475.6v14M879.8,1484h14M886.8,1477v14M879.8,1486.1h14M886.8,1479.1v14M880.7,1487.4h14M887.7,1480.4v14M879.5,1490h14M886.5,1483v14M881,1491.5h14M888,1484.5v14M879.8,1493.1h14M886.8,1486.1v14M879.7,1495.1h14M886.7,1488.1v14M881.2,1497.2h14M888.2,1490.2v14M879.8,1498.5h14M886.8,1491.5v14M880.1,1500.4h14M887.1,1493.4v14M880.1,1502.7h14M887.1,1495.7v14M879.3,1504.5h14M886.3,1497.5v14M879.8,1505.4h14M886.8,1498.4v14M879.2,1507.2h14M886.2,1500.2v14M879.6,1509h14M886.6,1502v14M879.6,1511.7h14M886.6,1504.7v14M879.4,1512.9h14M886.4,1505.9v14M879.6,1515h14M886.6,1508v14M881.2,1516.3h14M888.2,1509.3v14M879.2,1517.9h14M886.2,1510.9v14M880.9,1520.7h14M887.9,1513.7v14M879.1,1521.8h14M886.1,1514.8v14M880.3,1524.1h14M887.3,1517.1v14M880.7,1526h14M887.7,1519v14M879.2,1526.9h14M886.2,1519.9v14M881.2,1528.7h14M888.2,1521.7v14M878.9,1530.6h14M885.9,1523.6v14M880.4,1532.5h14M887.4,1525.5v14M878.9,1534.7h14M885.9,1527.7v14M880,1536h14M887,1529v14M880.8,1538.5h14M887.8,1531.5v14M878.9,1539.6h14M885.9,1532.6v14M881.2,1541.5h14M888.2,1534.5v14M880.9,1543.4h14M887.9,1536.4v14M880.4,1544.8h14M887.4,1537.8v14M880.1,1547.5h14M887.1,1540.5v14M880.5,1549.2h14M887.5,1542.2v14M880.2,1550.6h14M887.2,1543.6v14M879.5,1552.3h14M886.5,1545.3v14M880.9,1554.1h14M887.9,1547.1v14M881.2,1555.8h14M888.2,1548.8v14M879.8,1558.3h14M886.8,1551.3v14M880.3,1559.7h14M887.3,1552.7v14M879.3,1561.3h14M886.3,1554.3v14M880.3,1563.8h14M887.3,1556.8v14M880.1,1565.1h14M887.1,1558.1v14M881,1567.2h14M888,1560.2v14M880.7,1568.5h14M887.7,1561.5v14M880.4,1570h14M887.4,1563v14M880.8,1573h14M887.8,1566v14" fill="none" stroke="#d42418" stroke-width="1.3" stroke-opacity="0.85"/>
<path d="M893.1,1497.9h9M897.6,1493.4v9M896.1,1497.7h9M900.6,1493.2v9M899.1,1497.6h9M903.6,1493.1v9M902.1,1497.5h9M906.6,1493v9M905.1,1497.4h9M909.6,1492.9v9M908.1,1497.3h9M912.6,1492.8v9M911.1,1497.2h9M915.6,1492.7v9M914.1,1497.1h9M918.6,1492.6v9M917.1,1496.9h9M921.6,1492.4v9M920.1,1496.7h9M924.6,1492.2v9M923.1,1496.5h9M927.6,1492v9M926.1,1496.3h9M930.6,1491.8v9M929.1,1496.1h9M933.6,1491.6v9M932,1495.9h9M936.5,1491.4v9M935,1495.7h9M939.5,1491.2v9M938,1495.5h9M942.5,1491v9M941,1495.3h9M945.5,1490.8v9M944,1495.1h9M948.5,1490.6v9M947,1494.8h9M951.5,1490.3v9M950,1494.5h9M954.5,1490v9M953,1494.1h9M957.5,1489.6v9M955.9,1493.8h9M960.4,1489.3v9M958.9,1493.5h9M963.4,1489v9M961.9,1493.1h9M966.4,1488.6v9M964.9,1492.8h9M969.4,1488.3v9M967.9,1492.4h9M972.4,1487.9v9M970.8,1492.1h9M975.3,1487.6v9M973.8,1491.8h9M978.3,1487.3v9M976.8,1491.4h9M981.3,1486.9v9M979.8,1491.1h9M984.3,1486.6v9M982.4,1489.8h9M986.9,1485.3v9M985,1488.2h9M989.5,1483.7v9M987.6,1486.7h9M992.1,1482.2v9M990.1,1486.1h9M994.6,1481.6v9M992.7,1487.6h9M997.2,1483.1v9M995.3,1489.2h9M999.8,1484.7v9M997.9,1490.7h9M1002.4,1486.2v9M1000.4,1492.3h9M1004.9,1487.8v9M1003,1493.8h9M1007.5,1489.3v9M1005.6,1495.3h9M1010.1,1490.8v9M1008.3,1496.6h9M1012.8,1492.1v9M1011.1,1497.5h9M1015.6,1493v9M1014,1498.4h9M1018.5,1493.9v9M1016.9,1499.2h9M1021.4,1494.7v9M1019.7,1500.1h9M1024.2,1495.6v9M1022.6,1501h9M1027.1,1496.5v9M1025.5,1501.7h9M1030,1497.2v9M1028.5,1501.7h9M1033,1497.2v9M1031.5,1501.7h9M1036,1497.2v9M1034.5,1501.7h9M1039,1497.2v9M1037.5,1501.7h9M1042,1497.2v9M1040.5,1501.7h9M1045,1497.2v9M1043.4,1502.1h9M1047.9,1497.6v9M1045.6,1504.1h9M1050.1,1499.6v9M1047.9,1506.1h9M1052.4,1501.6v9M1050.1,1508h9M1054.6,1503.5v9M1052.4,1510h9M1056.9,1505.5v9M1054.6,1512h9M1059.1,1507.5v9M1056.9,1514h9M1061.4,1509.5v9M1059.8,1514.2h9M1064.3,1509.7v9M1062.8,1514.2h9M1067.3,1509.7v9M1065.8,1514.2h9M1070.3,1509.7v9M1067.9,1514.2h9M1072.4,1509.7v9" fill="none" stroke="#d42418" stroke-width="1.2" stroke-opacity="0.6"/>
<path d="M967.9,1440.1h9M972.4,1435.6v9M970.9,1440.2h9M975.4,1435.7v9M973.9,1440.4h9M978.4,1435.9v9M976.9,1440.5h9M981.4,1436v9M979.9,1440.6h9M984.4,1436.1v9M982.9,1440.7h9M987.4,1436.2v9M985.9,1440.8h9M990.4,1436.3v9M988.9,1440.9h9M993.4,1436.4v9M991.7,1440.5h9M996.2,1436v9M994.1,1438.7h9M998.6,1434.2v9M996.5,1436.8h9M1001,1432.3v9M998.8,1435h9M1003.3,1430.5v9M1001.2,1433.2h9M1005.7,1428.7v9M1003.6,1431.3h9M1008.1,1426.8v9M1005.9,1429.5h9M1010.4,1425v9M1008.1,1427.4h9M1012.6,1422.9v9M1009.9,1425h9M1014.4,1420.5v9M1011.8,1422.7h9M1016.3,1418.2v9M1013.6,1420.3h9M1018.1,1415.8v9M1015.4,1417.9h9M1019.9,1413.4v9M1017.3,1415.6h9M1021.8,1411.1v9M1019.1,1413.2h9M1023.6,1408.7v9M1020.6,1410.6h9M1025.1,1406.1v9M1022,1407.9h9M1026.5,1403.4v9M1023.3,1405.3h9M1027.8,1400.8v9M1024.7,1402.6h9M1029.2,1398.1v9M1026,1399.9h9M1030.5,1395.4v9M1027.4,1397.2h9M1031.9,1392.7v9M1028.7,1394.5h9M1033.2,1390v9M1030.1,1391.9h9M1034.6,1387.4v9M1031.5,1389.2h9M1036,1384.7v9M1033,1386.6h9M1037.5,1382.1v9M1034.5,1384h9M1039,1379.5v9M1036,1381.5h9M1040.5,1377v9M1037.5,1378.9h9M1042,1374.4v9M1039,1376.3h9M1043.5,1371.8v9M1040.5,1373.7h9M1045,1369.2v9M1042,1371.1h9M1046.5,1366.6v9M1043.6,1370.7h9M1048.1,1366.2v9M1045.3,1373.2h9M1049.8,1368.7v9M1046.9,1375.7h9M1051.4,1371.2v9M1048.6,1378.2h9M1053.1,1373.7v9M1050.2,1380.7h9M1054.7,1376.2v9M1051.9,1383.2h9M1056.4,1378.7v9M1053.5,1385.7h9M1058,1381.2v9M1056,1384h9M1060.5,1379.5v9M1058.5,1382.4h9M1063,1377.9v9M1061,1380.7h9M1065.5,1376.2v9M1063.5,1379.1h9M1068,1374.6v9M1065.5,1376.9h9M1070,1372.4v9M1067.1,1374.4h9M1071.6,1369.9v9M1068.8,1371.9h9M1073.3,1367.4v9M1070.4,1369.4h9M1074.9,1364.9v9M1072.1,1366.9h9M1076.6,1362.4v9M1073,1365.5h9M1077.5,1361v9" fill="none" stroke="#d42418" stroke-width="1.2" stroke-opacity="0.6"/>
<path d="M1076,1362 1085,1362 1085,1518 1076,1518Z" fill="#d42418" fill-opacity="1"/>
<path d="M1075.6,1366.2h11.4M1081.3,1360.5v11.4M1074.2,1369.8h11.4M1079.9,1364.1v11.4M1075.7,1372.3h11.4M1081.4,1366.6v11.4M1074.2,1374.2h11.4M1079.9,1368.5v11.4M1073.8,1376.5h11.4M1079.5,1370.8v11.4M1074.1,1379.1h11.4M1079.8,1373.4v11.4M1074.9,1381.5h11.4M1080.6,1375.8v11.4M1075.3,1385.1h11.4M1081,1379.4v11.4M1075.3,1387.9h11.4M1081,1382.2v11.4M1075.8,1390.5h11.4M1081.5,1384.8v11.4M1074.1,1391.9h11.4M1079.8,1386.2v11.4M1075.6,1394.9h11.4M1081.3,1389.2v11.4M1075.2,1398.4h11.4M1080.9,1392.7v11.4M1074.2,1400.8h11.4M1079.9,1395.1v11.4M1075.1,1402.7h11.4M1080.8,1397v11.4M1074.7,1405h11.4M1080.4,1399.3v11.4M1075.6,1407.8h11.4M1081.3,1402.1v11.4M1074.5,1410.4h11.4M1080.2,1404.7v11.4M1074,1412.6h11.4M1079.7,1406.9v11.4M1075.1,1415.6h11.4M1080.8,1409.9v11.4M1075,1418.1h11.4M1080.7,1412.4v11.4M1075.2,1421.7h11.4M1080.9,1416v11.4M1074.3,1424.3h11.4M1080,1418.6v11.4M1074.7,1426.4h11.4M1080.4,1420.7v11.4M1074.2,1428.9h11.4M1079.9,1423.2v11.4M1074.4,1431.6h11.4M1080.1,1425.9v11.4M1074.4,1434.8h11.4M1080.1,1429.1v11.4M1074.3,1436.9h11.4M1080,1431.2v11.4M1074.9,1440h11.4M1080.6,1434.3v11.4M1074.9,1442.3h11.4M1080.6,1436.6v11.4M1074.4,1445h11.4M1080.1,1439.3v11.4M1075.6,1446.6h11.4M1081.3,1440.9v11.4M1074.1,1449.8h11.4M1079.8,1444.1v11.4M1074.6,1452.6h11.4M1080.3,1446.9v11.4M1073.9,1455.2h11.4M1079.6,1449.5v11.4M1075.5,1457.5h11.4M1081.2,1451.8v11.4M1075.4,1459.9h11.4M1081.1,1454.2v11.4M1075.3,1462.9h11.4M1081,1457.2v11.4M1073.9,1465.9h11.4M1079.6,1460.2v11.4M1074.4,1467.4h11.4M1080.1,1461.7v11.4M1074.2,1470h11.4M1079.9,1464.3v11.4M1075.1,1473.5h11.4M1080.8,1467.8v11.4M1075,1476.2h11.4M1080.7,1470.5v11.4M1074.5,1478.3h11.4M1080.2,1472.6v11.4M1074.4,1481.5h11.4M1080.1,1475.8v11.4M1074.3,1483.5h11.4M1080,1477.8v11.4M1075.5,1486.1h11.4M1081.2,1480.4v11.4M1074.2,1489.2h11.4M1079.9,1483.5v11.4M1075.6,1492.1h11.4M1081.3,1486.4v11.4M1075.1,1493.6h11.4M1080.8,1487.9v11.4M1075.1,1496.8h11.4M1080.8,1491.1v11.4M1075.1,1498.4h11.4M1080.8,1492.7v11.4M1075.2,1501.7h11.4M1080.9,1496v11.4M1075.8,1504.7h11.4M1081.5,1499v11.4M1074,1506.7h11.4M1079.7,1501v11.4M1073.9,1509.8h11.4M1079.6,1504.1v11.4M1074.1,1512.9h11.4M1079.8,1507.2v11.4M1074.4,1513.3h11.4M1080.1,1507.6v11.4" fill="none" stroke="#d42418" stroke-width="1.1" stroke-opacity="0.7"/>
<path d="M1072.4,1359.2h14M1079.4,1352.2v14M1072.8,1361.5h14M1079.8,1354.5v14M1074.6,1363.6h14M1081.6,1356.6v14M1073.2,1364.5h14M1080.2,1357.5v14M1074.2,1366.7h14M1081.2,1359.7v14M1073.2,1368.2h14M1080.2,1361.2v14M1072.3,1370.6h14M1079.3,1363.6v14M1072.6,1372.4h14M1079.6,1365.4v14M1073.8,1373.5h14M1080.8,1366.5v14M1073.7,1375.7h14M1080.7,1368.7v14M1073,1377.4h14M1080,1370.4v14M1074.5,1379.6h14M1081.5,1372.6v14M1072.9,1381.1h14M1079.9,1374.1v14M1074.6,1383.4h14M1081.6,1376.4v14M1073.4,1385.3h14M1080.4,1378.3v14M1073.7,1386.4h14M1080.7,1379.4v14M1072.4,1387.9h14M1079.4,1380.9v14M1074.6,1389.9h14M1081.6,1382.9v14M1074.1,1391.8h14M1081.1,1384.8v14M1073.1,1393.5h14M1080.1,1386.5v14M1072.4,1395.2h14M1079.4,1388.2v14M1073.9,1397.2h14M1080.9,1390.2v14M1074.6,1399.5h14M1081.6,1392.5v14M1074.5,1401h14M1081.5,1394v14M1074.4,1402.4h14M1081.4,1395.4v14M1072.5,1404.3h14M1079.5,1397.3v14M1074.4,1406.9h14M1081.4,1399.9v14M1073.9,1408.3h14M1080.9,1401.3v14M1074,1409.6h14M1081,1402.6v14M1072.4,1411.4h14M1079.4,1404.4v14M1073.1,1413.5h14M1080.1,1406.5v14M1074.1,1415.6h14M1081.1,1408.6v14M1072.6,1417.5h14M1079.6,1410.5v14M1073.1,1419.4h14M1080.1,1412.4v14M1072.9,1420.4h14M1079.9,1413.4v14M1072.5,1422h14M1079.5,1415v14M1072.6,1424.8h14M1079.6,1417.8v14M1074.4,1425.6h14M1081.4,1418.6v14M1073.6,1428.5h14M1080.6,1421.5v14M1072.9,1429.6h14M1079.9,1422.6v14M1074.6,1431.9h14M1081.6,1424.9v14M1073.6,1433.9h14M1080.6,1426.9v14M1074,1434.7h14M1081,1427.7v14M1072.7,1436.5h14M1079.7,1429.5v14M1074,1438.7h14M1081,1431.7v14M1072.4,1440.6h14M1079.4,1433.6v14M1072.8,1442.2h14M1079.8,1435.2v14M1072.9,1444.7h14M1079.9,1437.7v14M1072.3,1446h14M1079.3,1439v14M1072.5,1447.6h14M1079.5,1440.6v14M1074.6,1450.1h14M1081.6,1443.1v14M1074.6,1451.5h14M1081.6,1444.5v14M1073.2,1452.8h14M1080.2,1445.8v14M1073.2,1455.3h14M1080.2,1448.3v14M1073.3,1457.4h14M1080.3,1450.4v14M1073.1,1458.9h14M1080.1,1451.9v14M1074.2,1460.9h14M1081.2,1453.9v14M1072.4,1462.5h14M1079.4,1455.5v14M1073.7,1463.8h14M1080.7,1456.8v14M1072.5,1466h14M1079.5,1459v14M1072.8,1467.5h14M1079.8,1460.5v14M1072.5,1468.9h14M1079.5,1461.9v14M1072.7,1471.4h14M1079.7,1464.4v14M1073.4,1472.7h14M1080.4,1465.7v14M1074.3,1475.2h14M1081.3,1468.2v14M1072.8,1476.9h14M1079.8,1469.9v14M1073.1,1478h14M1080.1,1471v14M1073.6,1480.3h14M1080.6,1473.3v14M1073.1,1482.4h14M1080.1,1475.4v14M1074.5,1483.7h14M1081.5,1476.7v14M1074.5,1485.6h14M1081.5,1478.6v14M1072.8,1487.6h14M1079.8,1480.6v14M1074.4,1488.9h14M1081.4,1481.9v14M1074.1,1491.1h14M1081.1,1484.1v14M1072.4,1493.1h14M1079.4,1486.1v14M1074.6,1494.5h14M1081.6,1487.5v14M1073.3,1496.4h14M1080.3,1489.4v14M1072.9,1498h14M1079.9,1491v14M1073.1,1500.5h14M1080.1,1493.5v14M1072.6,1501.7h14M1079.6,1494.7v14M1073.5,1503.9h14M1080.5,1496.9v14M1073.8,1505.1h14M1080.8,1498.1v14M1072.7,1507.7h14M1079.7,1500.7v14M1074.4,1509.5h14M1081.4,1502.5v14M1073.5,1511h14M1080.5,1504v14M1073.5,1512h14M1080.5,1505v14M1073,1513.9h14M1080,1506.9v14M1073.2,1514.8h14M1080.2,1507.8v14" fill="none" stroke="#d42418" stroke-width="1.3" stroke-opacity="0.85"/>
<path d="M1075.5,1524h10M1080.5,1519v10M1075.5,1527h10M1080.5,1522v10M1075.5,1530h10M1080.5,1525v10M1075.5,1533h10M1080.5,1528v10M1075.5,1536h10M1080.5,1531v10M1075.5,1539h10M1080.5,1534v10M1075.5,1541h10M1080.5,1536v10" fill="none" stroke="#d42418" stroke-width="1.3" stroke-opacity="0.7"/>
<path d="M1076,1544.5h10M1081,1539.5v10M1078,1562.3h10M1083,1557.3v10M1078,1560h10M1083,1555v10" fill="none" stroke="#d42418" stroke-width="1.6" stroke-opacity="0.9"/>
<path d="M882,1495 882.4,1467.8 892.4,1467.8 892.4,1477.8 892,1505 882,1505ZM881,1525 882,1495 892,1495 892,1505 891,1535 881,1535ZM881,1525 891,1525 891.9,1570.2 891.9,1580.2 881.9,1580.2 881,1535Z" fill="#333333"/>
<path d="M893,1563.5 898.5,1563.5 903.8,1564 903.8,1569.5 898.2,1569.5 893,1569ZM898.2,1564 919.8,1556 925.2,1556 925.2,1561.5 903.8,1569.5 898.2,1569.5ZM919.8,1556 939.2,1552.5 944.8,1552.5 944.8,1558 925.2,1561.5 919.8,1561.5ZM939.2,1552.5 964.2,1541.8 969.8,1541.8 969.8,1547.2 944.8,1558 939.2,1558ZM964.2,1541.8 985.8,1531 991.2,1531 991.2,1536.5 969.8,1547.2 964.2,1547.2ZM985.8,1531 1000,1518.5 1005.5,1518.5 1005.5,1524 991.2,1536.5 985.8,1536.5ZM1000,1518.5 1012.5,1502.5 1018,1502.5 1018,1508 1005.5,1524 1000,1524ZM1012.5,1502.5 1021.5,1495.2 1027,1495.2 1027,1500.8 1018,1508 1012.5,1508ZM1021.5,1495.2 1035.7,1491.8 1041.2,1491.8 1041.2,1497.2 1027,1500.8 1021.5,1500.8ZM1035.7,1491.8 1053.5,1486.5 1059,1486.5 1059,1492 1041.2,1497.2 1035.7,1497.2ZM1053.5,1486.5 1068.7,1480.3 1074.2,1480.3 1074.2,1485.8 1059,1492 1053.5,1492Z" fill="#333333"/>
<path d="M970.4,1477.9 978.3,1474.6 984.3,1474.6 984.3,1480.6 976.4,1483.9 970.4,1483.9ZM978.3,1474.6 984.3,1474.6 1002.2,1477.3 1002.2,1483.3 996.2,1483.3 978.3,1480.6ZM996.2,1477.3 1002.2,1477.3 1016.5,1484.4 1016.5,1490.4 1010.5,1490.4 996.2,1483.3ZM1010.5,1484.4 1016.5,1484.4 1023.3,1491.2 1023.3,1497.2 1017.3,1497.2 1010.5,1490.4Z" fill="#333333"/>
<path d="M1060.9,1486.7 1065.9,1486.7 1073.1,1493.8 1073.1,1498.8 1068.1,1498.8 1060.9,1491.7ZM1068.1,1493.8 1073.1,1493.8 1076.1,1494.7 1076.1,1499.7 1071.1,1499.7 1068.1,1498.8Z" fill="#333333"/>
<path d="M1075.1,1414.2 1086.1,1414.2 1086.5,1454.5 1086.5,1465.5 1075.5,1465.5 1075.1,1425.2ZM1074.6,1505 1075.5,1454.5 1086.5,1454.5 1086.5,1465.5 1085.6,1516 1074.6,1516Z" fill="#333333"/>
<line x1="757.6" y1="1264" x2="1284.4" y2="1264" stroke="#000" stroke-width="2.8"/>
<line x1="757.6" y1="1596.5" x2="1284.4" y2="1596.5" stroke="#000" stroke-width="2.8"/>
<line x1="759" y1="1262.6" x2="759" y2="1597.9" stroke="#000" stroke-width="2.8"/>
<line x1="1283" y1="1265.2" x2="1283" y2="1595.3" stroke="#d11a1a" stroke-width="2.8"/>
<line x1="765.8" y1="1596.5" x2="765.8" y2="1609.1" stroke="#000" stroke-width="2.6"/>
<text x="765.8" y="1632.3" text-anchor="middle" class="tk">3.0</text>
<line x1="778.5" y1="1596.5" x2="778.5" y2="1603.5" stroke="#000" stroke-width="2.2"/>
<line x1="791.3" y1="1596.5" x2="791.3" y2="1603.5" stroke="#000" stroke-width="2.2"/>
<line x1="804.0" y1="1596.5" x2="804.0" y2="1603.5" stroke="#000" stroke-width="2.2"/>
<line x1="816.8" y1="1596.5" x2="816.8" y2="1603.5" stroke="#000" stroke-width="2.2"/>
<line x1="829.5" y1="1596.5" x2="829.5" y2="1606.0" stroke="#000" stroke-width="2.2"/>
<line x1="842.2" y1="1596.5" x2="842.2" y2="1603.5" stroke="#000" stroke-width="2.2"/>
<line x1="855.0" y1="1596.5" x2="855.0" y2="1603.5" stroke="#000" stroke-width="2.2"/>
<line x1="867.7" y1="1596.5" x2="867.7" y2="1603.5" stroke="#000" stroke-width="2.2"/>
<line x1="880.5" y1="1596.5" x2="880.5" y2="1603.5" stroke="#000" stroke-width="2.2"/>
<line x1="893.2" y1="1596.5" x2="893.2" y2="1609.1" stroke="#000" stroke-width="2.6"/>
<text x="893.2" y="1632.3" text-anchor="middle" class="tk">3.2</text>
<line x1="905.9" y1="1596.5" x2="905.9" y2="1603.5" stroke="#000" stroke-width="2.2"/>
<line x1="918.7" y1="1596.5" x2="918.7" y2="1603.5" stroke="#000" stroke-width="2.2"/>
<line x1="931.4" y1="1596.5" x2="931.4" y2="1603.5" stroke="#000" stroke-width="2.2"/>
<line x1="944.2" y1="1596.5" x2="944.2" y2="1603.5" stroke="#000" stroke-width="2.2"/>
<line x1="956.9" y1="1596.5" x2="956.9" y2="1606.0" stroke="#000" stroke-width="2.2"/>
<line x1="969.6" y1="1596.5" x2="969.6" y2="1603.5" stroke="#000" stroke-width="2.2"/>
<line x1="982.4" y1="1596.5" x2="982.4" y2="1603.5" stroke="#000" stroke-width="2.2"/>
<line x1="995.1" y1="1596.5" x2="995.1" y2="1603.5" stroke="#000" stroke-width="2.2"/>
<line x1="1007.9" y1="1596.5" x2="1007.9" y2="1603.5" stroke="#000" stroke-width="2.2"/>
<line x1="1020.6" y1="1596.5" x2="1020.6" y2="1609.1" stroke="#000" stroke-width="2.6"/>
<text x="1020.6" y="1632.3" text-anchor="middle" class="tk">3.4</text>
<line x1="1033.3" y1="1596.5" x2="1033.3" y2="1603.5" stroke="#000" stroke-width="2.2"/>
<line x1="1046.1" y1="1596.5" x2="1046.1" y2="1603.5" stroke="#000" stroke-width="2.2"/>
<line x1="1058.8" y1="1596.5" x2="1058.8" y2="1603.5" stroke="#000" stroke-width="2.2"/>
<line x1="1071.6" y1="1596.5" x2="1071.6" y2="1603.5" stroke="#000" stroke-width="2.2"/>
<line x1="1084.3" y1="1596.5" x2="1084.3" y2="1606.0" stroke="#000" stroke-width="2.2"/>
<line x1="1097.0" y1="1596.5" x2="1097.0" y2="1603.5" stroke="#000" stroke-width="2.2"/>
<line x1="1109.8" y1="1596.5" x2="1109.8" y2="1603.5" stroke="#000" stroke-width="2.2"/>
<line x1="1122.5" y1="1596.5" x2="1122.5" y2="1603.5" stroke="#000" stroke-width="2.2"/>
<line x1="1135.3" y1="1596.5" x2="1135.3" y2="1603.5" stroke="#000" stroke-width="2.2"/>
<line x1="1148.0" y1="1596.5" x2="1148.0" y2="1609.1" stroke="#000" stroke-width="2.6"/>
<text x="1148.0" y="1632.3" text-anchor="middle" class="tk">3.6</text>
<line x1="1160.7" y1="1596.5" x2="1160.7" y2="1603.5" stroke="#000" stroke-width="2.2"/>
<line x1="1173.5" y1="1596.5" x2="1173.5" y2="1603.5" stroke="#000" stroke-width="2.2"/>
<line x1="1186.2" y1="1596.5" x2="1186.2" y2="1603.5" stroke="#000" stroke-width="2.2"/>
<line x1="1199.0" y1="1596.5" x2="1199.0" y2="1603.5" stroke="#000" stroke-width="2.2"/>
<line x1="1211.7" y1="1596.5" x2="1211.7" y2="1606.0" stroke="#000" stroke-width="2.2"/>
<line x1="1224.4" y1="1596.5" x2="1224.4" y2="1603.5" stroke="#000" stroke-width="2.2"/>
<line x1="1237.2" y1="1596.5" x2="1237.2" y2="1603.5" stroke="#000" stroke-width="2.2"/>
<line x1="1249.9" y1="1596.5" x2="1249.9" y2="1603.5" stroke="#000" stroke-width="2.2"/>
<line x1="1262.7" y1="1596.5" x2="1262.7" y2="1603.5" stroke="#000" stroke-width="2.2"/>
<line x1="1275.4" y1="1596.5" x2="1275.4" y2="1609.1" stroke="#000" stroke-width="2.6"/>
<text x="1275.4" y="1632.3" text-anchor="middle" class="tk">3.8</text>
<line x1="746.4" y1="1589.0" x2="759" y2="1589.0" stroke="#000" stroke-width="2.6"/>
<text x="741.0" y="1594.7" text-anchor="end" class="tk">4</text>
<line x1="752.0" y1="1581.0" x2="759" y2="1581.0" stroke="#000" stroke-width="2.2"/>
<line x1="752.0" y1="1573.1" x2="759" y2="1573.1" stroke="#000" stroke-width="2.2"/>
<line x1="752.0" y1="1565.2" x2="759" y2="1565.2" stroke="#000" stroke-width="2.2"/>
<line x1="752.0" y1="1557.2" x2="759" y2="1557.2" stroke="#000" stroke-width="2.2"/>
<line x1="752.0" y1="1549.2" x2="759" y2="1549.2" stroke="#000" stroke-width="2.2"/>
<line x1="752.0" y1="1541.3" x2="759" y2="1541.3" stroke="#000" stroke-width="2.2"/>
<line x1="752.0" y1="1533.3" x2="759" y2="1533.3" stroke="#000" stroke-width="2.2"/>
<line x1="752.0" y1="1525.4" x2="759" y2="1525.4" stroke="#000" stroke-width="2.2"/>
<line x1="752.0" y1="1517.5" x2="759" y2="1517.5" stroke="#000" stroke-width="2.2"/>
<line x1="746.4" y1="1509.5" x2="759" y2="1509.5" stroke="#000" stroke-width="2.6"/>
<text x="741.0" y="1515.2" text-anchor="end" class="tk">5</text>
<line x1="752.0" y1="1501.5" x2="759" y2="1501.5" stroke="#000" stroke-width="2.2"/>
<line x1="752.0" y1="1493.6" x2="759" y2="1493.6" stroke="#000" stroke-width="2.2"/>
<line x1="752.0" y1="1485.6" x2="759" y2="1485.6" stroke="#000" stroke-width="2.2"/>
<line x1="752.0" y1="1477.7" x2="759" y2="1477.7" stroke="#000" stroke-width="2.2"/>
<line x1="752.0" y1="1469.8" x2="759" y2="1469.8" stroke="#000" stroke-width="2.2"/>
<line x1="752.0" y1="1461.8" x2="759" y2="1461.8" stroke="#000" stroke-width="2.2"/>
<line x1="752.0" y1="1453.8" x2="759" y2="1453.8" stroke="#000" stroke-width="2.2"/>
<line x1="752.0" y1="1445.9" x2="759" y2="1445.9" stroke="#000" stroke-width="2.2"/>
<line x1="752.0" y1="1438.0" x2="759" y2="1438.0" stroke="#000" stroke-width="2.2"/>
<line x1="746.4" y1="1430.0" x2="759" y2="1430.0" stroke="#000" stroke-width="2.6"/>
<text x="741.0" y="1435.7" text-anchor="end" class="tk">6</text>
<line x1="752.0" y1="1422.0" x2="759" y2="1422.0" stroke="#000" stroke-width="2.2"/>
<line x1="752.0" y1="1414.1" x2="759" y2="1414.1" stroke="#000" stroke-width="2.2"/>
<line x1="752.0" y1="1406.1" x2="759" y2="1406.1" stroke="#000" stroke-width="2.2"/>
<line x1="752.0" y1="1398.2" x2="759" y2="1398.2" stroke="#000" stroke-width="2.2"/>
<line x1="752.0" y1="1390.2" x2="759" y2="1390.2" stroke="#000" stroke-width="2.2"/>
<line x1="752.0" y1="1382.3" x2="759" y2="1382.3" stroke="#000" stroke-width="2.2"/>
<line x1="752.0" y1="1374.3" x2="759" y2="1374.3" stroke="#000" stroke-width="2.2"/>
<line x1="752.0" y1="1366.4" x2="759" y2="1366.4" stroke="#000" stroke-width="2.2"/>
<line x1="752.0" y1="1358.5" x2="759" y2="1358.5" stroke="#000" stroke-width="2.2"/>
<line x1="746.4" y1="1350.5" x2="759" y2="1350.5" stroke="#000" stroke-width="2.6"/>
<text x="741.0" y="1356.2" text-anchor="end" class="tk">7</text>
<line x1="752.0" y1="1342.5" x2="759" y2="1342.5" stroke="#000" stroke-width="2.2"/>
<line x1="752.0" y1="1334.6" x2="759" y2="1334.6" stroke="#000" stroke-width="2.2"/>
<line x1="752.0" y1="1326.6" x2="759" y2="1326.6" stroke="#000" stroke-width="2.2"/>
<line x1="752.0" y1="1318.7" x2="759" y2="1318.7" stroke="#000" stroke-width="2.2"/>
<line x1="752.0" y1="1310.8" x2="759" y2="1310.8" stroke="#000" stroke-width="2.2"/>
<line x1="752.0" y1="1302.8" x2="759" y2="1302.8" stroke="#000" stroke-width="2.2"/>
<line x1="752.0" y1="1294.8" x2="759" y2="1294.8" stroke="#000" stroke-width="2.2"/>
<line x1="752.0" y1="1286.9" x2="759" y2="1286.9" stroke="#000" stroke-width="2.2"/>
<line x1="752.0" y1="1279.0" x2="759" y2="1279.0" stroke="#000" stroke-width="2.2"/>
<line x1="746.4" y1="1271.0" x2="759" y2="1271.0" stroke="#000" stroke-width="2.6"/>
<text x="741.0" y="1276.7" text-anchor="end" class="tk">8</text>
<line x1="1283" y1="1589.0" x2="1295.6" y2="1589.0" stroke="#d11a1a" stroke-width="2.6"/>
<text x="1302.0" y="1594.7" class="tk rd">0</text>
<line x1="1283" y1="1581.0" x2="1290.0" y2="1581.0" stroke="#d11a1a" stroke-width="2.2"/>
<line x1="1283" y1="1573.1" x2="1290.0" y2="1573.1" stroke="#d11a1a" stroke-width="2.2"/>
<line x1="1283" y1="1565.2" x2="1290.0" y2="1565.2" stroke="#d11a1a" stroke-width="2.2"/>
<line x1="1283" y1="1557.2" x2="1290.0" y2="1557.2" stroke="#d11a1a" stroke-width="2.2"/>
<line x1="1283" y1="1549.2" x2="1292.5" y2="1549.2" stroke="#d11a1a" stroke-width="2.2"/>
<line x1="1283" y1="1541.3" x2="1290.0" y2="1541.3" stroke="#d11a1a" stroke-width="2.2"/>
<line x1="1283" y1="1533.3" x2="1290.0" y2="1533.3" stroke="#d11a1a" stroke-width="2.2"/>
<line x1="1283" y1="1525.4" x2="1290.0" y2="1525.4" stroke="#d11a1a" stroke-width="2.2"/>
<line x1="1283" y1="1517.5" x2="1290.0" y2="1517.5" stroke="#d11a1a" stroke-width="2.2"/>
<line x1="1283" y1="1509.5" x2="1295.6" y2="1509.5" stroke="#d11a1a" stroke-width="2.6"/>
<text x="1302.0" y="1515.2" class="tk rd">2</text>
<line x1="1283" y1="1501.5" x2="1290.0" y2="1501.5" stroke="#d11a1a" stroke-width="2.2"/>
<line x1="1283" y1="1493.6" x2="1290.0" y2="1493.6" stroke="#d11a1a" stroke-width="2.2"/>
<line x1="1283" y1="1485.7" x2="1290.0" y2="1485.7" stroke="#d11a1a" stroke-width="2.2"/>
<line x1="1283" y1="1477.7" x2="1290.0" y2="1477.7" stroke="#d11a1a" stroke-width="2.2"/>
<line x1="1283" y1="1469.8" x2="1292.5" y2="1469.8" stroke="#d11a1a" stroke-width="2.2"/>
<line x1="1283" y1="1461.8" x2="1290.0" y2="1461.8" stroke="#d11a1a" stroke-width="2.2"/>
<line x1="1283" y1="1453.8" x2="1290.0" y2="1453.8" stroke="#d11a1a" stroke-width="2.2"/>
<line x1="1283" y1="1445.9" x2="1290.0" y2="1445.9" stroke="#d11a1a" stroke-width="2.2"/>
<line x1="1283" y1="1438.0" x2="1290.0" y2="1438.0" stroke="#d11a1a" stroke-width="2.2"/>
<line x1="1283" y1="1430.0" x2="1295.6" y2="1430.0" stroke="#d11a1a" stroke-width="2.6"/>
<text x="1302.0" y="1435.7" class="tk rd">4</text>
<line x1="1283" y1="1422.0" x2="1290.0" y2="1422.0" stroke="#d11a1a" stroke-width="2.2"/>
<line x1="1283" y1="1414.1" x2="1290.0" y2="1414.1" stroke="#d11a1a" stroke-width="2.2"/>
<line x1="1283" y1="1406.2" x2="1290.0" y2="1406.2" stroke="#d11a1a" stroke-width="2.2"/>
<line x1="1283" y1="1398.2" x2="1290.0" y2="1398.2" stroke="#d11a1a" stroke-width="2.2"/>
<line x1="1283" y1="1390.2" x2="1292.5" y2="1390.2" stroke="#d11a1a" stroke-width="2.2"/>
<line x1="1283" y1="1382.3" x2="1290.0" y2="1382.3" stroke="#d11a1a" stroke-width="2.2"/>
<line x1="1283" y1="1374.3" x2="1290.0" y2="1374.3" stroke="#d11a1a" stroke-width="2.2"/>
<line x1="1283" y1="1366.4" x2="1290.0" y2="1366.4" stroke="#d11a1a" stroke-width="2.2"/>
<line x1="1283" y1="1358.5" x2="1290.0" y2="1358.5" stroke="#d11a1a" stroke-width="2.2"/>
<line x1="1283" y1="1350.5" x2="1295.6" y2="1350.5" stroke="#d11a1a" stroke-width="2.6"/>
<text x="1302.0" y="1356.2" class="tk rd">6</text>
<line x1="1283" y1="1342.5" x2="1290.0" y2="1342.5" stroke="#d11a1a" stroke-width="2.2"/>
<line x1="1283" y1="1334.6" x2="1290.0" y2="1334.6" stroke="#d11a1a" stroke-width="2.2"/>
<line x1="1283" y1="1326.7" x2="1290.0" y2="1326.7" stroke="#d11a1a" stroke-width="2.2"/>
<line x1="1283" y1="1318.7" x2="1290.0" y2="1318.7" stroke="#d11a1a" stroke-width="2.2"/>
<line x1="1283" y1="1310.8" x2="1292.5" y2="1310.8" stroke="#d11a1a" stroke-width="2.2"/>
<line x1="1283" y1="1302.8" x2="1290.0" y2="1302.8" stroke="#d11a1a" stroke-width="2.2"/>
<line x1="1283" y1="1294.8" x2="1290.0" y2="1294.8" stroke="#d11a1a" stroke-width="2.2"/>
<line x1="1283" y1="1286.9" x2="1290.0" y2="1286.9" stroke="#d11a1a" stroke-width="2.2"/>
<line x1="1283" y1="1279.0" x2="1290.0" y2="1279.0" stroke="#d11a1a" stroke-width="2.2"/>
<line x1="1283" y1="1271.0" x2="1295.6" y2="1271.0" stroke="#d11a1a" stroke-width="2.6"/>
<text x="1302.0" y="1276.7" class="tk rd">8</text>
<text x="1021.0" y="1653.0" text-anchor="middle" class="al">Flight altitude (km)</text>
<text transform="translate(713.1,1430.2) rotate(-90)" text-anchor="middle" class="al">Plume height (km)</text>
<text transform="translate(1329.2,1430.2) rotate(90)" text-anchor="middle" class="al rd">Plume age (h)</text>
<text x="683" y="1282.5" class="pl">(h)</text>
<text x="780" y="1290" class="ti" xml:space="preserve">Flight 2 August - <tspan dx="2.5">Lick Creek</tspan></text>
<text x="771.6" y="1328" class="sb" textLength="155.5" lengthAdjust="spacingAndGlyphs">(Moderately aged)</text></g>
<g id="pi"><path d="M296.3,1807 303.8,1807 304.2,1826.2 304.2,1833.8 296.8,1833.8 296.3,1814.5ZM296.3,1844.5 296.8,1826.2 304.2,1826.2 304.2,1833.8 303.8,1852 296.3,1852Z" fill="#333333"/>
<path d="M297.2,1850 303.2,1850 303.2,1874 297.2,1874Z" fill="#333333"/>
<path d="M299.1,1844.7 303.9,1839.7 310.1,1839.7 310.1,1845.9 305.3,1850.9 299.1,1850.9ZM303.9,1839.7 316.2,1823.9 322.4,1823.9 322.4,1830.1 310.1,1845.9 303.9,1845.9ZM316.2,1823.9 328.5,1815.1 334.7,1815.1 334.7,1821.3 322.4,1830.1 316.2,1830.1ZM328.5,1815.1 333.8,1808 340,1808 340,1814.2 334.7,1821.3 328.5,1821.3ZM333.8,1808 337.9,1800.6 344.1,1800.6 344.1,1806.8 340,1814.2 333.8,1814.2Z" fill="#333333"/>
<path d="M332.8,1807.6 340.2,1807.6 340.2,1838.8 332.8,1838.8ZM332.3,1852.9 332.8,1831.2 340.2,1831.2 340.2,1838.8 339.8,1860.4 332.3,1860.4Z" fill="#333333"/>
<path d="M293.5,1834.5h11M299,1829v11M291.8,1839.3h11M297.3,1833.8v11M291.9,1843.5h11M297.4,1838v11M292.9,1847.7h11M298.4,1842.2v11M293.6,1852.2h11M299.1,1846.7v11M292.5,1857.4h11M298,1851.9v11M293.2,1861.3h11M298.7,1855.8v11M293.3,1866.1h11M298.8,1860.6v11M292.7,1870.9h11M298.2,1865.4v11M292.2,1871.6h11M297.7,1866.1v11" fill="none" stroke="#d42418" stroke-width="1.2" stroke-opacity="0.7"/>
<path d="M291.7,1878.9h11M297.2,1873.4v11M293.1,1880.5h11M298.6,1875v11M293.2,1882.1h11M298.7,1876.6v11M293.9,1884.5h11M299.4,1879v11M294.1,1886.7h11M299.6,1881.2v11M292.8,1889.8h11M298.3,1884.3v11M292,1891.8h11M297.5,1886.3v11M292.7,1894.3h11M298.2,1888.8v11M293.1,1896.7h11M298.6,1891.2v11M292,1897.9h11M297.5,1892.4v11M291.3,1900.2h11M296.8,1894.7v11M291.4,1903.3h11M296.9,1897.8v11M293.9,1904.9h11M299.4,1899.4v11M292.1,1907.4h11M297.6,1901.9v11M293.3,1908.7h11M298.8,1903.2v11M293.1,1910.9h11M298.6,1905.4v11M292.7,1913.2h11M298.2,1907.7v11M293.3,1915.8h11M298.8,1910.3v11M291.5,1918.1h11M297,1912.6v11M293.6,1920.9h11M299.1,1915.4v11M291.4,1921.8h11M296.9,1916.3v11M291.2,1924.7h11M296.7,1919.2v11M293.2,1926.4h11M298.7,1920.9v11M292.4,1928.4h11M297.9,1922.9v11M293.1,1930.5h11M298.6,1925v11M293.7,1932.9h11M299.2,1927.4v11M293.9,1935.8h11M299.4,1930.3v11M293.4,1937.6h11M298.9,1932.1v11M292.1,1940h11M297.6,1934.5v11M291.3,1942.6h11M296.8,1937.1v11M294,1944.8h11M299.5,1939.3v11M291.9,1947.1h11M297.4,1941.6v11M294.2,1949.3h11M299.7,1943.8v11M293,1951.6h11M298.5,1946.1v11M292.3,1953.6h11M297.8,1948.1v11M292.8,1955.3h11M298.3,1949.8v11M294,1957.4h11M299.5,1951.9v11M293.6,1960h11M299.1,1954.5v11M294.1,1960.6h11M299.6,1955.1v11" fill="none" stroke="#d42418" stroke-width="1.3" stroke-opacity="0.75"/>
<path d="M295,1950 303,1950 303,1966 295,1966Z" fill="#d42418" fill-opacity="0.8"/>
<path d="M294,1953.7h10.4M299.2,1948.5v10.4M294.5,1955.8h10.4M299.7,1950.6v10.4M292.8,1959.9h10.4M298,1954.7v10.4M294.2,1961.5h10.4M299.4,1956.3v10.4M293.3,1961.3h10.4M298.5,1956.1v10.4" fill="none" stroke="#d42418" stroke-width="1.1" stroke-opacity="0.7"/>
<path d="M293.8,1963 304.2,1963 304.2,1994 293.8,1994Z" fill="#d42418" fill-opacity="1"/>
<path d="M293,1967.9h12.9M299.4,1961.4v12.9M291.7,1971h12.9M298.2,1964.6v12.9M291.7,1972.9h12.9M298.1,1966.5v12.9M292.9,1976.4h12.9M299.4,1969.9v12.9M293.3,1978.7h12.9M299.8,1972.2v12.9M292,1981.4h12.9M298.4,1974.9v12.9M291.6,1983.6h12.9M298,1977.2v12.9M293.5,1985.9h12.9M300,1979.5v12.9M292.5,1989h12.9M298.9,1982.6v12.9" fill="none" stroke="#d42418" stroke-width="1.1" stroke-opacity="0.7"/>
<path d="M305,1977 314,1979.3 322.8,1985.4 331.6,1992.5 338,1990" fill="none" stroke="#d42418" stroke-width="7" stroke-linejoin="round" stroke-linecap="butt" stroke-opacity="0.85"/>
<path d="M334.5,1984.5 341.5,1984.5 341.5,1991.5 334.5,1991.5Z" fill="#d42418" fill-opacity="1"/>
<path d="M336,1999 344,1999 344,2007 336,2007Z" fill="#d42418" fill-opacity="1"/>
<path d="M294.5,1998h9M299,1993.5v9M333.5,1983h9M338,1978.5v9M340.5,2004h9M345,1999.5v9M331.5,2006h9M336,2001.5v9M294.5,1833h9M299,1828.5v9" fill="none" stroke="#d42418" stroke-width="1.5" stroke-opacity="0.9"/>
<line x1="92.39999999999999" y1="1683.8" x2="587.4" y2="1683.8" stroke="#000" stroke-width="2.8"/>
<line x1="92.39999999999999" y1="2016.3" x2="587.4" y2="2016.3" stroke="#000" stroke-width="2.8"/>
<line x1="93.8" y1="1682.3999999999999" x2="93.8" y2="2017.7" stroke="#000" stroke-width="2.8"/>
<line x1="586" y1="1685.0" x2="586" y2="2015.1" stroke="#d11a1a" stroke-width="2.8"/>
<line x1="100.2" y1="2016.3" x2="100.2" y2="2028.9" stroke="#000" stroke-width="2.6"/>
<text x="100.2" y="2052.1" text-anchor="middle" class="tk">2.0</text>
<line x1="124.1" y1="2016.3" x2="124.1" y2="2023.3" stroke="#000" stroke-width="2.2"/>
<line x1="148.0" y1="2016.3" x2="148.0" y2="2023.3" stroke="#000" stroke-width="2.2"/>
<line x1="172.0" y1="2016.3" x2="172.0" y2="2023.3" stroke="#000" stroke-width="2.2"/>
<line x1="195.9" y1="2016.3" x2="195.9" y2="2023.3" stroke="#000" stroke-width="2.2"/>
<line x1="219.8" y1="2016.3" x2="219.8" y2="2028.9" stroke="#000" stroke-width="2.6"/>
<text x="219.8" y="2052.1" text-anchor="middle" class="tk">2.5</text>
<line x1="243.7" y1="2016.3" x2="243.7" y2="2023.3" stroke="#000" stroke-width="2.2"/>
<line x1="267.6" y1="2016.3" x2="267.6" y2="2023.3" stroke="#000" stroke-width="2.2"/>
<line x1="291.6" y1="2016.3" x2="291.6" y2="2023.3" stroke="#000" stroke-width="2.2"/>
<line x1="315.5" y1="2016.3" x2="315.5" y2="2023.3" stroke="#000" stroke-width="2.2"/>
<line x1="339.4" y1="2016.3" x2="339.4" y2="2028.9" stroke="#000" stroke-width="2.6"/>
<text x="339.4" y="2052.1" text-anchor="middle" class="tk">3.0</text>
<line x1="363.3" y1="2016.3" x2="363.3" y2="2023.3" stroke="#000" stroke-width="2.2"/>
<line x1="387.2" y1="2016.3" x2="387.2" y2="2023.3" stroke="#000" stroke-width="2.2"/>
<line x1="411.2" y1="2016.3" x2="411.2" y2="2023.3" stroke="#000" stroke-width="2.2"/>
<line x1="435.1" y1="2016.3" x2="435.1" y2="2023.3" stroke="#000" stroke-width="2.2"/>
<line x1="459.0" y1="2016.3" x2="459.0" y2="2028.9" stroke="#000" stroke-width="2.6"/>
<text x="459.0" y="2052.1" text-anchor="middle" class="tk">3.5</text>
<line x1="482.9" y1="2016.3" x2="482.9" y2="2023.3" stroke="#000" stroke-width="2.2"/>
<line x1="506.8" y1="2016.3" x2="506.8" y2="2023.3" stroke="#000" stroke-width="2.2"/>
<line x1="530.8" y1="2016.3" x2="530.8" y2="2023.3" stroke="#000" stroke-width="2.2"/>
<line x1="554.7" y1="2016.3" x2="554.7" y2="2023.3" stroke="#000" stroke-width="2.2"/>
<line x1="578.6" y1="2016.3" x2="578.6" y2="2028.9" stroke="#000" stroke-width="2.6"/>
<text x="578.6" y="2052.1" text-anchor="middle" class="tk">4.0</text>
<line x1="81.2" y1="2008.6" x2="93.8" y2="2008.6" stroke="#000" stroke-width="2.6"/>
<text x="75.8" y="2014.3" text-anchor="end" class="tk">4.0</text>
<line x1="86.8" y1="1992.7" x2="93.8" y2="1992.7" stroke="#000" stroke-width="2.2"/>
<line x1="86.8" y1="1976.8" x2="93.8" y2="1976.8" stroke="#000" stroke-width="2.2"/>
<line x1="86.8" y1="1961.0" x2="93.8" y2="1961.0" stroke="#000" stroke-width="2.2"/>
<line x1="86.8" y1="1945.1" x2="93.8" y2="1945.1" stroke="#000" stroke-width="2.2"/>
<line x1="81.2" y1="1929.2" x2="93.8" y2="1929.2" stroke="#000" stroke-width="2.6"/>
<text x="75.8" y="1934.9" text-anchor="end" class="tk">4.5</text>
<line x1="86.8" y1="1913.3" x2="93.8" y2="1913.3" stroke="#000" stroke-width="2.2"/>
<line x1="86.8" y1="1897.4" x2="93.8" y2="1897.4" stroke="#000" stroke-width="2.2"/>
<line x1="86.8" y1="1881.6" x2="93.8" y2="1881.6" stroke="#000" stroke-width="2.2"/>
<line x1="86.8" y1="1865.7" x2="93.8" y2="1865.7" stroke="#000" stroke-width="2.2"/>
<line x1="81.2" y1="1849.8" x2="93.8" y2="1849.8" stroke="#000" stroke-width="2.6"/>
<text x="75.8" y="1855.5" text-anchor="end" class="tk">5.0</text>
<line x1="86.8" y1="1833.9" x2="93.8" y2="1833.9" stroke="#000" stroke-width="2.2"/>
<line x1="86.8" y1="1818.0" x2="93.8" y2="1818.0" stroke="#000" stroke-width="2.2"/>
<line x1="86.8" y1="1802.2" x2="93.8" y2="1802.2" stroke="#000" stroke-width="2.2"/>
<line x1="86.8" y1="1786.3" x2="93.8" y2="1786.3" stroke="#000" stroke-width="2.2"/>
<line x1="81.2" y1="1770.4" x2="93.8" y2="1770.4" stroke="#000" stroke-width="2.6"/>
<text x="75.8" y="1776.1" text-anchor="end" class="tk">5.5</text>
<line x1="86.8" y1="1754.5" x2="93.8" y2="1754.5" stroke="#000" stroke-width="2.2"/>
<line x1="86.8" y1="1738.6" x2="93.8" y2="1738.6" stroke="#000" stroke-width="2.2"/>
<line x1="86.8" y1="1722.8" x2="93.8" y2="1722.8" stroke="#000" stroke-width="2.2"/>
<line x1="86.8" y1="1706.9" x2="93.8" y2="1706.9" stroke="#000" stroke-width="2.2"/>
<line x1="81.2" y1="1691.0" x2="93.8" y2="1691.0" stroke="#000" stroke-width="2.6"/>
<text x="75.8" y="1696.7" text-anchor="end" class="tk">6.0</text>
<line x1="586" y1="2008.6" x2="598.6" y2="2008.6" stroke="#d11a1a" stroke-width="2.6"/>
<text x="605.0" y="2014.3" class="tk rd">0</text>
<line x1="586" y1="1968.9" x2="598.6" y2="1968.9" stroke="#d11a1a" stroke-width="2.6"/>
<text x="605.0" y="1974.6" class="tk rd">2</text>
<line x1="586" y1="1929.2" x2="598.6" y2="1929.2" stroke="#d11a1a" stroke-width="2.6"/>
<text x="605.0" y="1934.9" class="tk rd">4</text>
<line x1="586" y1="1889.5" x2="598.6" y2="1889.5" stroke="#d11a1a" stroke-width="2.6"/>
<text x="605.0" y="1895.2" class="tk rd">6</text>
<line x1="586" y1="1849.8" x2="598.6" y2="1849.8" stroke="#d11a1a" stroke-width="2.6"/>
<text x="605.0" y="1855.5" class="tk rd">8</text>
<line x1="586" y1="1810.1" x2="598.6" y2="1810.1" stroke="#d11a1a" stroke-width="2.6"/>
<text x="605.0" y="1815.8" class="tk rd">10</text>
<line x1="586" y1="1770.4" x2="598.6" y2="1770.4" stroke="#d11a1a" stroke-width="2.6"/>
<text x="605.0" y="1776.1" class="tk rd">12</text>
<line x1="586" y1="1730.7" x2="598.6" y2="1730.7" stroke="#d11a1a" stroke-width="2.6"/>
<text x="605.0" y="1736.4" class="tk rd">14</text>
<line x1="586" y1="1691.0" x2="598.6" y2="1691.0" stroke="#d11a1a" stroke-width="2.6"/>
<text x="605.0" y="1696.7" class="tk rd">16</text>
<text x="339.9" y="2072.8" text-anchor="middle" class="al">Flight altitude (km)</text>
<text transform="translate(27,1850.0) rotate(-90)" text-anchor="middle" class="al">Plume height (km)</text>
<text transform="translate(641.8,1850.0) rotate(90)" text-anchor="middle" class="al rd">Plume age (h)</text>
<text x="5" y="1690.5" class="pl">(i)</text>
<text x="103" y="1710" class="ti" xml:space="preserve">Flight 3 August - Lick Creek</text>
<text x="110.4" y="1747" class="sb" textLength="154.5" lengthAdjust="spacingAndGlyphs">(Moderately aged)</text></g>
<g id="pj"><path d="M980.2,1794.9h12M986.2,1788.9v12M979.5,1797.3h12M985.5,1791.3v12M980,1800h12M986,1794v12M980.1,1802.6h12M986.1,1796.6v12M980.2,1805h12M986.2,1799v12M979,1806.9h12M985,1800.9v12M979.9,1810.2h12M985.9,1804.2v12M979.9,1812.1h12M985.9,1806.1v12M978.9,1814.9h12M984.9,1808.9v12M980.2,1817.5h12M986.2,1811.5v12M980.1,1819.5h12M986.1,1813.5v12M979.7,1822.5h12M985.7,1816.5v12M979.7,1824.4h12M985.7,1818.4v12M979.2,1827.2h12M985.2,1821.2v12M979.6,1830.2h12M985.6,1824.2v12M979.8,1832.4h12M985.8,1826.4v12M979.6,1835.1h12M985.6,1829.1v12M979.8,1837h12M985.8,1831v12M979.3,1839.4h12M985.3,1833.4v12M978.9,1842.2h12M984.9,1836.2v12M979.5,1844.7h12M985.5,1838.7v12M979.8,1847h12M985.8,1841v12M980.3,1849.7h12M986.3,1843.7v12M979.2,1852.2h12M985.2,1846.2v12M980,1854.6h12M986,1848.6v12M978.7,1857.3h12M984.7,1851.3v12M979.7,1859.7h12M985.7,1853.7v12M980,1862.1h12M986,1856.1v12M980,1864.8h12M986,1858.8v12M979.4,1867.3h12M985.4,1861.3v12M979.7,1870.2h12M985.7,1864.2v12M978.9,1872.2h12M984.9,1866.2v12M979.5,1875.2h12M985.5,1869.2v12M980,1874.9h12M986,1868.9v12" fill="none" stroke="#d42418" stroke-width="1.2" stroke-opacity="0.8"/>
<path d="M978.2,1886.1h14M985.2,1879.1v14M977.1,1888h14M984.1,1881v14M978.4,1889.8h14M985.4,1882.8v14M978.1,1892.7h14M985.1,1885.7v14M977.4,1894.9h14M984.4,1887.9v14M976.5,1897.1h14M983.5,1890.1v14M977.2,1899.2h14M984.2,1892.2v14M978.2,1900.7h14M985.2,1893.7v14M977,1903.2h14M984,1896.2v14M976.8,1905h14M983.8,1898v14M978.2,1907.6h14M985.2,1900.6v14M977.3,1909.4h14M984.3,1902.4v14M976.8,1911.7h14M983.8,1904.7v14M978.3,1914.7h14M985.3,1907.7v14M978.1,1916.2h14M985.1,1909.2v14M977.2,1919h14M984.2,1912v14M977.2,1920.9h14M984.2,1913.9v14M977.7,1922.7h14M984.7,1915.7v14M978.2,1925.3h14M985.2,1918.3v14M978.1,1927.3h14M985.1,1920.3v14M978.5,1930.2h14M985.5,1923.2v14M976.3,1931.7h14M983.3,1924.7v14M977.8,1933.9h14M984.8,1926.9v14M976.7,1936.3h14M983.7,1929.3v14M977.4,1937.8h14M984.4,1930.8v14M977,1940.7h14M984,1933.7v14M977.2,1942.5h14M984.2,1935.5v14M978.4,1945.1h14M985.4,1938.1v14M978,1947.2h14M985,1940.2v14M977.2,1949.1h14M984.2,1942.1v14M976.4,1952h14M983.4,1945v14M976.2,1954.2h14M983.2,1947.2v14M976.9,1956.2h14M983.9,1949.2v14M977,1958.1h14M984,1951.1v14M977.5,1960h14M984.5,1953v14M977.5,1963.2h14M984.5,1956.2v14M976.5,1965.3h14M983.5,1958.3v14M976.4,1966.8h14M983.4,1959.8v14M976.8,1969.1h14M983.8,1962.1v14M977,1971.6h14M984,1964.6v14M978.2,1974h14M985.2,1967v14M976.5,1975.2h14M983.5,1968.2v14M977.4,1978.2h14M984.4,1971.2v14M977.6,1980.7h14M984.6,1973.7v14M977.4,1983h14M984.4,1976v14M978.1,1985.1h14M985.1,1978.1v14M978,1986.8h14M985,1979.8v14" fill="none" stroke="#d42418" stroke-width="1.2" stroke-opacity="0.85"/>
<path d="M978.8,1784.4 989.8,1784.4 989.8,1997.5 978.8,1997.5Z" fill="#333333"/>
<rect x="975.5" y="1850" width="3.1" height="7" fill="#333333"/>
<path d="M981.7,1735h9M986.2,1730.5v9M981.7,1750.4h9M986.2,1745.9v9M981.7,1753.6h9M986.2,1749.1v9M981.7,1765.8h9M986.2,1761.3v9M981.7,1772.2h9M986.2,1767.7v9M981.7,1781h9M986.2,1776.5v9" fill="none" stroke="#d42418" stroke-width="1.3" stroke-opacity="0.85"/>
<path d="M1052.1,1688.3 1061.1,1688.3 1061.5,1725.5 1061.5,1734.5 1052.5,1734.5 1052.1,1697.3ZM1052.3,1762 1052.5,1725.5 1061.5,1725.5 1061.5,1734.5 1061.3,1771 1052.3,1771Z" fill="#333333"/>
<path d="M1051.8,1892h10M1056.8,1887v10M1051.8,1895h10M1056.8,1890v10M1051.8,1898h10M1056.8,1893v10M1051.8,1901h10M1056.8,1896v10" fill="none" stroke="#d42418" stroke-width="1.3" stroke-opacity="0.75"/>
<path d="M1051.3,1906 1062.3,1906 1062.3,1986 1051.3,1986Z" fill="#d42418" fill-opacity="1"/>
<path d="M1050.2,1911.1h13.4M1056.9,1904.4v13.4M1050.4,1914.7h13.4M1057.1,1908v13.4M1050.1,1916.1h13.4M1056.8,1909.4v13.4M1049.8,1918.6h13.4M1056.5,1911.9v13.4M1050.5,1921.6h13.4M1057.2,1914.9v13.4M1050.5,1924.3h13.4M1057.2,1917.6v13.4M1050,1927.7h13.4M1056.7,1921v13.4M1050.5,1930.2h13.4M1057.2,1923.5v13.4M1049.4,1932.1h13.4M1056.1,1925.4v13.4M1049.8,1935.3h13.4M1056.5,1928.6v13.4M1049.3,1937.6h13.4M1056,1930.9v13.4M1050.6,1939.6h13.4M1057.3,1932.9v13.4M1050.7,1943.2h13.4M1057.4,1936.5v13.4M1050.7,1944.8h13.4M1057.4,1938.1v13.4M1050.9,1947.8h13.4M1057.6,1941.1v13.4M1049.9,1950.9h13.4M1056.6,1944.2v13.4M1051,1952.7h13.4M1057.7,1946v13.4M1049.4,1956.4h13.4M1056.1,1949.7v13.4M1050.2,1958.6h13.4M1056.9,1951.9v13.4M1049.7,1960.3h13.4M1056.4,1953.6v13.4M1049.4,1963.7h13.4M1056.1,1957v13.4M1050.4,1966.1h13.4M1057.1,1959.4v13.4M1049.3,1968h13.4M1056,1961.3v13.4M1049.5,1971.2h13.4M1056.2,1964.5v13.4M1050.7,1974.5h13.4M1057.4,1967.8v13.4M1050.2,1976.9h13.4M1056.9,1970.2v13.4M1050.7,1979.8h13.4M1057.4,1973.1v13.4M1050.1,1979.9h13.4M1056.8,1973.2v13.4" fill="none" stroke="#d42418" stroke-width="1.1" stroke-opacity="0.7"/>
<path d="M1052.5,1990h9M1057,1985.5v9" fill="none" stroke="#d42418" stroke-width="1.5" stroke-opacity="0.85"/>
<line x1="779.0" y1="1671.4" x2="1273.9" y2="1671.4" stroke="#000" stroke-width="2.8"/>
<line x1="779.0" y1="2004.3" x2="1273.9" y2="2004.3" stroke="#000" stroke-width="2.8"/>
<line x1="780.4" y1="1670.0" x2="780.4" y2="2005.7" stroke="#000" stroke-width="2.8"/>
<line x1="1272.5" y1="1672.6000000000001" x2="1272.5" y2="2003.1" stroke="#d11a1a" stroke-width="2.8"/>
<line x1="787.8" y1="2004.3" x2="787.8" y2="2016.9" stroke="#000" stroke-width="2.6"/>
<text x="787.8" y="2040.1" text-anchor="middle" class="tk">2.0</text>
<line x1="811.6" y1="2004.3" x2="811.6" y2="2011.3" stroke="#000" stroke-width="2.2"/>
<line x1="835.5" y1="2004.3" x2="835.5" y2="2011.3" stroke="#000" stroke-width="2.2"/>
<line x1="859.3" y1="2004.3" x2="859.3" y2="2011.3" stroke="#000" stroke-width="2.2"/>
<line x1="883.2" y1="2004.3" x2="883.2" y2="2011.3" stroke="#000" stroke-width="2.2"/>
<line x1="907.0" y1="2004.3" x2="907.0" y2="2016.9" stroke="#000" stroke-width="2.6"/>
<text x="907.0" y="2040.1" text-anchor="middle" class="tk">2.5</text>
<line x1="930.8" y1="2004.3" x2="930.8" y2="2011.3" stroke="#000" stroke-width="2.2"/>
<line x1="954.7" y1="2004.3" x2="954.7" y2="2011.3" stroke="#000" stroke-width="2.2"/>
<line x1="978.5" y1="2004.3" x2="978.5" y2="2011.3" stroke="#000" stroke-width="2.2"/>
<line x1="1002.4" y1="2004.3" x2="1002.4" y2="2011.3" stroke="#000" stroke-width="2.2"/>
<line x1="1026.2" y1="2004.3" x2="1026.2" y2="2016.9" stroke="#000" stroke-width="2.6"/>
<text x="1026.2" y="2040.1" text-anchor="middle" class="tk">3.0</text>
<line x1="1050.0" y1="2004.3" x2="1050.0" y2="2011.3" stroke="#000" stroke-width="2.2"/>
<line x1="1073.9" y1="2004.3" x2="1073.9" y2="2011.3" stroke="#000" stroke-width="2.2"/>
<line x1="1097.7" y1="2004.3" x2="1097.7" y2="2011.3" stroke="#000" stroke-width="2.2"/>
<line x1="1121.6" y1="2004.3" x2="1121.6" y2="2011.3" stroke="#000" stroke-width="2.2"/>
<line x1="1145.4" y1="2004.3" x2="1145.4" y2="2016.9" stroke="#000" stroke-width="2.6"/>
<text x="1145.4" y="2040.1" text-anchor="middle" class="tk">3.5</text>
<line x1="1169.2" y1="2004.3" x2="1169.2" y2="2011.3" stroke="#000" stroke-width="2.2"/>
<line x1="1193.1" y1="2004.3" x2="1193.1" y2="2011.3" stroke="#000" stroke-width="2.2"/>
<line x1="1216.9" y1="2004.3" x2="1216.9" y2="2011.3" stroke="#000" stroke-width="2.2"/>
<line x1="1240.8" y1="2004.3" x2="1240.8" y2="2011.3" stroke="#000" stroke-width="2.2"/>
<line x1="1264.6" y1="2004.3" x2="1264.6" y2="2016.9" stroke="#000" stroke-width="2.6"/>
<text x="1264.6" y="2040.1" text-anchor="middle" class="tk">4.0</text>
<line x1="767.8" y1="1996.0" x2="780.4" y2="1996.0" stroke="#000" stroke-width="2.6"/>
<text x="762.4" y="2001.7" text-anchor="end" class="tk">4.0</text>
<line x1="773.4" y1="1980.1" x2="780.4" y2="1980.1" stroke="#000" stroke-width="2.2"/>
<line x1="773.4" y1="1964.3" x2="780.4" y2="1964.3" stroke="#000" stroke-width="2.2"/>
<line x1="773.4" y1="1948.5" x2="780.4" y2="1948.5" stroke="#000" stroke-width="2.2"/>
<line x1="773.4" y1="1932.6" x2="780.4" y2="1932.6" stroke="#000" stroke-width="2.2"/>
<line x1="767.8" y1="1916.8" x2="780.4" y2="1916.8" stroke="#000" stroke-width="2.6"/>
<text x="762.4" y="1922.5" text-anchor="end" class="tk">4.5</text>
<line x1="773.4" y1="1900.9" x2="780.4" y2="1900.9" stroke="#000" stroke-width="2.2"/>
<line x1="773.4" y1="1885.0" x2="780.4" y2="1885.0" stroke="#000" stroke-width="2.2"/>
<line x1="773.4" y1="1869.2" x2="780.4" y2="1869.2" stroke="#000" stroke-width="2.2"/>
<line x1="773.4" y1="1853.3" x2="780.4" y2="1853.3" stroke="#000" stroke-width="2.2"/>
<line x1="767.8" y1="1837.5" x2="780.4" y2="1837.5" stroke="#000" stroke-width="2.6"/>
<text x="762.4" y="1843.2" text-anchor="end" class="tk">5.0</text>
<line x1="773.4" y1="1821.6" x2="780.4" y2="1821.6" stroke="#000" stroke-width="2.2"/>
<line x1="773.4" y1="1805.8" x2="780.4" y2="1805.8" stroke="#000" stroke-width="2.2"/>
<line x1="773.4" y1="1789.9" x2="780.4" y2="1789.9" stroke="#000" stroke-width="2.2"/>
<line x1="773.4" y1="1774.1" x2="780.4" y2="1774.1" stroke="#000" stroke-width="2.2"/>
<line x1="767.8" y1="1758.2" x2="780.4" y2="1758.2" stroke="#000" stroke-width="2.6"/>
<text x="762.4" y="1764.0" text-anchor="end" class="tk">5.5</text>
<line x1="773.4" y1="1742.4" x2="780.4" y2="1742.4" stroke="#000" stroke-width="2.2"/>
<line x1="773.4" y1="1726.5" x2="780.4" y2="1726.5" stroke="#000" stroke-width="2.2"/>
<line x1="773.4" y1="1710.7" x2="780.4" y2="1710.7" stroke="#000" stroke-width="2.2"/>
<line x1="773.4" y1="1694.8" x2="780.4" y2="1694.8" stroke="#000" stroke-width="2.2"/>
<line x1="767.8" y1="1679.0" x2="780.4" y2="1679.0" stroke="#000" stroke-width="2.6"/>
<text x="762.4" y="1684.7" text-anchor="end" class="tk">6.0</text>
<line x1="1272.5" y1="1996.0" x2="1285.1" y2="1996.0" stroke="#d11a1a" stroke-width="2.6"/>
<text x="1291.5" y="2001.7" class="tk rd">0</text>
<line x1="1272.5" y1="1981.7" x2="1279.5" y2="1981.7" stroke="#d11a1a" stroke-width="2.2"/>
<line x1="1272.5" y1="1967.3" x2="1279.5" y2="1967.3" stroke="#d11a1a" stroke-width="2.2"/>
<line x1="1272.5" y1="1953.0" x2="1279.5" y2="1953.0" stroke="#d11a1a" stroke-width="2.2"/>
<line x1="1272.5" y1="1938.6" x2="1279.5" y2="1938.6" stroke="#d11a1a" stroke-width="2.2"/>
<line x1="1272.5" y1="1924.2" x2="1285.1" y2="1924.2" stroke="#d11a1a" stroke-width="2.6"/>
<text x="1291.5" y="1930.0" class="tk rd">5</text>
<line x1="1272.5" y1="1909.9" x2="1279.5" y2="1909.9" stroke="#d11a1a" stroke-width="2.2"/>
<line x1="1272.5" y1="1895.5" x2="1279.5" y2="1895.5" stroke="#d11a1a" stroke-width="2.2"/>
<line x1="1272.5" y1="1881.2" x2="1279.5" y2="1881.2" stroke="#d11a1a" stroke-width="2.2"/>
<line x1="1272.5" y1="1866.8" x2="1279.5" y2="1866.8" stroke="#d11a1a" stroke-width="2.2"/>
<line x1="1272.5" y1="1852.5" x2="1285.1" y2="1852.5" stroke="#d11a1a" stroke-width="2.6"/>
<text x="1291.5" y="1858.2" class="tk rd">10</text>
<line x1="1272.5" y1="1838.2" x2="1279.5" y2="1838.2" stroke="#d11a1a" stroke-width="2.2"/>
<line x1="1272.5" y1="1823.8" x2="1279.5" y2="1823.8" stroke="#d11a1a" stroke-width="2.2"/>
<line x1="1272.5" y1="1809.5" x2="1279.5" y2="1809.5" stroke="#d11a1a" stroke-width="2.2"/>
<line x1="1272.5" y1="1795.1" x2="1279.5" y2="1795.1" stroke="#d11a1a" stroke-width="2.2"/>
<line x1="1272.5" y1="1780.8" x2="1285.1" y2="1780.8" stroke="#d11a1a" stroke-width="2.6"/>
<text x="1291.5" y="1786.5" class="tk rd">15</text>
<line x1="1272.5" y1="1766.4" x2="1279.5" y2="1766.4" stroke="#d11a1a" stroke-width="2.2"/>
<line x1="1272.5" y1="1752.0" x2="1279.5" y2="1752.0" stroke="#d11a1a" stroke-width="2.2"/>
<line x1="1272.5" y1="1737.7" x2="1279.5" y2="1737.7" stroke="#d11a1a" stroke-width="2.2"/>
<line x1="1272.5" y1="1723.3" x2="1279.5" y2="1723.3" stroke="#d11a1a" stroke-width="2.2"/>
<line x1="1272.5" y1="1709.0" x2="1285.1" y2="1709.0" stroke="#d11a1a" stroke-width="2.6"/>
<text x="1291.5" y="1714.7" class="tk rd">20</text>
<line x1="1272.5" y1="1694.7" x2="1279.5" y2="1694.7" stroke="#d11a1a" stroke-width="2.2"/>
<line x1="1272.5" y1="1680.3" x2="1279.5" y2="1680.3" stroke="#d11a1a" stroke-width="2.2"/>
<text x="1026.5" y="2060.8" text-anchor="middle" class="al">Flight altitude (km)</text>
<text transform="translate(713.1,1837.8) rotate(-90)" text-anchor="middle" class="al">Plume height (km)</text>
<text transform="translate(1328.2,1837.8) rotate(90)" text-anchor="middle" class="al rd">Plume age (h)</text>
<text x="683" y="1690.5" class="pl">(j)</text>
<text x="791.6" y="1698" class="ti" xml:space="preserve">Flight 3 August - Williams Flats</text>
<text x="797" y="1747" class="sb" textLength="54" lengthAdjust="spacingAndGlyphs">(Aged)</text></g>
<g id="pk"><path d="M77.7,2390.9 87.4,2393.8 92.2,2389 97,2395.7 102.9,2390.9" fill="none" stroke="#d42418" stroke-width="8" stroke-linejoin="round" stroke-linecap="butt" stroke-opacity="0.9"/>
<path d="M101.9,2374.4 113.5,2375.4 122.2,2384.1" fill="none" stroke="#d42418" stroke-width="8" stroke-linejoin="round" stroke-linecap="butt" stroke-opacity="0.9"/>
<path d="M118.7,2380.6h9M123.2,2376.1v9M119.7,2377.8h9M124.2,2373.3v9M120.6,2374.9h9M125.1,2370.4v9M121.6,2372.1h9M126.1,2367.6v9M122.6,2369.3h9M127.1,2364.8v9M123.6,2366.4h9M128.1,2361.9v9M124.7,2363.6h9M129.2,2359.1v9M125.7,2360.8h9M130.2,2356.3v9M126.8,2358h9M131.3,2353.5v9M127.8,2355.2h9M132.3,2350.7v9M128,2354.7h9M132.5,2350.2v9" fill="none" stroke="#d42418" stroke-width="1.3" stroke-opacity="0.75"/>
<path d="M133.8,2351.3 140,2356 147.3,2361.9" fill="none" stroke="#d42418" stroke-width="7" stroke-linejoin="round" stroke-linecap="butt" stroke-opacity="0.75"/>
<path d="M144.8,2358.9h9M149.3,2354.4v9M146.5,2356.4h9M151,2351.9v9M148.2,2353.9h9M152.7,2349.4v9M149.9,2351.5h9M154.4,2347v9M151.6,2349h9M156.1,2344.5v9M153.4,2346.6h9M157.9,2342.1v9M154.2,2345.5h9M158.7,2341v9" fill="none" stroke="#d42418" stroke-width="1.3" stroke-opacity="0.75"/>
<path d="M166,2352 178,2352 178,2376 166,2376Z" fill="#d42418" fill-opacity="1"/>
<path d="M164,2358.8h14.4M171.2,2351.6v14.4M164,2361.1h14.4M171.2,2353.9v14.4M164.8,2363h14.4M172,2355.8v14.4M165.5,2365.6h14.4M172.7,2358.4v14.4M165.4,2368.7h14.4M172.6,2361.5v14.4M165,2370.8h14.4M172.2,2363.6v14.4" fill="none" stroke="#d42418" stroke-width="1.1" stroke-opacity="0.7"/>
<path d="M167,2380h10M172,2375v10M171,2333h10M176,2328v10M155,2343h10M160,2338v10" fill="none" stroke="#d42418" stroke-width="1.4" stroke-opacity="0.85"/>
<path d="M170.9,2335.2h10M175.9,2330.2v10M169.7,2338.4h10M174.7,2333.4v10M170.7,2341.1h10M175.7,2336.1v10M171,2343.8h10M176,2338.8v10M170.8,2346.2h10M175.8,2341.2v10" fill="none" stroke="#d42418" stroke-width="1.3" stroke-opacity="0.8"/>
<path d="M78.7,2379 89,2377.4 95.5,2377.4 95.5,2383.9 85.2,2385.5 78.7,2385.5ZM89,2377.4 95.5,2377.4 105.2,2379.4 105.2,2385.9 98.7,2385.9 89,2383.9ZM98.7,2379.4 105.2,2379.4 114.8,2381.3 114.8,2387.8 108.2,2387.8 98.7,2385.9ZM108.2,2381.3 116,2379.8 122.5,2379.8 122.5,2386.3 114.8,2387.8 108.2,2387.8ZM116,2379.8 126.7,2374.1 133.2,2374.1 133.2,2380.6 122.5,2386.3 116,2386.3ZM126.7,2374.1 139.2,2367.3 145.8,2367.3 145.8,2373.8 133.2,2380.6 126.7,2380.6ZM139.2,2367.3 151.8,2359.7 158.2,2359.7 158.2,2366.2 145.8,2373.8 139.2,2373.8ZM151.8,2359.7 162.4,2350.9 168.9,2350.9 168.9,2357.4 158.2,2366.2 151.8,2366.2ZM162.4,2350.9 169.2,2344.2 175.7,2344.2 175.7,2350.7 168.9,2357.4 162.4,2357.4ZM169.2,2344.2 170.2,2340.5 176.7,2340.5 176.7,2347 175.7,2350.7 169.2,2350.7Z" fill="#333333"/>
<path d="M171,2336 180,2336 180,2345 171,2345Z" fill="#333333"/>
<path d="M289.9,2162.7h9M294.4,2158.2v9M289.9,2174.7h9M294.4,2170.2v9M289.9,2186.7h9M294.4,2182.2v9M289.9,2192.4h9M294.4,2187.9v9M289.9,2198.7h9M294.4,2194.2v9M289.9,2210.7h9M294.4,2206.2v9M289.9,2222h9M294.4,2217.5v9M289.9,2228.4h9M294.4,2223.9v9M289.9,2236.2h9M294.4,2231.7v9M289.9,2242.5h9M294.4,2238v9M289.9,2249h9M294.4,2244.5v9M289.9,2253h9M294.4,2248.5v9M289.9,2257h9M294.4,2252.5v9M289.9,2261h9M294.4,2256.5v9" fill="none" stroke="#d42418" stroke-width="1.3" stroke-opacity="0.85"/>
<path d="M288.8,2300 300.8,2300 300.8,2418 288.8,2418Z" fill="#d42418" fill-opacity="1"/>
<path d="M287.1,2306.8h14.4M294.3,2299.6v14.4M288.5,2307.8h14.4M295.7,2300.6v14.4M288.2,2311.3h14.4M295.4,2304.1v14.4M288.1,2314.2h14.4M295.3,2307v14.4M288.2,2316.7h14.4M295.4,2309.5v14.4M288.3,2318.8h14.4M295.5,2311.6v14.4M287.7,2320.8h14.4M294.9,2313.6v14.4M286.9,2324.9h14.4M294.1,2317.7v14.4M286.9,2326.6h14.4M294.1,2319.4v14.4M288.4,2328.9h14.4M295.6,2321.7v14.4M287.9,2331.5h14.4M295.1,2324.3v14.4M288,2334h14.4M295.2,2326.8v14.4M286.8,2336.9h14.4M294,2329.7v14.4M287.4,2340.1h14.4M294.6,2332.9v14.4M286.7,2342.1h14.4M293.9,2334.9v14.4M286.8,2345.5h14.4M294,2338.3v14.4M287.5,2347.4h14.4M294.7,2340.2v14.4M286.6,2350.3h14.4M293.8,2343.1v14.4M288.5,2352h14.4M295.7,2344.8v14.4M287.9,2355.6h14.4M295.1,2348.4v14.4M288.5,2357.8h14.4M295.7,2350.6v14.4M286.7,2361h14.4M293.9,2353.8v14.4M287.8,2362.6h14.4M295,2355.4v14.4M287.8,2365.3h14.4M295,2358.1v14.4M287.7,2368.2h14.4M294.9,2361v14.4M287,2370.6h14.4M294.2,2363.4v14.4M286.9,2373.6h14.4M294.1,2366.4v14.4M288.3,2376.9h14.4M295.5,2369.7v14.4M288,2378.7h14.4M295.2,2371.5v14.4M288.5,2382.1h14.4M295.7,2374.9v14.4M288.4,2383.9h14.4M295.6,2376.7v14.4M287.3,2387.1h14.4M294.5,2379.9v14.4M288.4,2390h14.4M295.6,2382.8v14.4M286.6,2391.2h14.4M293.8,2384v14.4M287.8,2394.8h14.4M295,2387.6v14.4M287,2396.4h14.4M294.2,2389.2v14.4M288.4,2399.5h14.4M295.6,2392.3v14.4M286.6,2402.8h14.4M293.8,2395.6v14.4M286.8,2405.5h14.4M294,2398.3v14.4M288.6,2407.5h14.4M295.8,2400.3v14.4M288.1,2410.5h14.4M295.3,2403.3v14.4M288.4,2412.5h14.4M295.6,2405.3v14.4" fill="none" stroke="#d42418" stroke-width="1.1" stroke-opacity="0.7"/>
<path d="M290,2420h10M295,2415v10M290,2426h10M295,2421v10" fill="none" stroke="#d42418" stroke-width="1.6" stroke-opacity="0.9"/>
<path d="M300.4,2342.8h9.6M305.2,2338v9.6M301.5,2339.8h9.6M306.3,2335v9.6M302.6,2336.8h9.6M307.4,2332v9.6M303.7,2333.8h9.6M308.5,2329v9.6M304.8,2330.8h9.6M309.6,2326v9.6M306,2327.8h9.6M310.8,2323v9.6M307.1,2324.8h9.6M311.9,2320v9.6M308.2,2321.8h9.6M313,2317v9.6M309.2,2318.8h9.6M314,2314v9.6M310.3,2315.7h9.6M315.1,2310.9v9.6M311.3,2312.7h9.6M316.1,2307.9v9.6M312.3,2309.7h9.6M317.1,2304.9v9.6M313.3,2306.6h9.6M318.1,2301.8v9.6M314.3,2303.6h9.6M319.1,2298.8v9.6M315.3,2300.6h9.6M320.1,2295.8v9.6M316.3,2297.5h9.6M321.1,2292.7v9.6M317.1,2294.4h9.6M321.9,2289.6v9.6M317.9,2291.3h9.6M322.7,2286.5v9.6M318.8,2288.2h9.6M323.6,2283.4v9.6M319.6,2285.1h9.6M324.4,2280.3v9.6M321,2282.8h9.6M325.8,2278v9.6M324.2,2282.8h9.6M329,2278v9.6M327.4,2282.8h9.6M332.2,2278v9.6M330.6,2282.8h9.6M335.4,2278v9.6M332.6,2284.8h9.6M337.4,2280v9.6M334,2287.6h9.6M338.8,2282.8v9.6M335.4,2290.5h9.6M340.2,2285.7v9.6M336.2,2293.6h9.6M341,2288.8v9.6M336.7,2296.7h9.6M341.5,2291.9v9.6M337.2,2299.9h9.6M342,2295.1v9.6M337.7,2303.1h9.6M342.5,2298.3v9.6M338.2,2306.2h9.6M343,2301.4v9.6M338.7,2309.4h9.6M343.5,2304.6v9.6M339.6,2312.4h9.6M344.4,2307.6v9.6M340.6,2315.5h9.6M345.4,2310.7v9.6M341.5,2318.5h9.6M346.3,2313.7v9.6M342.5,2321.6h9.6M347.3,2316.8v9.6M343.5,2324.6h9.6M348.3,2319.8v9.6M344.7,2327.3h9.6M349.5,2322.5v9.6M347.9,2327.5h9.6M352.7,2322.7v9.6M351.1,2327.7h9.6M355.9,2322.9v9.6M354.3,2327.9h9.6M359.1,2323.1v9.6M356.3,2329.7h9.6M361.1,2324.9v9.6M357.6,2332.7h9.6M362.4,2327.9v9.6M358.9,2335.6h9.6M363.7,2330.8v9.6M360.1,2338.6h9.6M364.9,2333.8v9.6M361.4,2341.5h9.6M366.2,2336.7v9.6M362.7,2344.4h9.6M367.5,2339.6v9.6M363.9,2347.4h9.6M368.7,2342.6v9.6M366.7,2346.9h9.6M371.5,2342.1v9.6M369.7,2345.9h9.6M374.5,2341.1v9.6M372.8,2344.9h9.6M377.6,2340.1v9.6M375.2,2342.9h9.6M380,2338.1v9.6M377.7,2340.9h9.6M382.5,2336.1v9.6M380.2,2338.8h9.6M385,2334v9.6M382.7,2336.8h9.6M387.5,2332v9.6M383.7,2336h9.6M388.5,2331.2v9.6" fill="none" stroke="#d42418" stroke-width="1.2" stroke-opacity="0.6"/>
<path d="M368.9,2347.8 377.4,2345 391.5,2333.6 397.1,2336.5 409.9,2309.6 418.3,2328 430,2337 439.5,2345 448,2332.2" fill="none" stroke="#d42418" stroke-width="7" stroke-linejoin="round" stroke-linecap="butt" stroke-opacity="0.75"/>
<path d="M289.5,2267.2 300.5,2267.2 300.5,2301.9 289.5,2301.9Z" fill="#333333"/>
<path d="M299.6,2268.7 323.3,2261.2 329.7,2261.2 329.7,2267.6 306,2275.1 299.6,2275.1ZM323.3,2261.2 354.4,2244.3 360.8,2244.3 360.8,2250.7 329.7,2267.6 323.3,2267.6ZM354.4,2244.3 379.8,2233 386.2,2233 386.2,2239.4 360.8,2250.7 354.4,2250.7ZM379.8,2233 415.1,2220.3 421.5,2220.3 421.5,2226.7 386.2,2239.4 379.8,2239.4ZM415.1,2220.3 427.8,2210.4 434.2,2210.4 434.2,2216.8 421.5,2226.7 415.1,2226.7ZM427.8,2210.4 436.3,2207.5 442.7,2207.5 442.7,2213.9 434.2,2216.8 427.8,2216.8ZM436.3,2207.5 441.8,2205.7 448.2,2205.7 448.2,2212.1 442.7,2213.9 436.3,2213.9Z" fill="#333333"/>
<line x1="72.0" y1="2103.4" x2="587.4" y2="2103.4" stroke="#000" stroke-width="2.8"/>
<line x1="72.0" y1="2436" x2="587.4" y2="2436" stroke="#000" stroke-width="2.8"/>
<line x1="73.4" y1="2102.0" x2="73.4" y2="2437.4" stroke="#000" stroke-width="2.8"/>
<line x1="586" y1="2104.6" x2="586" y2="2434.8" stroke="#d11a1a" stroke-width="2.8"/>
<line x1="80.2" y1="2436" x2="80.2" y2="2448.6" stroke="#000" stroke-width="2.6"/>
<text x="80.2" y="2471.8" text-anchor="middle" class="tk">2.0</text>
<line x1="105.1" y1="2436" x2="105.1" y2="2443.0" stroke="#000" stroke-width="2.2"/>
<line x1="130.0" y1="2436" x2="130.0" y2="2443.0" stroke="#000" stroke-width="2.2"/>
<line x1="155.0" y1="2436" x2="155.0" y2="2443.0" stroke="#000" stroke-width="2.2"/>
<line x1="179.9" y1="2436" x2="179.9" y2="2443.0" stroke="#000" stroke-width="2.2"/>
<line x1="204.8" y1="2436" x2="204.8" y2="2448.6" stroke="#000" stroke-width="2.6"/>
<text x="204.8" y="2471.8" text-anchor="middle" class="tk">2.5</text>
<line x1="229.7" y1="2436" x2="229.7" y2="2443.0" stroke="#000" stroke-width="2.2"/>
<line x1="254.6" y1="2436" x2="254.6" y2="2443.0" stroke="#000" stroke-width="2.2"/>
<line x1="279.6" y1="2436" x2="279.6" y2="2443.0" stroke="#000" stroke-width="2.2"/>
<line x1="304.5" y1="2436" x2="304.5" y2="2443.0" stroke="#000" stroke-width="2.2"/>
<line x1="329.4" y1="2436" x2="329.4" y2="2448.6" stroke="#000" stroke-width="2.6"/>
<text x="329.4" y="2471.8" text-anchor="middle" class="tk">3.0</text>
<line x1="354.3" y1="2436" x2="354.3" y2="2443.0" stroke="#000" stroke-width="2.2"/>
<line x1="379.2" y1="2436" x2="379.2" y2="2443.0" stroke="#000" stroke-width="2.2"/>
<line x1="404.2" y1="2436" x2="404.2" y2="2443.0" stroke="#000" stroke-width="2.2"/>
<line x1="429.1" y1="2436" x2="429.1" y2="2443.0" stroke="#000" stroke-width="2.2"/>
<line x1="454.0" y1="2436" x2="454.0" y2="2448.6" stroke="#000" stroke-width="2.6"/>
<text x="454.0" y="2471.8" text-anchor="middle" class="tk">3.5</text>
<line x1="478.9" y1="2436" x2="478.9" y2="2443.0" stroke="#000" stroke-width="2.2"/>
<line x1="503.8" y1="2436" x2="503.8" y2="2443.0" stroke="#000" stroke-width="2.2"/>
<line x1="528.8" y1="2436" x2="528.8" y2="2443.0" stroke="#000" stroke-width="2.2"/>
<line x1="553.7" y1="2436" x2="553.7" y2="2443.0" stroke="#000" stroke-width="2.2"/>
<line x1="578.6" y1="2436" x2="578.6" y2="2448.6" stroke="#000" stroke-width="2.6"/>
<text x="578.6" y="2471.8" text-anchor="middle" class="tk">4.0</text>
<line x1="60.8" y1="2428.3" x2="73.4" y2="2428.3" stroke="#000" stroke-width="2.6"/>
<text x="55.4" y="2434.0" text-anchor="end" class="tk">2</text>
<line x1="66.4" y1="2417.7" x2="73.4" y2="2417.7" stroke="#000" stroke-width="2.2"/>
<line x1="66.4" y1="2407.1" x2="73.4" y2="2407.1" stroke="#000" stroke-width="2.2"/>
<line x1="66.4" y1="2396.5" x2="73.4" y2="2396.5" stroke="#000" stroke-width="2.2"/>
<line x1="66.4" y1="2385.9" x2="73.4" y2="2385.9" stroke="#000" stroke-width="2.2"/>
<line x1="60.8" y1="2375.4" x2="73.4" y2="2375.4" stroke="#000" stroke-width="2.6"/>
<text x="55.4" y="2381.1" text-anchor="end" class="tk">3</text>
<line x1="66.4" y1="2364.8" x2="73.4" y2="2364.8" stroke="#000" stroke-width="2.2"/>
<line x1="66.4" y1="2354.2" x2="73.4" y2="2354.2" stroke="#000" stroke-width="2.2"/>
<line x1="66.4" y1="2343.6" x2="73.4" y2="2343.6" stroke="#000" stroke-width="2.2"/>
<line x1="66.4" y1="2333.0" x2="73.4" y2="2333.0" stroke="#000" stroke-width="2.2"/>
<line x1="60.8" y1="2322.4" x2="73.4" y2="2322.4" stroke="#000" stroke-width="2.6"/>
<text x="55.4" y="2328.1" text-anchor="end" class="tk">4</text>
<line x1="66.4" y1="2311.8" x2="73.4" y2="2311.8" stroke="#000" stroke-width="2.2"/>
<line x1="66.4" y1="2301.2" x2="73.4" y2="2301.2" stroke="#000" stroke-width="2.2"/>
<line x1="66.4" y1="2290.6" x2="73.4" y2="2290.6" stroke="#000" stroke-width="2.2"/>
<line x1="66.4" y1="2280.0" x2="73.4" y2="2280.0" stroke="#000" stroke-width="2.2"/>
<line x1="60.8" y1="2269.4" x2="73.4" y2="2269.4" stroke="#000" stroke-width="2.6"/>
<text x="55.4" y="2275.1" text-anchor="end" class="tk">5</text>
<line x1="66.4" y1="2258.9" x2="73.4" y2="2258.9" stroke="#000" stroke-width="2.2"/>
<line x1="66.4" y1="2248.3" x2="73.4" y2="2248.3" stroke="#000" stroke-width="2.2"/>
<line x1="66.4" y1="2237.7" x2="73.4" y2="2237.7" stroke="#000" stroke-width="2.2"/>
<line x1="66.4" y1="2227.1" x2="73.4" y2="2227.1" stroke="#000" stroke-width="2.2"/>
<line x1="60.8" y1="2216.5" x2="73.4" y2="2216.5" stroke="#000" stroke-width="2.6"/>
<text x="55.4" y="2222.2" text-anchor="end" class="tk">6</text>
<line x1="66.4" y1="2205.9" x2="73.4" y2="2205.9" stroke="#000" stroke-width="2.2"/>
<line x1="66.4" y1="2195.3" x2="73.4" y2="2195.3" stroke="#000" stroke-width="2.2"/>
<line x1="66.4" y1="2184.7" x2="73.4" y2="2184.7" stroke="#000" stroke-width="2.2"/>
<line x1="66.4" y1="2174.1" x2="73.4" y2="2174.1" stroke="#000" stroke-width="2.2"/>
<line x1="60.8" y1="2163.6" x2="73.4" y2="2163.6" stroke="#000" stroke-width="2.6"/>
<text x="55.4" y="2169.2" text-anchor="end" class="tk">7</text>
<line x1="66.4" y1="2153.0" x2="73.4" y2="2153.0" stroke="#000" stroke-width="2.2"/>
<line x1="66.4" y1="2142.4" x2="73.4" y2="2142.4" stroke="#000" stroke-width="2.2"/>
<line x1="66.4" y1="2131.8" x2="73.4" y2="2131.8" stroke="#000" stroke-width="2.2"/>
<line x1="66.4" y1="2121.2" x2="73.4" y2="2121.2" stroke="#000" stroke-width="2.2"/>
<line x1="60.8" y1="2110.6" x2="73.4" y2="2110.6" stroke="#000" stroke-width="2.6"/>
<text x="55.4" y="2116.3" text-anchor="end" class="tk">8</text>
<line x1="586" y1="2428.3" x2="598.6" y2="2428.3" stroke="#d11a1a" stroke-width="2.6"/>
<text x="605.0" y="2434.0" class="tk rd">0</text>
<line x1="586" y1="2412.4" x2="593.0" y2="2412.4" stroke="#d11a1a" stroke-width="2.2"/>
<line x1="586" y1="2396.5" x2="593.0" y2="2396.5" stroke="#d11a1a" stroke-width="2.2"/>
<line x1="586" y1="2380.6" x2="593.0" y2="2380.6" stroke="#d11a1a" stroke-width="2.2"/>
<line x1="586" y1="2364.8" x2="598.6" y2="2364.8" stroke="#d11a1a" stroke-width="2.6"/>
<text x="605.0" y="2370.5" class="tk rd">2</text>
<line x1="586" y1="2348.9" x2="593.0" y2="2348.9" stroke="#d11a1a" stroke-width="2.2"/>
<line x1="586" y1="2333.0" x2="593.0" y2="2333.0" stroke="#d11a1a" stroke-width="2.2"/>
<line x1="586" y1="2317.1" x2="593.0" y2="2317.1" stroke="#d11a1a" stroke-width="2.2"/>
<line x1="586" y1="2301.2" x2="598.6" y2="2301.2" stroke="#d11a1a" stroke-width="2.6"/>
<text x="605.0" y="2306.9" class="tk rd">4</text>
<line x1="586" y1="2285.3" x2="593.0" y2="2285.3" stroke="#d11a1a" stroke-width="2.2"/>
<line x1="586" y1="2269.4" x2="593.0" y2="2269.4" stroke="#d11a1a" stroke-width="2.2"/>
<line x1="586" y1="2253.6" x2="593.0" y2="2253.6" stroke="#d11a1a" stroke-width="2.2"/>
<line x1="586" y1="2237.7" x2="598.6" y2="2237.7" stroke="#d11a1a" stroke-width="2.6"/>
<text x="605.0" y="2243.4" class="tk rd">6</text>
<line x1="586" y1="2221.8" x2="593.0" y2="2221.8" stroke="#d11a1a" stroke-width="2.2"/>
<line x1="586" y1="2205.9" x2="593.0" y2="2205.9" stroke="#d11a1a" stroke-width="2.2"/>
<line x1="586" y1="2190.0" x2="593.0" y2="2190.0" stroke="#d11a1a" stroke-width="2.2"/>
<line x1="586" y1="2174.1" x2="598.6" y2="2174.1" stroke="#d11a1a" stroke-width="2.6"/>
<text x="605.0" y="2179.8" class="tk rd">8</text>
<line x1="586" y1="2158.3" x2="593.0" y2="2158.3" stroke="#d11a1a" stroke-width="2.2"/>
<line x1="586" y1="2142.4" x2="593.0" y2="2142.4" stroke="#d11a1a" stroke-width="2.2"/>
<line x1="586" y1="2126.5" x2="593.0" y2="2126.5" stroke="#d11a1a" stroke-width="2.2"/>
<line x1="586" y1="2110.6" x2="598.6" y2="2110.6" stroke="#d11a1a" stroke-width="2.6"/>
<text x="605.0" y="2116.3" class="tk rd">10</text>
<text x="329.7" y="2492.5" text-anchor="middle" class="al">Flight altitude (km)</text>
<text transform="translate(27,2269.7) rotate(-90)" text-anchor="middle" class="al">Plume height (km)</text>
<text transform="translate(641.8,2269.7) rotate(90)" text-anchor="middle" class="al rd">Plume age (h)</text>
<text x="4.4" y="2110.5" class="pl">(k)</text>
<text x="90" y="2129.4" class="ti" xml:space="preserve">Flight 6 August - Williams Flats</text>
<text x="96.4" y="2168" class="sb" textLength="154.5" lengthAdjust="spacingAndGlyphs">(Moderately aged)</text></g>
<g id="pl"><path d="M910,2352 921,2352 921,2381 910,2381Z" fill="#d42418" fill-opacity="1"/>
<path d="M909.6,2358.2h13.4M916.3,2351.5v13.4M908.8,2360.5h13.4M915.5,2353.8v13.4M908.2,2363.1h13.4M914.9,2356.4v13.4M908.8,2365.7h13.4M915.5,2359v13.4M908.8,2368.6h13.4M915.5,2361.9v13.4M908.5,2370.1h13.4M915.2,2363.4v13.4M909.4,2373.5h13.4M916.1,2366.8v13.4M908.4,2374.7h13.4M915.1,2368v13.4" fill="none" stroke="#d42418" stroke-width="1.1" stroke-opacity="0.7"/>
<path d="M911,2349h9M915.5,2344.5v9M911,2385h9M915.5,2380.5v9" fill="none" stroke="#d42418" stroke-width="1.4" stroke-opacity="0.85"/>
<path d="M939.5,2315 950.5,2315 950.5,2357 939.5,2357Z" fill="#d42418" fill-opacity="1"/>
<path d="M938.8,2319.9h13.4M945.5,2313.2v13.4M938.2,2323h13.4M944.9,2316.3v13.4M938.2,2325.4h13.4M944.9,2318.7v13.4M937.8,2327.9h13.4M944.5,2321.2v13.4M937.6,2331.3h13.4M944.3,2324.6v13.4M938.1,2332.9h13.4M944.8,2326.2v13.4M938.8,2336.3h13.4M945.5,2329.6v13.4M937.3,2339.1h13.4M944,2332.4v13.4M938.1,2340.6h13.4M944.8,2333.9v13.4M937.8,2344.5h13.4M944.5,2337.8v13.4M939,2346.4h13.4M945.7,2339.7v13.4M937.9,2348.6h13.4M944.6,2341.9v13.4M938.7,2351.2h13.4M945.4,2344.5v13.4" fill="none" stroke="#d42418" stroke-width="1.1" stroke-opacity="0.7"/>
<path d="M940.5,2309.6h9M945,2305.1v9M940.5,2311.4h9M945,2306.9v9" fill="none" stroke="#d42418" stroke-width="1.3" stroke-opacity="0.75"/>
<path d="M950,2320.3 962.5,2332.8 971.4,2322 978,2319" fill="none" stroke="#d42418" stroke-width="8" stroke-linejoin="round" stroke-linecap="butt" stroke-opacity="0.95"/>
<path d="M974,2258 985,2258 985,2327 974,2327Z" fill="#d42418" fill-opacity="1"/>
<path d="M973.5,2263.9h13.4M980.2,2257.2v13.4M972.3,2266.9h13.4M979,2260.2v13.4M972.6,2267.9h13.4M979.3,2261.2v13.4M973.5,2271.7h13.4M980.2,2265v13.4M972.9,2273.5h13.4M979.6,2266.8v13.4M972.7,2276.1h13.4M979.4,2269.4v13.4M973.4,2278.6h13.4M980.1,2271.9v13.4M972.3,2281.1h13.4M979,2274.4v13.4M972.7,2284.1h13.4M979.4,2277.4v13.4M971.8,2287.2h13.4M978.5,2280.5v13.4M973.3,2288.9h13.4M980,2282.2v13.4M972.3,2291.9h13.4M979,2285.2v13.4M971.9,2294.4h13.4M978.6,2287.7v13.4M973.4,2296.7h13.4M980.1,2290v13.4M973.3,2300.5h13.4M980,2293.8v13.4M972.1,2302h13.4M978.8,2295.3v13.4M972.1,2305.6h13.4M978.8,2298.9v13.4M972.1,2308h13.4M978.8,2301.3v13.4M973.1,2310.9h13.4M979.8,2304.2v13.4M971.9,2312.7h13.4M978.6,2306v13.4M972.8,2314.9h13.4M979.5,2308.2v13.4M972.2,2317.7h13.4M978.9,2311v13.4M972.7,2320.6h13.4M979.4,2313.9v13.4M971.8,2322.2h13.4M978.5,2315.5v13.4" fill="none" stroke="#d42418" stroke-width="1.1" stroke-opacity="0.7"/>
<path d="M975,2256h9M979.5,2251.5v9M975,2332h9M979.5,2327.5v9M978.5,2324h9M983,2319.5v9" fill="none" stroke="#d42418" stroke-width="1.4" stroke-opacity="0.85"/>
<path d="M1099.3,2272 1109.3,2272 1109.3,2316 1099.3,2316Z" fill="#d42418" fill-opacity="1"/>
<path d="M1098.2,2277.8h12.4M1104.4,2271.6v12.4M1097.6,2279.5h12.4M1103.8,2273.3v12.4M1098.8,2282.1h12.4M1105,2275.9v12.4M1099,2284.2h12.4M1105.2,2278v12.4M1097.3,2287.2h12.4M1103.5,2281v12.4M1098.7,2290.4h12.4M1104.9,2284.2v12.4M1098.6,2292.9h12.4M1104.8,2286.7v12.4M1098.8,2294.8h12.4M1105,2288.6v12.4M1098,2298.1h12.4M1104.2,2291.9v12.4M1098.3,2301.2h12.4M1104.5,2295v12.4M1098.3,2303h12.4M1104.5,2296.8v12.4M1097.2,2305.9h12.4M1103.4,2299.7v12.4M1099,2308.2h12.4M1105.2,2302v12.4M1098.5,2311h12.4M1104.7,2304.8v12.4M1098.9,2310.5h12.4M1105.1,2304.3v12.4" fill="none" stroke="#d42418" stroke-width="1.1" stroke-opacity="0.7"/>
<path d="M1108.8,2313.1 1118,2316 1126.6,2320.3" fill="none" stroke="#d42418" stroke-width="8" stroke-linejoin="round" stroke-linecap="butt" stroke-opacity="0.9"/>
<path d="M1099.5,2270h9M1104,2265.5v9M1099.5,2320h9M1104,2315.5v9M1121.5,2322h9M1126,2317.5v9" fill="none" stroke="#d42418" stroke-width="1.4" stroke-opacity="0.85"/>
<path d="M1195.2,2345.5 1206.2,2345.5 1206.2,2356.5 1195.2,2356.5Z" fill="#d42418" fill-opacity="1"/>
<path d="M1196.2,2342h9M1200.7,2337.5v9M1196.2,2360h9M1200.7,2355.5v9" fill="none" stroke="#d42418" stroke-width="1.4" stroke-opacity="0.9"/>
<path d="M912,2292.6 919,2292.6 919,2315 912,2315Z" fill="#333333"/>
<rect x="917" y="2300" width="3.5" height="5" fill="#333333"/>
<path d="M942,2283.7 949,2283.7 949,2306 942,2306Z" fill="#333333"/>
<path d="M944.7,2295.8 956.5,2286.5 963.5,2286.5 963.5,2293.5 951.7,2302.8 944.7,2302.8ZM956.5,2286.5 968.8,2276.2 975.8,2276.2 975.8,2283.2 963.5,2293.5 956.5,2293.5Z" fill="#333333"/>
<path d="M975.2,2261.4 983.8,2261.4 983.8,2287.3 975.2,2287.3Z" fill="#333333"/>
<path d="M1101.7,2203.4 1108.7,2203.4 1108.7,2226.6 1101.7,2226.6Z" fill="#333333"/>
<path d="M1104.5,2217.5 1111.5,2212.5 1118.5,2212.5 1118.5,2219.5 1111.5,2224.5 1104.5,2224.5ZM1111.5,2212.5 1116.4,2210.1 1123.4,2210.1 1123.4,2217.1 1118.5,2219.5 1111.5,2219.5Z" fill="#333333"/>
<rect x="1197.3" y="2167.2" width="6.8" height="10.9" fill="#333333"/>
<line x1="757.6" y1="2092" x2="1273.4" y2="2092" stroke="#000" stroke-width="2.8"/>
<line x1="757.6" y1="2424" x2="1273.4" y2="2424" stroke="#000" stroke-width="2.8"/>
<line x1="759" y1="2090.6" x2="759" y2="2425.4" stroke="#000" stroke-width="2.8"/>
<line x1="1272" y1="2093.2" x2="1272" y2="2422.8" stroke="#d11a1a" stroke-width="2.8"/>
<line x1="764.0" y1="2424" x2="764.0" y2="2436.6" stroke="#000" stroke-width="2.6"/>
<text x="764.0" y="2459.8" text-anchor="middle" class="tk">3</text>
<line x1="774.0" y1="2424" x2="774.0" y2="2431.0" stroke="#000" stroke-width="2.2"/>
<line x1="784.0" y1="2424" x2="784.0" y2="2431.0" stroke="#000" stroke-width="2.2"/>
<line x1="794.0" y1="2424" x2="794.0" y2="2431.0" stroke="#000" stroke-width="2.2"/>
<line x1="804.0" y1="2424" x2="804.0" y2="2431.0" stroke="#000" stroke-width="2.2"/>
<line x1="814.0" y1="2424" x2="814.0" y2="2433.5" stroke="#000" stroke-width="2.2"/>
<line x1="824.0" y1="2424" x2="824.0" y2="2431.0" stroke="#000" stroke-width="2.2"/>
<line x1="834.0" y1="2424" x2="834.0" y2="2431.0" stroke="#000" stroke-width="2.2"/>
<line x1="844.0" y1="2424" x2="844.0" y2="2431.0" stroke="#000" stroke-width="2.2"/>
<line x1="854.0" y1="2424" x2="854.0" y2="2431.0" stroke="#000" stroke-width="2.2"/>
<line x1="864.0" y1="2424" x2="864.0" y2="2436.6" stroke="#000" stroke-width="2.6"/>
<text x="864.0" y="2459.8" text-anchor="middle" class="tk">4</text>
<line x1="874.0" y1="2424" x2="874.0" y2="2431.0" stroke="#000" stroke-width="2.2"/>
<line x1="884.0" y1="2424" x2="884.0" y2="2431.0" stroke="#000" stroke-width="2.2"/>
<line x1="894.0" y1="2424" x2="894.0" y2="2431.0" stroke="#000" stroke-width="2.2"/>
<line x1="904.0" y1="2424" x2="904.0" y2="2431.0" stroke="#000" stroke-width="2.2"/>
<line x1="914.0" y1="2424" x2="914.0" y2="2433.5" stroke="#000" stroke-width="2.2"/>
<line x1="924.0" y1="2424" x2="924.0" y2="2431.0" stroke="#000" stroke-width="2.2"/>
<line x1="934.0" y1="2424" x2="934.0" y2="2431.0" stroke="#000" stroke-width="2.2"/>
<line x1="944.0" y1="2424" x2="944.0" y2="2431.0" stroke="#000" stroke-width="2.2"/>
<line x1="954.0" y1="2424" x2="954.0" y2="2431.0" stroke="#000" stroke-width="2.2"/>
<line x1="964.0" y1="2424" x2="964.0" y2="2436.6" stroke="#000" stroke-width="2.6"/>
<text x="964.0" y="2459.8" text-anchor="middle" class="tk">5</text>
<line x1="974.0" y1="2424" x2="974.0" y2="2431.0" stroke="#000" stroke-width="2.2"/>
<line x1="984.0" y1="2424" x2="984.0" y2="2431.0" stroke="#000" stroke-width="2.2"/>
<line x1="994.0" y1="2424" x2="994.0" y2="2431.0" stroke="#000" stroke-width="2.2"/>
<line x1="1004.0" y1="2424" x2="1004.0" y2="2431.0" stroke="#000" stroke-width="2.2"/>
<line x1="1014.0" y1="2424" x2="1014.0" y2="2433.5" stroke="#000" stroke-width="2.2"/>
<line x1="1024.0" y1="2424" x2="1024.0" y2="2431.0" stroke="#000" stroke-width="2.2"/>
<line x1="1034.0" y1="2424" x2="1034.0" y2="2431.0" stroke="#000" stroke-width="2.2"/>
<line x1="1044.0" y1="2424" x2="1044.0" y2="2431.0" stroke="#000" stroke-width="2.2"/>
<line x1="1054.0" y1="2424" x2="1054.0" y2="2431.0" stroke="#000" stroke-width="2.2"/>
<line x1="1064.0" y1="2424" x2="1064.0" y2="2436.6" stroke="#000" stroke-width="2.6"/>
<text x="1064.0" y="2459.8" text-anchor="middle" class="tk">6</text>
<line x1="1074.0" y1="2424" x2="1074.0" y2="2431.0" stroke="#000" stroke-width="2.2"/>
<line x1="1084.0" y1="2424" x2="1084.0" y2="2431.0" stroke="#000" stroke-width="2.2"/>
<line x1="1094.0" y1="2424" x2="1094.0" y2="2431.0" stroke="#000" stroke-width="2.2"/>
<line x1="1104.0" y1="2424" x2="1104.0" y2="2431.0" stroke="#000" stroke-width="2.2"/>
<line x1="1114.0" y1="2424" x2="1114.0" y2="2433.5" stroke="#000" stroke-width="2.2"/>
<line x1="1124.0" y1="2424" x2="1124.0" y2="2431.0" stroke="#000" stroke-width="2.2"/>
<line x1="1134.0" y1="2424" x2="1134.0" y2="2431.0" stroke="#000" stroke-width="2.2"/>
<line x1="1144.0" y1="2424" x2="1144.0" y2="2431.0" stroke="#000" stroke-width="2.2"/>
<line x1="1154.0" y1="2424" x2="1154.0" y2="2431.0" stroke="#000" stroke-width="2.2"/>
<line x1="1164.0" y1="2424" x2="1164.0" y2="2436.6" stroke="#000" stroke-width="2.6"/>
<text x="1164.0" y="2459.8" text-anchor="middle" class="tk">7</text>
<line x1="1174.0" y1="2424" x2="1174.0" y2="2431.0" stroke="#000" stroke-width="2.2"/>
<line x1="1184.0" y1="2424" x2="1184.0" y2="2431.0" stroke="#000" stroke-width="2.2"/>
<line x1="1194.0" y1="2424" x2="1194.0" y2="2431.0" stroke="#000" stroke-width="2.2"/>
<line x1="1204.0" y1="2424" x2="1204.0" y2="2431.0" stroke="#000" stroke-width="2.2"/>
<line x1="1214.0" y1="2424" x2="1214.0" y2="2433.5" stroke="#000" stroke-width="2.2"/>
<line x1="1224.0" y1="2424" x2="1224.0" y2="2431.0" stroke="#000" stroke-width="2.2"/>
<line x1="1234.0" y1="2424" x2="1234.0" y2="2431.0" stroke="#000" stroke-width="2.2"/>
<line x1="1244.0" y1="2424" x2="1244.0" y2="2431.0" stroke="#000" stroke-width="2.2"/>
<line x1="1254.0" y1="2424" x2="1254.0" y2="2431.0" stroke="#000" stroke-width="2.2"/>
<line x1="1264.0" y1="2424" x2="1264.0" y2="2436.6" stroke="#000" stroke-width="2.6"/>
<text x="1264.0" y="2459.8" text-anchor="middle" class="tk">8</text>
<line x1="746.4" y1="2415.5" x2="759" y2="2415.5" stroke="#000" stroke-width="2.6"/>
<text x="741.0" y="2421.2" text-anchor="end" class="tk">2</text>
<line x1="752.0" y1="2404.2" x2="759" y2="2404.2" stroke="#000" stroke-width="2.2"/>
<line x1="752.0" y1="2392.9" x2="759" y2="2392.9" stroke="#000" stroke-width="2.2"/>
<line x1="752.0" y1="2381.6" x2="759" y2="2381.6" stroke="#000" stroke-width="2.2"/>
<line x1="746.4" y1="2370.4" x2="759" y2="2370.4" stroke="#000" stroke-width="2.6"/>
<text x="741.0" y="2376.1" text-anchor="end" class="tk">4</text>
<line x1="752.0" y1="2359.1" x2="759" y2="2359.1" stroke="#000" stroke-width="2.2"/>
<line x1="752.0" y1="2347.8" x2="759" y2="2347.8" stroke="#000" stroke-width="2.2"/>
<line x1="752.0" y1="2336.5" x2="759" y2="2336.5" stroke="#000" stroke-width="2.2"/>
<line x1="746.4" y1="2325.2" x2="759" y2="2325.2" stroke="#000" stroke-width="2.6"/>
<text x="741.0" y="2330.9" text-anchor="end" class="tk">6</text>
<line x1="752.0" y1="2313.9" x2="759" y2="2313.9" stroke="#000" stroke-width="2.2"/>
<line x1="752.0" y1="2302.6" x2="759" y2="2302.6" stroke="#000" stroke-width="2.2"/>
<line x1="752.0" y1="2291.4" x2="759" y2="2291.4" stroke="#000" stroke-width="2.2"/>
<line x1="746.4" y1="2280.1" x2="759" y2="2280.1" stroke="#000" stroke-width="2.6"/>
<text x="741.0" y="2285.8" text-anchor="end" class="tk">8</text>
<line x1="752.0" y1="2268.8" x2="759" y2="2268.8" stroke="#000" stroke-width="2.2"/>
<line x1="752.0" y1="2257.5" x2="759" y2="2257.5" stroke="#000" stroke-width="2.2"/>
<line x1="752.0" y1="2246.2" x2="759" y2="2246.2" stroke="#000" stroke-width="2.2"/>
<line x1="746.4" y1="2234.9" x2="759" y2="2234.9" stroke="#000" stroke-width="2.6"/>
<text x="741.0" y="2240.6" text-anchor="end" class="tk">10</text>
<line x1="752.0" y1="2223.6" x2="759" y2="2223.6" stroke="#000" stroke-width="2.2"/>
<line x1="752.0" y1="2212.4" x2="759" y2="2212.4" stroke="#000" stroke-width="2.2"/>
<line x1="752.0" y1="2201.1" x2="759" y2="2201.1" stroke="#000" stroke-width="2.2"/>
<line x1="746.4" y1="2189.8" x2="759" y2="2189.8" stroke="#000" stroke-width="2.6"/>
<text x="741.0" y="2195.5" text-anchor="end" class="tk">12</text>
<line x1="752.0" y1="2178.5" x2="759" y2="2178.5" stroke="#000" stroke-width="2.2"/>
<line x1="752.0" y1="2167.2" x2="759" y2="2167.2" stroke="#000" stroke-width="2.2"/>
<line x1="752.0" y1="2155.9" x2="759" y2="2155.9" stroke="#000" stroke-width="2.2"/>
<line x1="746.4" y1="2144.6" x2="759" y2="2144.6" stroke="#000" stroke-width="2.6"/>
<text x="741.0" y="2150.3" text-anchor="end" class="tk">14</text>
<line x1="752.0" y1="2133.4" x2="759" y2="2133.4" stroke="#000" stroke-width="2.2"/>
<line x1="752.0" y1="2122.1" x2="759" y2="2122.1" stroke="#000" stroke-width="2.2"/>
<line x1="752.0" y1="2110.8" x2="759" y2="2110.8" stroke="#000" stroke-width="2.2"/>
<line x1="746.4" y1="2099.5" x2="759" y2="2099.5" stroke="#000" stroke-width="2.6"/>
<text x="741.0" y="2105.2" text-anchor="end" class="tk">16</text>
<line x1="1272" y1="2423.4" x2="1279.0" y2="2423.4" stroke="#d11a1a" stroke-width="2.2"/>
<line x1="1272" y1="2415.5" x2="1284.6" y2="2415.5" stroke="#d11a1a" stroke-width="2.6"/>
<text x="1290.4" y="2421.2" class="tk rd">0</text>
<line x1="1272" y1="2407.6" x2="1279.0" y2="2407.6" stroke="#d11a1a" stroke-width="2.2"/>
<line x1="1272" y1="2399.7" x2="1279.0" y2="2399.7" stroke="#d11a1a" stroke-width="2.2"/>
<line x1="1272" y1="2391.8" x2="1279.0" y2="2391.8" stroke="#d11a1a" stroke-width="2.2"/>
<line x1="1272" y1="2383.9" x2="1279.0" y2="2383.9" stroke="#d11a1a" stroke-width="2.2"/>
<line x1="1272" y1="2376.0" x2="1281.5" y2="2376.0" stroke="#d11a1a" stroke-width="2.2"/>
<line x1="1272" y1="2368.1" x2="1279.0" y2="2368.1" stroke="#d11a1a" stroke-width="2.2"/>
<line x1="1272" y1="2360.2" x2="1279.0" y2="2360.2" stroke="#d11a1a" stroke-width="2.2"/>
<line x1="1272" y1="2352.3" x2="1279.0" y2="2352.3" stroke="#d11a1a" stroke-width="2.2"/>
<line x1="1272" y1="2344.4" x2="1279.0" y2="2344.4" stroke="#d11a1a" stroke-width="2.2"/>
<line x1="1272" y1="2336.5" x2="1284.6" y2="2336.5" stroke="#d11a1a" stroke-width="2.6"/>
<text x="1290.4" y="2342.2" class="tk rd">2</text>
<line x1="1272" y1="2328.6" x2="1279.0" y2="2328.6" stroke="#d11a1a" stroke-width="2.2"/>
<line x1="1272" y1="2320.7" x2="1279.0" y2="2320.7" stroke="#d11a1a" stroke-width="2.2"/>
<line x1="1272" y1="2312.8" x2="1279.0" y2="2312.8" stroke="#d11a1a" stroke-width="2.2"/>
<line x1="1272" y1="2304.9" x2="1279.0" y2="2304.9" stroke="#d11a1a" stroke-width="2.2"/>
<line x1="1272" y1="2297.0" x2="1281.5" y2="2297.0" stroke="#d11a1a" stroke-width="2.2"/>
<line x1="1272" y1="2289.1" x2="1279.0" y2="2289.1" stroke="#d11a1a" stroke-width="2.2"/>
<line x1="1272" y1="2281.2" x2="1279.0" y2="2281.2" stroke="#d11a1a" stroke-width="2.2"/>
<line x1="1272" y1="2273.3" x2="1279.0" y2="2273.3" stroke="#d11a1a" stroke-width="2.2"/>
<line x1="1272" y1="2265.4" x2="1279.0" y2="2265.4" stroke="#d11a1a" stroke-width="2.2"/>
<line x1="1272" y1="2257.5" x2="1284.6" y2="2257.5" stroke="#d11a1a" stroke-width="2.6"/>
<text x="1290.4" y="2263.2" class="tk rd">4</text>
<line x1="1272" y1="2249.6" x2="1279.0" y2="2249.6" stroke="#d11a1a" stroke-width="2.2"/>
<line x1="1272" y1="2241.7" x2="1279.0" y2="2241.7" stroke="#d11a1a" stroke-width="2.2"/>
<line x1="1272" y1="2233.8" x2="1279.0" y2="2233.8" stroke="#d11a1a" stroke-width="2.2"/>
<line x1="1272" y1="2225.9" x2="1279.0" y2="2225.9" stroke="#d11a1a" stroke-width="2.2"/>
<line x1="1272" y1="2218.0" x2="1281.5" y2="2218.0" stroke="#d11a1a" stroke-width="2.2"/>
<line x1="1272" y1="2210.1" x2="1279.0" y2="2210.1" stroke="#d11a1a" stroke-width="2.2"/>
<line x1="1272" y1="2202.2" x2="1279.0" y2="2202.2" stroke="#d11a1a" stroke-width="2.2"/>
<line x1="1272" y1="2194.3" x2="1279.0" y2="2194.3" stroke="#d11a1a" stroke-width="2.2"/>
<line x1="1272" y1="2186.4" x2="1279.0" y2="2186.4" stroke="#d11a1a" stroke-width="2.2"/>
<line x1="1272" y1="2178.5" x2="1284.6" y2="2178.5" stroke="#d11a1a" stroke-width="2.6"/>
<text x="1290.4" y="2184.2" class="tk rd">6</text>
<line x1="1272" y1="2170.6" x2="1279.0" y2="2170.6" stroke="#d11a1a" stroke-width="2.2"/>
<line x1="1272" y1="2162.7" x2="1279.0" y2="2162.7" stroke="#d11a1a" stroke-width="2.2"/>
<line x1="1272" y1="2154.8" x2="1279.0" y2="2154.8" stroke="#d11a1a" stroke-width="2.2"/>
<line x1="1272" y1="2146.9" x2="1279.0" y2="2146.9" stroke="#d11a1a" stroke-width="2.2"/>
<line x1="1272" y1="2139.0" x2="1281.5" y2="2139.0" stroke="#d11a1a" stroke-width="2.2"/>
<line x1="1272" y1="2131.1" x2="1279.0" y2="2131.1" stroke="#d11a1a" stroke-width="2.2"/>
<line x1="1272" y1="2123.2" x2="1279.0" y2="2123.2" stroke="#d11a1a" stroke-width="2.2"/>
<line x1="1272" y1="2115.3" x2="1279.0" y2="2115.3" stroke="#d11a1a" stroke-width="2.2"/>
<line x1="1272" y1="2107.4" x2="1279.0" y2="2107.4" stroke="#d11a1a" stroke-width="2.2"/>
<line x1="1272" y1="2099.5" x2="1284.6" y2="2099.5" stroke="#d11a1a" stroke-width="2.6"/>
<text x="1290.4" y="2105.2" class="tk rd">8</text>
<text x="1015.5" y="2480.5" text-anchor="middle" class="al">Flight altitude (km)</text>
<text transform="translate(703,2258.0) rotate(-90)" text-anchor="middle" class="al">Plume height (km)</text>
<text transform="translate(1317,2258.0) rotate(90)" text-anchor="middle" class="al rd">Plume age (h)</text>
<text x="683" y="2110" class="pl">(l)</text>
<text x="771" y="2118.6" class="ti" xml:space="preserve">Flight 6 August - Horsefly</text>
<text x="775.6" y="2169" class="sb" textLength="155.5" lengthAdjust="spacingAndGlyphs">(Moderately aged)</text></g>
</svg></body></html>
